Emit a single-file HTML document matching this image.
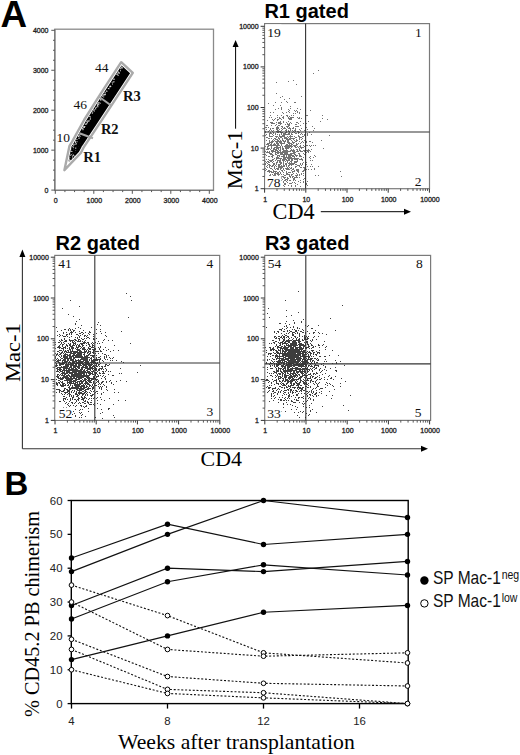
<!DOCTYPE html>
<html><head><meta charset="utf-8"><style>
html,body{margin:0;padding:0;background:#fff;width:520px;height:755px;overflow:hidden}
svg{display:block}
</style></head><body>
<svg width="520" height="755" viewBox="0 0 520 755">
<text x="0.4" y="26.7" font-family='"Liberation Sans", sans-serif' font-size="36.8" font-weight="bold" fill="#000" >A</text>
<text x="4.6" y="494.8" font-family='"Liberation Sans", sans-serif' font-size="33" font-weight="bold" fill="#000" >B</text>
<rect x="54.8" y="29.2" width="158.7" height="161.1" fill="none" stroke="#8a8a8a" stroke-width="1.3"/>
<line x1="54.8" y1="29.2" x2="54.8" y2="190.3" stroke="#7a7a7a" stroke-width="1.3" />
<line x1="54.8" y1="190.3" x2="213.5" y2="190.3" stroke="#7a7a7a" stroke-width="1.3" />
<line x1="51.3" y1="190.1" x2="54.8" y2="190.1" stroke="#555" stroke-width="1" />
<text x="48.5" y="192.6" font-family='"Liberation Sans", sans-serif' font-size="7" text-anchor="end" fill="#222" stroke="#222" stroke-width="0.3">0</text>
<line x1="55.3" y1="190.3" x2="55.3" y2="193.8" stroke="#555" stroke-width="1" />
<text x="55.8" y="202.5" font-family='"Liberation Sans", sans-serif' font-size="7" text-anchor="middle" fill="#222" stroke="#222" stroke-width="0.3">0</text>
<line x1="51.3" y1="150.15" x2="54.8" y2="150.15" stroke="#555" stroke-width="1" />
<text x="48.5" y="152.65" font-family='"Liberation Sans", sans-serif' font-size="7" text-anchor="end" fill="#222" stroke="#222" stroke-width="0.3">1000</text>
<line x1="93.8" y1="190.3" x2="93.8" y2="193.8" stroke="#555" stroke-width="1" />
<text x="94.3" y="202.5" font-family='"Liberation Sans", sans-serif' font-size="7" text-anchor="middle" fill="#222" stroke="#222" stroke-width="0.3">1000</text>
<line x1="51.3" y1="110.2" x2="54.8" y2="110.2" stroke="#555" stroke-width="1" />
<text x="48.5" y="112.7" font-family='"Liberation Sans", sans-serif' font-size="7" text-anchor="end" fill="#222" stroke="#222" stroke-width="0.3">2000</text>
<line x1="132.3" y1="190.3" x2="132.3" y2="193.8" stroke="#555" stroke-width="1" />
<text x="132.8" y="202.5" font-family='"Liberation Sans", sans-serif' font-size="7" text-anchor="middle" fill="#222" stroke="#222" stroke-width="0.3">2000</text>
<line x1="51.3" y1="70.25" x2="54.8" y2="70.25" stroke="#555" stroke-width="1" />
<text x="48.5" y="72.75" font-family='"Liberation Sans", sans-serif' font-size="7" text-anchor="end" fill="#222" stroke="#222" stroke-width="0.3">3000</text>
<line x1="170.8" y1="190.3" x2="170.8" y2="193.8" stroke="#555" stroke-width="1" />
<text x="171.3" y="202.5" font-family='"Liberation Sans", sans-serif' font-size="7" text-anchor="middle" fill="#222" stroke="#222" stroke-width="0.3">3000</text>
<line x1="51.3" y1="30.3" x2="54.8" y2="30.3" stroke="#555" stroke-width="1" />
<text x="48.5" y="32.8" font-family='"Liberation Sans", sans-serif' font-size="7" text-anchor="end" fill="#222" stroke="#222" stroke-width="0.3">4000</text>
<line x1="209.3" y1="190.3" x2="209.3" y2="193.8" stroke="#555" stroke-width="1" />
<text x="209.8" y="202.5" font-family='"Liberation Sans", sans-serif' font-size="7" text-anchor="middle" fill="#222" stroke="#222" stroke-width="0.3">4000</text>
<line x1="53" y1="180.11" x2="54.8" y2="180.11" stroke="#555" stroke-width="1" />
<line x1="64.92" y1="190.3" x2="64.92" y2="192.1" stroke="#555" stroke-width="1" />
<line x1="53" y1="170.12" x2="54.8" y2="170.12" stroke="#555" stroke-width="1" />
<line x1="74.55" y1="190.3" x2="74.55" y2="192.1" stroke="#555" stroke-width="1" />
<line x1="53" y1="160.14" x2="54.8" y2="160.14" stroke="#555" stroke-width="1" />
<line x1="84.17" y1="190.3" x2="84.17" y2="192.1" stroke="#555" stroke-width="1" />
<line x1="53" y1="140.16" x2="54.8" y2="140.16" stroke="#555" stroke-width="1" />
<line x1="103.42" y1="190.3" x2="103.42" y2="192.1" stroke="#555" stroke-width="1" />
<line x1="53" y1="130.17" x2="54.8" y2="130.17" stroke="#555" stroke-width="1" />
<line x1="113.05" y1="190.3" x2="113.05" y2="192.1" stroke="#555" stroke-width="1" />
<line x1="53" y1="120.19" x2="54.8" y2="120.19" stroke="#555" stroke-width="1" />
<line x1="122.67" y1="190.3" x2="122.67" y2="192.1" stroke="#555" stroke-width="1" />
<line x1="53" y1="100.21" x2="54.8" y2="100.21" stroke="#555" stroke-width="1" />
<line x1="141.93" y1="190.3" x2="141.93" y2="192.1" stroke="#555" stroke-width="1" />
<line x1="53" y1="90.22" x2="54.8" y2="90.22" stroke="#555" stroke-width="1" />
<line x1="151.55" y1="190.3" x2="151.55" y2="192.1" stroke="#555" stroke-width="1" />
<line x1="53" y1="80.24" x2="54.8" y2="80.24" stroke="#555" stroke-width="1" />
<line x1="161.18" y1="190.3" x2="161.18" y2="192.1" stroke="#555" stroke-width="1" />
<line x1="53" y1="60.26" x2="54.8" y2="60.26" stroke="#555" stroke-width="1" />
<line x1="180.43" y1="190.3" x2="180.43" y2="192.1" stroke="#555" stroke-width="1" />
<line x1="53" y1="50.27" x2="54.8" y2="50.27" stroke="#555" stroke-width="1" />
<line x1="190.05" y1="190.3" x2="190.05" y2="192.1" stroke="#555" stroke-width="1" />
<line x1="53" y1="40.29" x2="54.8" y2="40.29" stroke="#555" stroke-width="1" />
<line x1="199.68" y1="190.3" x2="199.68" y2="192.1" stroke="#555" stroke-width="1" />
<defs><clipPath id="gclip"><polygon points="67.96,163.42 71.48,146.61 73.8,142.98 85.91,121.07 101.17,96.73 121.6,65.43 130.07,73.24 99.05,120.54 81.68,146.64 79.07,151.77"/></clipPath></defs>
<g clip-path="url(#gclip)">
<polygon points="59.2,130.7 101.9,156.75 180.05,28.65 137.35,2.6" fill="#000"/>
<path d="M78.76 142.55h1.1v1.1h-1.1zM93.17 152.7h1.1v1.1h-1.1zM87.8 158.55h1.1v1.1h-1.1zM74.63 161.34h1.1v1.1h-1.1zM76.59 156.88h1.1v1.1h-1.1zM73.5 157.1h1.1v1.1h-1.1zM69.74 144.93h1.1v1.1h-1.1zM90.95 170.97h1.1v1.1h-1.1zM66.17 136.13h1.1v1.1h-1.1zM76.97 153.28h1.1v1.1h-1.1zM62.36 135.02h1.1v1.1h-1.1zM60.01 132.26h1.1v1.1h-1.1zM90.6 154.48h1.1v1.1h-1.1zM68.83 141.67h1.1v1.1h-1.1zM76.31 148.22h1.1v1.1h-1.1zM63.58 141.45h1.1v1.1h-1.1zM82.85 163.38h1.1v1.1h-1.1zM86.25 147.95h1.1v1.1h-1.1zM67.39 137.09h1.1v1.1h-1.1zM78.61 150.13h1.1v1.1h-1.1zM64.26 146.22h1.1v1.1h-1.1zM71.15 159.66h1.1v1.1h-1.1zM79.39 146.14h1.1v1.1h-1.1zM87.59 171.64h1.1v1.1h-1.1zM82.21 163.48h1.1v1.1h-1.1zM61.76 134.68h1.1v1.1h-1.1zM85.66 151.45h1.1v1.1h-1.1zM82.26 144.43h1.1v1.1h-1.1zM70.26 147.05h1.1v1.1h-1.1zM67.03 149.23h1.1v1.1h-1.1zM60.79 139.6h1.1v1.1h-1.1zM61.09 131.39h1.1v1.1h-1.1zM78.73 156.65h1.1v1.1h-1.1zM77.29 143.36h1.1v1.1h-1.1zM70.65 152.25h1.1v1.1h-1.1zM84.23 157.43h1.1v1.1h-1.1zM94.23 169.94h1.1v1.1h-1.1zM77.21 146.64h1.1v1.1h-1.1zM64.92 141.51h1.1v1.1h-1.1zM86.28 165.28h1.1v1.1h-1.1zM70.14 142.87h1.1v1.1h-1.1zM94.96 153.28h1.1v1.1h-1.1zM69.3 149.53h1.1v1.1h-1.1zM86.34 155.94h1.1v1.1h-1.1zM79.51 143.93h1.1v1.1h-1.1zM64.89 134.24h1.1v1.1h-1.1zM67.56 138.01h1.1v1.1h-1.1zM89.7 166.9h1.1v1.1h-1.1zM76.56 153.18h1.1v1.1h-1.1zM76.01 151.47h1.1v1.1h-1.1zM92.2 155.98h1.1v1.1h-1.1zM66.56 135.72h1.1v1.1h-1.1zM92.76 160.82h1.1v1.1h-1.1zM73.09 140.92h1.1v1.1h-1.1zM60.1 138.43h1.1v1.1h-1.1zM87.05 154.15h1.1v1.1h-1.1zM66.97 136.88h1.1v1.1h-1.1zM89.42 168.89h1.1v1.1h-1.1zM67.62 142.7h1.1v1.1h-1.1zM66.48 139.99h1.1v1.1h-1.1zM87.83 151.31h1.1v1.1h-1.1zM66.4 135.47h1.1v1.1h-1.1zM78.13 143.41h1.1v1.1h-1.1zM81.66 148.5h1.1v1.1h-1.1zM66.28 147.71h1.1v1.1h-1.1zM64.5 145.67h1.1v1.1h-1.1zM75.47 149.49h1.1v1.1h-1.1zM93.48 168.97h1.1v1.1h-1.1zM87.59 169.67h1.1v1.1h-1.1zM61.29 133.74h1.1v1.1h-1.1zM94.75 155.23h1.1v1.1h-1.1zM94.67 152.71h1.1v1.1h-1.1zM66.19 160.69h1.1v1.1h-1.1zM67.95 156.35h1.1v1.1h-1.1zM60.09 142.04h1.1v1.1h-1.1zM80.43 153.28h1.1v1.1h-1.1zM81.84 147.8h1.1v1.1h-1.1zM92.8 160.21h1.1v1.1h-1.1zM78.6 144.49h1.1v1.1h-1.1zM62.04 162.39h1.1v1.1h-1.1zM82.45 164.04h1.1v1.1h-1.1zM70.83 139.41h1.1v1.1h-1.1zM89.59 159.16h1.1v1.1h-1.1zM93.06 160.82h1.1v1.1h-1.1zM85.36 152.38h1.1v1.1h-1.1zM67.42 154.89h1.1v1.1h-1.1zM84.4 160.37h1.1v1.1h-1.1zM71.17 145.34h1.1v1.1h-1.1zM84.66 150.82h1.1v1.1h-1.1zM63.85 155.55h1.1v1.1h-1.1zM72.2 140.68h1.1v1.1h-1.1zM65.46 136.88h1.1v1.1h-1.1zM94.13 159.98h1.1v1.1h-1.1zM66.87 155.62h1.1v1.1h-1.1zM67.23 143.64h1.1v1.1h-1.1zM70.96 155.16h1.1v1.1h-1.1zM61.34 151.08h1.1v1.1h-1.1zM89.01 150.04h1.1v1.1h-1.1zM61.98 138.17h1.1v1.1h-1.1zM76.42 151.98h1.1v1.1h-1.1zM68.57 139.49h1.1v1.1h-1.1zM89.1 155.39h1.1v1.1h-1.1zM87.58 165.26h1.1v1.1h-1.1zM64.88 148.67h1.1v1.1h-1.1zM76.96 168.08h1.1v1.1h-1.1zM85.14 155.01h1.1v1.1h-1.1zM82.22 162.64h1.1v1.1h-1.1zM61.74 139.42h1.1v1.1h-1.1zM70.57 145.25h1.1v1.1h-1.1zM61.91 152.24h1.1v1.1h-1.1zM89.94 160.03h1.1v1.1h-1.1zM93.75 159.43h1.1v1.1h-1.1zM75.36 157.49h1.1v1.1h-1.1zM87.46 152.21h1.1v1.1h-1.1zM60.06 137.63h1.1v1.1h-1.1zM90.35 152.45h1.1v1.1h-1.1zM88.23 162.06h1.1v1.1h-1.1zM79.76 144.32h1.1v1.1h-1.1zM61.33 134.65h1.1v1.1h-1.1zM93.15 168.68h1.1v1.1h-1.1zM80.93 144.08h1.1v1.1h-1.1zM61.35 137.28h1.1v1.1h-1.1zM82.63 172.3h1.1v1.1h-1.1zM80.7 161.38h1.1v1.1h-1.1zM64.35 148.1h1.1v1.1h-1.1zM76.71 155.15h1.1v1.1h-1.1zM84.98 151.56h1.1v1.1h-1.1zM91.33 157.08h1.1v1.1h-1.1zM89.13 150.28h1.1v1.1h-1.1zM78.3 158.73h1.1v1.1h-1.1zM90.43 159.42h1.1v1.1h-1.1zM80.05 160.84h1.1v1.1h-1.1zM72.76 150.48h1.1v1.1h-1.1zM75.16 149.23h1.1v1.1h-1.1zM70.69 156.08h1.1v1.1h-1.1zM64.6 139.09h1.1v1.1h-1.1zM79.48 148.59h1.1v1.1h-1.1zM65.41 141.18h1.1v1.1h-1.1zM93.7 152.45h1.1v1.1h-1.1zM77.48 146.31h1.1v1.1h-1.1zM80.14 152.92h1.1v1.1h-1.1zM70.74 158.15h1.1v1.1h-1.1zM77.43 151.56h1.1v1.1h-1.1zM80.11 144.73h1.1v1.1h-1.1zM63.5 133.19h1.1v1.1h-1.1zM65.93 137.8h1.1v1.1h-1.1zM91.63 152.95h1.1v1.1h-1.1zM75.74 143.51h1.1v1.1h-1.1zM75.39 154.77h1.1v1.1h-1.1zM66.07 142.2h1.1v1.1h-1.1zM78.68 143.51h1.1v1.1h-1.1zM65.46 158.88h1.1v1.1h-1.1zM67.95 146.73h1.1v1.1h-1.1zM91.49 153.2h1.1v1.1h-1.1zM68.62 154.19h1.1v1.1h-1.1zM77.96 151.04h1.1v1.1h-1.1zM83.01 152.25h1.1v1.1h-1.1zM62.31 139.94h1.1v1.1h-1.1zM90.9 166.34h1.1v1.1h-1.1zM61.4 132.78h1.1v1.1h-1.1zM70.61 143.28h1.1v1.1h-1.1zM70.88 155.64h1.1v1.1h-1.1zM89.2 162.27h1.1v1.1h-1.1zM61.66 136.73h1.1v1.1h-1.1zM92.01 160.98h1.1v1.1h-1.1zM84.44 145.56h1.1v1.1h-1.1zM67.05 139.91h1.1v1.1h-1.1zM84.74 157.18h1.1v1.1h-1.1zM64.01 138.89h1.1v1.1h-1.1zM84.56 146.5h1.1v1.1h-1.1zM71.36 147.5h1.1v1.1h-1.1zM66.64 151.07h1.1v1.1h-1.1zM92.73 156.32h1.1v1.1h-1.1zM70.49 152.89h1.1v1.1h-1.1zM61.4 146.1h1.1v1.1h-1.1zM83.16 149.7h1.1v1.1h-1.1zM88.91 168.39h1.1v1.1h-1.1zM83.68 154.24h1.1v1.1h-1.1zM72.02 167.48h1.1v1.1h-1.1zM79.77 144.02h1.1v1.1h-1.1zM77.12 151.59h1.1v1.1h-1.1zM77.96 153.25h1.1v1.1h-1.1zM85.01 161.33h1.1v1.1h-1.1zM94.67 159.64h1.1v1.1h-1.1zM68.29 142.87h1.1v1.1h-1.1zM93.18 159.65h1.1v1.1h-1.1zM79.21 163.55h1.1v1.1h-1.1zM92.39 157.41h1.1v1.1h-1.1zM60.48 141.43h1.1v1.1h-1.1zM90.56 154.32h1.1v1.1h-1.1zM91.29 153.28h1.1v1.1h-1.1zM80.2 143.62h1.1v1.1h-1.1zM69.54 138.12h1.1v1.1h-1.1zM93.49 172.62h1.1v1.1h-1.1zM79.28 144.49h1.1v1.1h-1.1zM76.85 142.63h1.1v1.1h-1.1zM68.22 141.76h1.1v1.1h-1.1zM75.59 152.3h1.1v1.1h-1.1zM92.24 153h1.1v1.1h-1.1zM67.64 144.18h1.1v1.1h-1.1zM64.78 134.03h1.1v1.1h-1.1zM62.01 144.89h1.1v1.1h-1.1zM77.3 153.7h1.1v1.1h-1.1zM83.01 153.88h1.1v1.1h-1.1zM60.98 131.44h1.1v1.1h-1.1zM77.56 151.65h1.1v1.1h-1.1zM93.07 155.1h1.1v1.1h-1.1zM68.82 137.59h1.1v1.1h-1.1zM86.57 155.85h1.1v1.1h-1.1zM87.29 166.44h1.1v1.1h-1.1zM65.91 157.77h1.1v1.1h-1.1zM90.87 172.02h1.1v1.1h-1.1zM61.33 149.23h1.1v1.1h-1.1zM85.84 149.03h1.1v1.1h-1.1zM73.97 140.28h1.1v1.1h-1.1zM73.49 144.68h1.1v1.1h-1.1zM82.62 151.35h1.1v1.1h-1.1zM85.25 150.06h1.1v1.1h-1.1zM72.98 141.32h1.1v1.1h-1.1zM69.61 140.55h1.1v1.1h-1.1zM80.75 147.2h1.1v1.1h-1.1zM86.92 161.95h1.1v1.1h-1.1zM71.7 149.87h1.1v1.1h-1.1zM69.18 140.03h1.1v1.1h-1.1zM78.79 142.94h1.1v1.1h-1.1zM92.18 151.69h1.1v1.1h-1.1zM75.18 155.69h1.1v1.1h-1.1zM91.71 157.92h1.1v1.1h-1.1zM61.98 158.39h1.1v1.1h-1.1zM67.82 151.19h1.1v1.1h-1.1zM93.05 156.51h1.1v1.1h-1.1zM71.66 146.58h1.1v1.1h-1.1zM62.43 151.84h1.1v1.1h-1.1zM73.11 156.83h1.1v1.1h-1.1zM77.36 150.73h1.1v1.1h-1.1zM78.74 149.33h1.1v1.1h-1.1zM66.92 144.38h1.1v1.1h-1.1zM77.56 167.75h1.1v1.1h-1.1zM73.76 149.87h1.1v1.1h-1.1zM65.29 141.53h1.1v1.1h-1.1zM66.94 135.54h1.1v1.1h-1.1zM83.55 160.79h1.1v1.1h-1.1zM93.9 162.8h1.1v1.1h-1.1zM66.93 146.98h1.1v1.1h-1.1zM81.17 146.96h1.1v1.1h-1.1zM64.22 157.78h1.1v1.1h-1.1zM85.51 160.99h1.1v1.1h-1.1zM93.35 167.79h1.1v1.1h-1.1zM80.56 152.68h1.1v1.1h-1.1zM71.23 146.04h1.1v1.1h-1.1zM69.11 143.91h1.1v1.1h-1.1zM88.93 152.19h1.1v1.1h-1.1zM74.45 163.77h1.1v1.1h-1.1zM90.51 150.53h1.1v1.1h-1.1zM83.43 168.27h1.1v1.1h-1.1zM83.37 152.74h1.1v1.1h-1.1zM67.46 135.75h1.1v1.1h-1.1zM72.59 158.57h1.1v1.1h-1.1zM71.59 152.29h1.1v1.1h-1.1zM77.66 145.35h1.1v1.1h-1.1zM75.91 141.4h1.1v1.1h-1.1zM62.2 134.87h1.1v1.1h-1.1zM69.23 142.06h1.1v1.1h-1.1zM61.55 133.41h1.1v1.1h-1.1zM76.67 164.45h1.1v1.1h-1.1zM67.33 137.09h1.1v1.1h-1.1zM88.42 165.39h1.1v1.1h-1.1zM63.64 153.38h1.1v1.1h-1.1zM62.36 159.77h1.1v1.1h-1.1zM94.17 163.53h1.1v1.1h-1.1zM94.06 159.08h1.1v1.1h-1.1zM80.81 163.38h1.1v1.1h-1.1zM63.55 142.64h1.1v1.1h-1.1zM78.2 146.87h1.1v1.1h-1.1zM89.3 159.4h1.1v1.1h-1.1zM70.52 141.73h1.1v1.1h-1.1zM69.6 136.99h1.1v1.1h-1.1zM87.81 150.54h1.1v1.1h-1.1zM63.14 135.19h1.1v1.1h-1.1zM68.7 137.34h1.1v1.1h-1.1zM60.51 142.35h1.1v1.1h-1.1zM63.5 139.55h1.1v1.1h-1.1zM71.98 164.95h1.1v1.1h-1.1zM72.82 150.11h1.1v1.1h-1.1zM66.79 135.51h1.1v1.1h-1.1zM61.03 146.04h1.1v1.1h-1.1zM76.1 159.15h1.1v1.1h-1.1zM64.12 148.02h1.1v1.1h-1.1zM68.08 146.13h1.1v1.1h-1.1zM92.78 151.63h1.1v1.1h-1.1zM76.13 160.1h1.1v1.1h-1.1zM62.87 135.41h1.1v1.1h-1.1zM60.8 142.95h1.1v1.1h-1.1zM64.82 136.54h1.1v1.1h-1.1zM80.5 146.72h1.1v1.1h-1.1zM82.87 149.61h1.1v1.1h-1.1zM91.41 152.38h1.1v1.1h-1.1zM83.52 163.38h1.1v1.1h-1.1zM93.55 162.71h1.1v1.1h-1.1zM83.22 161.81h1.1v1.1h-1.1zM84.66 145.99h1.1v1.1h-1.1zM66.06 158.4h1.1v1.1h-1.1zM62.94 132.8h1.1v1.1h-1.1zM81.84 158.44h1.1v1.1h-1.1zM92.51 151.9h1.1v1.1h-1.1zM87.9 163.5h1.1v1.1h-1.1zM83.22 152.12h1.1v1.1h-1.1zM66.75 152.96h1.1v1.1h-1.1zM71.04 159.62h1.1v1.1h-1.1zM61.72 149.66h1.1v1.1h-1.1zM77.74 150.02h1.1v1.1h-1.1zM73.55 148.21h1.1v1.1h-1.1zM93.47 153.99h1.1v1.1h-1.1zM68.68 137.25h1.1v1.1h-1.1zM90.21 152.59h1.1v1.1h-1.1zM89.7 164.31h1.1v1.1h-1.1zM72.8 142.98h1.1v1.1h-1.1zM83.69 156.32h1.1v1.1h-1.1zM90.46 151.29h1.1v1.1h-1.1zM63.51 140.7h1.1v1.1h-1.1zM91.49 160.22h1.1v1.1h-1.1zM90.59 152.52h1.1v1.1h-1.1zM86.07 163.48h1.1v1.1h-1.1zM67.06 139.48h1.1v1.1h-1.1zM92.64 151.88h1.1v1.1h-1.1zM68.95 149.8h1.1v1.1h-1.1zM84.92 159.11h1.1v1.1h-1.1zM89.34 169.4h1.1v1.1h-1.1zM87.89 157.53h1.1v1.1h-1.1zM65.67 135.49h1.1v1.1h-1.1zM66.93 153.41h1.1v1.1h-1.1zM72.39 145.41h1.1v1.1h-1.1zM74.06 145.76h1.1v1.1h-1.1zM93.07 151.37h1.1v1.1h-1.1zM91.41 163.42h1.1v1.1h-1.1zM76.69 140.97h1.1v1.1h-1.1zM72.97 143.61h1.1v1.1h-1.1zM91.95 150.87h1.1v1.1h-1.1zM72.29 160.38h1.1v1.1h-1.1zM78.56 157.67h1.1v1.1h-1.1zM73.42 158.15h1.1v1.1h-1.1zM92.51 154.53h1.1v1.1h-1.1zM92.56 161.33h1.1v1.1h-1.1zM85.56 156.14h1.1v1.1h-1.1zM77.28 159.65h1.1v1.1h-1.1zM68.72 164.12h1.1v1.1h-1.1zM89.8 167.88h1.1v1.1h-1.1zM83.87 160.75h1.1v1.1h-1.1zM83.94 151.6h1.1v1.1h-1.1zM76.46 148.67h1.1v1.1h-1.1zM93.59 172.12h1.1v1.1h-1.1zM61 134.82h1.1v1.1h-1.1zM93.19 157.9h1.1v1.1h-1.1zM90.19 157.15h1.1v1.1h-1.1zM70.95 152.29h1.1v1.1h-1.1zM90.82 149.75h1.1v1.1h-1.1zM89.06 172.1h1.1v1.1h-1.1zM81.82 156.36h1.1v1.1h-1.1zM85.41 151.46h1.1v1.1h-1.1zM62.88 140.92h1.1v1.1h-1.1zM82.71 145.33h1.1v1.1h-1.1zM65.41 139.66h1.1v1.1h-1.1zM65.48 155.01h1.1v1.1h-1.1zM67.8 144.12h1.1v1.1h-1.1zM64.95 148.22h1.1v1.1h-1.1zM85.03 163.44h1.1v1.1h-1.1zM74.66 156.88h1.1v1.1h-1.1zM73.13 138.94h1.1v1.1h-1.1zM75.82 142.18h1.1v1.1h-1.1zM62.13 142.31h1.1v1.1h-1.1zM68.03 141.17h1.1v1.1h-1.1zM73.91 153.57h1.1v1.1h-1.1zM83.6 154.33h1.1v1.1h-1.1zM67.45 139.94h1.1v1.1h-1.1zM72.63 144.3h1.1v1.1h-1.1zM83.65 148.86h1.1v1.1h-1.1zM82.58 158.3h1.1v1.1h-1.1zM76.92 154.6h1.1v1.1h-1.1zM88.98 149.99h1.1v1.1h-1.1zM60.91 141.16h1.1v1.1h-1.1zM62.53 154.96h1.1v1.1h-1.1zM65.59 139.04h1.1v1.1h-1.1zM73.19 152.78h1.1v1.1h-1.1zM66.4 152.72h1.1v1.1h-1.1zM77.63 165.17h1.1v1.1h-1.1zM82.52 158.18h1.1v1.1h-1.1zM79.27 160.19h1.1v1.1h-1.1zM89.36 166.78h1.1v1.1h-1.1zM87.6 159.69h1.1v1.1h-1.1zM76.15 152.59h1.1v1.1h-1.1zM79.51 166.51h1.1v1.1h-1.1zM79.1 163.79h1.1v1.1h-1.1zM92.85 168.07h1.1v1.1h-1.1zM79.63 144.98h1.1v1.1h-1.1zM80.51 159.1h1.1v1.1h-1.1zM70.55 159.36h1.1v1.1h-1.1zM65.29 135.68h1.1v1.1h-1.1zM63.17 134.34h1.1v1.1h-1.1zM80.92 166.44h1.1v1.1h-1.1zM69.62 155.84h1.1v1.1h-1.1zM88.04 148.8h1.1v1.1h-1.1zM88.5 154.37h1.1v1.1h-1.1zM69.07 154.58h1.1v1.1h-1.1zM76.19 159.25h1.1v1.1h-1.1zM73.69 145.39h1.1v1.1h-1.1zM87.56 147.81h1.1v1.1h-1.1zM89.56 157.13h1.1v1.1h-1.1zM65.45 152.26h1.1v1.1h-1.1zM69.36 143.95h1.1v1.1h-1.1zM75.24 143.24h1.1v1.1h-1.1zM67.99 137.14h1.1v1.1h-1.1zM94.63 167.56h1.1v1.1h-1.1zM79.24 164.02h1.1v1.1h-1.1zM88.44 152.2h1.1v1.1h-1.1zM87.76 155.32h1.1v1.1h-1.1zM62.66 146.72h1.1v1.1h-1.1zM82.6 149.26h1.1v1.1h-1.1zM78.98 143.03h1.1v1.1h-1.1zM94.53 161.41h1.1v1.1h-1.1zM90.75 156.92h1.1v1.1h-1.1zM93.91 154.92h1.1v1.1h-1.1zM78.06 143.51h1.1v1.1h-1.1zM79.17 169.54h1.1v1.1h-1.1zM88.05 149.35h1.1v1.1h-1.1zM88.72 164.4h1.1v1.1h-1.1zM92.89 163.9h1.1v1.1h-1.1zM89.71 152.21h1.1v1.1h-1.1zM68.81 151.05h1.1v1.1h-1.1zM84.4 157.31h1.1v1.1h-1.1zM74.32 146.58h1.1v1.1h-1.1zM78.61 158.57h1.1v1.1h-1.1zM73.48 139.06h1.1v1.1h-1.1zM82.35 148.07h1.1v1.1h-1.1zM77.57 161.89h1.1v1.1h-1.1zM86.34 147.49h1.1v1.1h-1.1zM67.74 143.01h1.1v1.1h-1.1zM72.29 145.07h1.1v1.1h-1.1zM94.28 152.03h1.1v1.1h-1.1zM61.88 132.64h1.1v1.1h-1.1zM78.81 150.58h1.1v1.1h-1.1zM79.37 156.41h1.1v1.1h-1.1zM61.53 148.38h1.1v1.1h-1.1zM85.79 155.03h1.1v1.1h-1.1zM73.75 151.97h1.1v1.1h-1.1zM66.92 139.92h1.1v1.1h-1.1zM93.23 170.91h1.1v1.1h-1.1zM71.55 140.41h1.1v1.1h-1.1zM75.06 168.11h1.1v1.1h-1.1zM64.08 142.63h1.1v1.1h-1.1zM79.66 147.83h1.1v1.1h-1.1zM77.44 156.93h1.1v1.1h-1.1zM66.57 159.13h1.1v1.1h-1.1zM65.21 150.36h1.1v1.1h-1.1zM81.8 166.33h1.1v1.1h-1.1zM93.82 167.77h1.1v1.1h-1.1zM87.42 159.72h1.1v1.1h-1.1zM74.47 170.43h1.1v1.1h-1.1zM77.93 163.5h1.1v1.1h-1.1zM69.31 136.48h1.1v1.1h-1.1zM71.5 140.03h1.1v1.1h-1.1zM88.16 171.94h1.1v1.1h-1.1zM74.91 145.22h1.1v1.1h-1.1zM73.69 145.49h1.1v1.1h-1.1zM85.03 147.04h1.1v1.1h-1.1zM64.26 135.99h1.1v1.1h-1.1zM64.35 151.9h1.1v1.1h-1.1zM65.79 134.23h1.1v1.1h-1.1zM67.48 140.95h1.1v1.1h-1.1zM84.45 147.12h1.1v1.1h-1.1zM62.41 137.47h1.1v1.1h-1.1zM88.8 151.4h1.1v1.1h-1.1zM68.7 138.98h1.1v1.1h-1.1zM88.77 153.12h1.1v1.1h-1.1zM69.87 138.08h1.1v1.1h-1.1zM66.09 136.6h1.1v1.1h-1.1zM81.08 162.53h1.1v1.1h-1.1zM74.13 163.41h1.1v1.1h-1.1zM87.56 152.48h1.1v1.1h-1.1zM74.26 150.83h1.1v1.1h-1.1zM73 141.48h1.1v1.1h-1.1zM78.59 161.98h1.1v1.1h-1.1zM73.93 147.99h1.1v1.1h-1.1zM69.14 146.49h1.1v1.1h-1.1zM64.33 141.59h1.1v1.1h-1.1zM85 147.61h1.1v1.1h-1.1zM76.31 154.58h1.1v1.1h-1.1zM88.56 148.44h1.1v1.1h-1.1zM94.43 169.96h1.1v1.1h-1.1zM72.85 152.93h1.1v1.1h-1.1zM84.79 156.32h1.1v1.1h-1.1zM78.8 152.59h1.1v1.1h-1.1zM71.35 140.16h1.1v1.1h-1.1zM81.33 145.32h1.1v1.1h-1.1zM82.07 160.45h1.1v1.1h-1.1zM61.28 145.72h1.1v1.1h-1.1zM78.41 155.36h1.1v1.1h-1.1zM81.7 151.01h1.1v1.1h-1.1zM78.34 145.21h1.1v1.1h-1.1zM85.75 158.61h1.1v1.1h-1.1zM60.69 141.34h1.1v1.1h-1.1zM91.6 164.11h1.1v1.1h-1.1zM62.11 145.88h1.1v1.1h-1.1zM74.28 152.22h1.1v1.1h-1.1zM63.4 139.94h1.1v1.1h-1.1zM94.32 163.04h1.1v1.1h-1.1zM69.06 143.34h1.1v1.1h-1.1zM60.09 137.48h1.1v1.1h-1.1zM71.35 144.9h1.1v1.1h-1.1zM88.7 167.79h1.1v1.1h-1.1zM77.54 151.94h1.1v1.1h-1.1zM80.1 157.32h1.1v1.1h-1.1zM79.81 153.86h1.1v1.1h-1.1zM80.62 150.42h1.1v1.1h-1.1zM93.97 161.48h1.1v1.1h-1.1zM79.9 146.1h1.1v1.1h-1.1zM84.84 148.49h1.1v1.1h-1.1zM94.96 163.4h1.1v1.1h-1.1zM75.65 142.16h1.1v1.1h-1.1zM76.46 150.56h1.1v1.1h-1.1zM63.68 148.23h1.1v1.1h-1.1zM77.5 150.45h1.1v1.1h-1.1zM77.26 163.21h1.1v1.1h-1.1zM64.64 134.9h1.1v1.1h-1.1zM84.94 163.07h1.1v1.1h-1.1zM76.81 147.49h1.1v1.1h-1.1zM93.38 153.54h1.1v1.1h-1.1zM85.13 150.8h1.1v1.1h-1.1zM73.6 146.6h1.1v1.1h-1.1zM86.03 168.44h1.1v1.1h-1.1zM60.41 154.33h1.1v1.1h-1.1zM72.42 159.4h1.1v1.1h-1.1zM78.05 150.89h1.1v1.1h-1.1zM80.29 146.41h1.1v1.1h-1.1zM89.06 158.19h1.1v1.1h-1.1zM93.91 166.49h1.1v1.1h-1.1zM94.85 153.75h1.1v1.1h-1.1zM67.79 156.35h1.1v1.1h-1.1zM93.73 152.89h1.1v1.1h-1.1zM76.57 159.22h1.1v1.1h-1.1zM89.97 157.59h1.1v1.1h-1.1zM75.45 157.78h1.1v1.1h-1.1zM67.6 137.31h1.1v1.1h-1.1zM60.08 141.98h1.1v1.1h-1.1zM92.45 161.6h1.1v1.1h-1.1zM82.84 149.02h1.1v1.1h-1.1zM91.67 151.16h1.1v1.1h-1.1zM82.59 163.75h1.1v1.1h-1.1zM83.27 150.05h1.1v1.1h-1.1zM73.44 151.51h1.1v1.1h-1.1zM74.37 142.36h1.1v1.1h-1.1zM79.09 167.23h1.1v1.1h-1.1zM69.68 149.69h1.1v1.1h-1.1zM89.58 166.09h1.1v1.1h-1.1zM93.29 156.01h1.1v1.1h-1.1zM79.64 160.46h1.1v1.1h-1.1zM82.02 157.11h1.1v1.1h-1.1zM62.16 140.73h1.1v1.1h-1.1zM82.07 146.12h1.1v1.1h-1.1zM78.39 147.97h1.1v1.1h-1.1zM75.23 145.08h1.1v1.1h-1.1zM75.15 140.24h1.1v1.1h-1.1zM82.84 145.6h1.1v1.1h-1.1zM73.02 149.62h1.1v1.1h-1.1zM75.27 145.39h1.1v1.1h-1.1zM82.67 151.64h1.1v1.1h-1.1zM68.13 155.43h1.1v1.1h-1.1zM90.9 152.82h1.1v1.1h-1.1zM81.11 151.52h1.1v1.1h-1.1zM67.59 144.49h1.1v1.1h-1.1zM78.89 166.94h1.1v1.1h-1.1zM60.47 147.31h1.1v1.1h-1.1zM78.89 147.18h1.1v1.1h-1.1zM83.18 148.68h1.1v1.1h-1.1zM62.24 134.86h1.1v1.1h-1.1zM89.79 149.83h1.1v1.1h-1.1zM69.51 149.53h1.1v1.1h-1.1zM68.16 153.68h1.1v1.1h-1.1zM78.2 156.1h1.1v1.1h-1.1zM62.19 145.01h1.1v1.1h-1.1zM86.05 161.71h1.1v1.1h-1.1zM64.34 142.16h1.1v1.1h-1.1zM79.77 150.29h1.1v1.1h-1.1zM85.25 153.04h1.1v1.1h-1.1zM70.52 161.1h1.1v1.1h-1.1zM69.41 151.59h1.1v1.1h-1.1zM92.65 155.28h1.1v1.1h-1.1zM77.46 149.38h1.1v1.1h-1.1zM80.06 156.99h1.1v1.1h-1.1zM68.92 164.56h1.1v1.1h-1.1zM60.17 137.7h1.1v1.1h-1.1zM93.52 157.56h1.1v1.1h-1.1zM68.43 147.8h1.1v1.1h-1.1zM61.57 146.59h1.1v1.1h-1.1zM90.88 158.08h1.1v1.1h-1.1zM81.28 144.05h1.1v1.1h-1.1zM69.88 138.19h1.1v1.1h-1.1zM68.74 149.12h1.1v1.1h-1.1zM87.99 167.2h1.1v1.1h-1.1zM83.31 157.28h1.1v1.1h-1.1zM69.07 140.05h1.1v1.1h-1.1zM94.92 160.24h1.1v1.1h-1.1zM66.15 142.72h1.1v1.1h-1.1zM67.02 141.33h1.1v1.1h-1.1zM82.86 144.73h1.1v1.1h-1.1zM69.24 158.43h1.1v1.1h-1.1zM61.81 138.6h1.1v1.1h-1.1zM92.2 162.9h1.1v1.1h-1.1zM66.96 138.41h1.1v1.1h-1.1zM89.78 158.75h1.1v1.1h-1.1zM82.4 158.34h1.1v1.1h-1.1zM79.16 144.87h1.1v1.1h-1.1zM82.42 168.66h1.1v1.1h-1.1zM81.88 150.64h1.1v1.1h-1.1zM65.09 135.54h1.1v1.1h-1.1zM73.25 152.08h1.1v1.1h-1.1zM72.32 160.43h1.1v1.1h-1.1zM83.55 146.13h1.1v1.1h-1.1zM62.61 138.43h1.1v1.1h-1.1zM77.04 145.23h1.1v1.1h-1.1zM72.31 150.12h1.1v1.1h-1.1zM64.12 135.79h1.1v1.1h-1.1zM86.36 149.92h1.1v1.1h-1.1zM94.1 163.69h1.1v1.1h-1.1zM87.09 150.42h1.1v1.1h-1.1zM83.4 170.56h1.1v1.1h-1.1zM75.8 145.74h1.1v1.1h-1.1zM79.41 150.11h1.1v1.1h-1.1zM83.86 168.93h1.1v1.1h-1.1zM78.33 162.56h1.1v1.1h-1.1zM80.55 147.03h1.1v1.1h-1.1zM66.09 148.28h1.1v1.1h-1.1zM86.26 154.89h1.1v1.1h-1.1zM75.91 148.89h1.1v1.1h-1.1zM64.52 135.8h1.1v1.1h-1.1zM83.6 167.51h1.1v1.1h-1.1zM62.36 154.69h1.1v1.1h-1.1zM78.44 142.05h1.1v1.1h-1.1zM83.55 148.43h1.1v1.1h-1.1zM73.34 141.86h1.1v1.1h-1.1zM79.09 169.56h1.1v1.1h-1.1zM74.69 142.59h1.1v1.1h-1.1zM74.42 165.7h1.1v1.1h-1.1zM75.65 155.73h1.1v1.1h-1.1zM93.9 154.58h1.1v1.1h-1.1zM80.08 164.86h1.1v1.1h-1.1zM72.38 157.15h1.1v1.1h-1.1zM92.4 158.15h1.1v1.1h-1.1zM75.16 144.3h1.1v1.1h-1.1zM80.24 162.12h1.1v1.1h-1.1zM82.63 157.53h1.1v1.1h-1.1zM68.07 139.55h1.1v1.1h-1.1zM73.79 146.95h1.1v1.1h-1.1zM85.25 160.72h1.1v1.1h-1.1zM68.78 153.69h1.1v1.1h-1.1zM79.4 162.11h1.1v1.1h-1.1zM60.99 131.54h1.1v1.1h-1.1zM78.91 146.86h1.1v1.1h-1.1zM65.28 144.24h1.1v1.1h-1.1zM87.58 153.58h1.1v1.1h-1.1zM62.36 151.12h1.1v1.1h-1.1zM81.89 164.43h1.1v1.1h-1.1zM93.11 156.99h1.1v1.1h-1.1zM86.23 151.19h1.1v1.1h-1.1zM67.72 156.24h1.1v1.1h-1.1zM86.37 157.95h1.1v1.1h-1.1zM82.09 155.89h1.1v1.1h-1.1zM70.21 146.67h1.1v1.1h-1.1zM66.9 140.24h1.1v1.1h-1.1zM64.15 141.11h1.1v1.1h-1.1zM65.98 138.96h1.1v1.1h-1.1zM62.99 140.83h1.1v1.1h-1.1zM94.58 161.61h1.1v1.1h-1.1zM80.76 144.54h1.1v1.1h-1.1zM84.98 167.06h1.1v1.1h-1.1zM75 153.79h1.1v1.1h-1.1zM72.21 152.37h1.1v1.1h-1.1zM76.33 162.8h1.1v1.1h-1.1zM85.13 148.47h1.1v1.1h-1.1zM78.68 172.18h1.1v1.1h-1.1zM74.03 150.61h1.1v1.1h-1.1zM73.36 147.34h1.1v1.1h-1.1zM63.72 135.71h1.1v1.1h-1.1zM69.01 142.05h1.1v1.1h-1.1zM79.34 143.76h1.1v1.1h-1.1zM71.72 147.39h1.1v1.1h-1.1zM93.35 152.2h1.1v1.1h-1.1zM86.71 150.3h1.1v1.1h-1.1zM75.22 149.03h1.1v1.1h-1.1zM76.31 163.58h1.1v1.1h-1.1zM88.79 150.61h1.1v1.1h-1.1zM77.36 147.63h1.1v1.1h-1.1zM86.18 166.89h1.1v1.1h-1.1zM76.34 159.32h1.1v1.1h-1.1zM82.14 149.57h1.1v1.1h-1.1zM77.25 148.53h1.1v1.1h-1.1zM74.32 147.54h1.1v1.1h-1.1zM69.14 144.28h1.1v1.1h-1.1zM65.17 142.45h1.1v1.1h-1.1zM76.8 158.81h1.1v1.1h-1.1zM64.4 159.42h1.1v1.1h-1.1zM80.84 162.21h1.1v1.1h-1.1zM89.41 150.13h1.1v1.1h-1.1zM81.33 156.07h1.1v1.1h-1.1zM92.27 157.1h1.1v1.1h-1.1zM85.63 154.5h1.1v1.1h-1.1zM68.54 148.5h1.1v1.1h-1.1zM68.3 160.14h1.1v1.1h-1.1zM69.06 147.97h1.1v1.1h-1.1zM82.77 151.19h1.1v1.1h-1.1zM81.28 145.03h1.1v1.1h-1.1zM79.7 142.67h1.1v1.1h-1.1zM79.59 162.33h1.1v1.1h-1.1zM74.76 145.97h1.1v1.1h-1.1zM76.28 152.86h1.1v1.1h-1.1zM81.17 151.01h1.1v1.1h-1.1zM64.15 144.88h1.1v1.1h-1.1zM89.81 152.17h1.1v1.1h-1.1zM79.27 156.47h1.1v1.1h-1.1zM63.06 135.71h1.1v1.1h-1.1zM63.75 133.78h1.1v1.1h-1.1zM69.87 139.28h1.1v1.1h-1.1zM88.49 150.09h1.1v1.1h-1.1zM74.55 152.5h1.1v1.1h-1.1zM62.96 135.34h1.1v1.1h-1.1zM80.55 144.18h1.1v1.1h-1.1zM76.82 152.54h1.1v1.1h-1.1zM83.06 159.08h1.1v1.1h-1.1zM80.61 154.04h1.1v1.1h-1.1zM84.71 146.39h1.1v1.1h-1.1zM90.29 157.02h1.1v1.1h-1.1zM73.4 149.36h1.1v1.1h-1.1zM92.16 163.27h1.1v1.1h-1.1zM72.58 158.15h1.1v1.1h-1.1zM84.05 146.18h1.1v1.1h-1.1zM64.47 136.62h1.1v1.1h-1.1zM92.63 162.39h1.1v1.1h-1.1zM63.45 153.15h1.1v1.1h-1.1zM88.34 155.76h1.1v1.1h-1.1zM88.08 153.66h1.1v1.1h-1.1zM76.06 144.11h1.1v1.1h-1.1zM63.71 147.87h1.1v1.1h-1.1zM75.29 152.01h1.1v1.1h-1.1zM73.39 144.16h1.1v1.1h-1.1zM67.95 139.53h1.1v1.1h-1.1zM89.06 155.81h1.1v1.1h-1.1zM77.49 146.17h1.1v1.1h-1.1zM69.66 138.88h1.1v1.1h-1.1zM85.16 148.82h1.1v1.1h-1.1zM73.91 157.14h1.1v1.1h-1.1zM80.52 153.98h1.1v1.1h-1.1zM85.71 157.66h1.1v1.1h-1.1zM74.32 149.44h1.1v1.1h-1.1zM73.07 160.23h1.1v1.1h-1.1zM92 166.37h1.1v1.1h-1.1zM82.7 148.5h1.1v1.1h-1.1zM68.32 143.53h1.1v1.1h-1.1zM72.43 149.26h1.1v1.1h-1.1zM64.52 155.3h1.1v1.1h-1.1zM88.65 157.91h1.1v1.1h-1.1zM66 156.57h1.1v1.1h-1.1zM86.11 155.46h1.1v1.1h-1.1zM64.57 134.68h1.1v1.1h-1.1zM66.76 144.94h1.1v1.1h-1.1zM74.58 143.18h1.1v1.1h-1.1zM61.47 139.57h1.1v1.1h-1.1zM69.82 150.22h1.1v1.1h-1.1zM88.34 161.67h1.1v1.1h-1.1zM93.4 155.76h1.1v1.1h-1.1zM94.35 158.52h1.1v1.1h-1.1zM60.48 134.3h1.1v1.1h-1.1zM72.33 153.84h1.1v1.1h-1.1zM75.47 157.83h1.1v1.1h-1.1zM65.65 136.34h1.1v1.1h-1.1zM63.89 143.8h1.1v1.1h-1.1zM91.3 165.03h1.1v1.1h-1.1zM62.27 135.57h1.1v1.1h-1.1zM64.59 133.46h1.1v1.1h-1.1zM67.09 147.94h1.1v1.1h-1.1zM84.67 154.27h1.1v1.1h-1.1zM80.68 155.29h1.1v1.1h-1.1zM69.5 136.95h1.1v1.1h-1.1zM93.64 152.59h1.1v1.1h-1.1zM80 159.32h1.1v1.1h-1.1zM75.64 142.68h1.1v1.1h-1.1zM68.19 139.58h1.1v1.1h-1.1zM70.59 145.05h1.1v1.1h-1.1zM71.97 149.39h1.1v1.1h-1.1zM73.32 146.63h1.1v1.1h-1.1zM93.4 158.19h1.1v1.1h-1.1zM67.11 136.43h1.1v1.1h-1.1zM67.3 135.83h1.1v1.1h-1.1zM69.32 145.1h1.1v1.1h-1.1zM60.17 157.35h1.1v1.1h-1.1zM67.28 140.88h1.1v1.1h-1.1zM89.65 165.53h1.1v1.1h-1.1zM92.44 158.94h1.1v1.1h-1.1zM68.41 147.41h1.1v1.1h-1.1zM88.11 159.1h1.1v1.1h-1.1zM84.97 151.36h1.1v1.1h-1.1zM92.06 153.36h1.1v1.1h-1.1zM82.07 153.87h1.1v1.1h-1.1zM70.47 161.55h1.1v1.1h-1.1zM94.37 161.36h1.1v1.1h-1.1zM73.03 141.29h1.1v1.1h-1.1zM62.28 134.88h1.1v1.1h-1.1zM94.3 162.94h1.1v1.1h-1.1zM83.4 154.07h1.1v1.1h-1.1zM65.85 134.46h1.1v1.1h-1.1zM60.9 145.53h1.1v1.1h-1.1zM80.25 144.72h1.1v1.1h-1.1zM84.01 146.17h1.1v1.1h-1.1zM80.57 144.4h1.1v1.1h-1.1zM76.13 147.08h1.1v1.1h-1.1zM71.35 141.69h1.1v1.1h-1.1zM78.61 159.07h1.1v1.1h-1.1zM77.04 169.42h1.1v1.1h-1.1zM78.98 163.26h1.1v1.1h-1.1zM67.68 145.49h1.1v1.1h-1.1zM94.81 156.92h1.1v1.1h-1.1zM86.14 156.13h1.1v1.1h-1.1zM82.24 151.07h1.1v1.1h-1.1zM64.38 142.45h1.1v1.1h-1.1zM69.92 147.08h1.1v1.1h-1.1zM62.23 149.65h1.1v1.1h-1.1zM73.42 151.06h1.1v1.1h-1.1zM76.89 141.62h1.1v1.1h-1.1zM73.89 150.39h1.1v1.1h-1.1zM82.01 148.01h1.1v1.1h-1.1zM94.78 154.64h1.1v1.1h-1.1zM77.27 150.33h1.1v1.1h-1.1zM89.45 172.52h1.1v1.1h-1.1zM66.57 150.46h1.1v1.1h-1.1zM70.57 157.12h1.1v1.1h-1.1zM69.88 157.72h1.1v1.1h-1.1zM94.02 158.23h1.1v1.1h-1.1zM71.41 163.86h1.1v1.1h-1.1zM79.07 143.69h1.1v1.1h-1.1zM82.4 154.81h1.1v1.1h-1.1zM82.34 147.07h1.1v1.1h-1.1zM60.41 135.49h1.1v1.1h-1.1zM70.46 150.28h1.1v1.1h-1.1zM94.41 156.42h1.1v1.1h-1.1zM76.72 146.42h1.1v1.1h-1.1zM71.34 148.17h1.1v1.1h-1.1zM74.89 152.35h1.1v1.1h-1.1zM81.46 154.35h1.1v1.1h-1.1zM75.43 143.18h1.1v1.1h-1.1zM94.17 160.27h1.1v1.1h-1.1zM75.42 145.9h1.1v1.1h-1.1zM69.2 136.27h1.1v1.1h-1.1zM73.78 161.14h1.1v1.1h-1.1zM84.91 147.16h1.1v1.1h-1.1zM71.02 141.28h1.1v1.1h-1.1zM73.52 160.27h1.1v1.1h-1.1zM62.7 153.64h1.1v1.1h-1.1zM86.93 151.41h1.1v1.1h-1.1zM62.25 156.52h1.1v1.1h-1.1zM84.29 155.44h1.1v1.1h-1.1zM76.16 145.31h1.1v1.1h-1.1zM73.98 149.68h1.1v1.1h-1.1zM85.86 158.17h1.1v1.1h-1.1zM85.22 147.62h1.1v1.1h-1.1zM67.97 146.17h1.1v1.1h-1.1zM79.21 150.49h1.1v1.1h-1.1zM84.95 153.47h1.1v1.1h-1.1zM61.36 145.41h1.1v1.1h-1.1zM83.27 156.46h1.1v1.1h-1.1zM67.48 159.13h1.1v1.1h-1.1zM62.87 150.65h1.1v1.1h-1.1zM73.91 143.16h1.1v1.1h-1.1zM90.52 160.37h1.1v1.1h-1.1zM86.93 159.34h1.1v1.1h-1.1zM89.87 150.12h1.1v1.1h-1.1zM62.6 156.6h1.1v1.1h-1.1zM60.45 132.21h1.1v1.1h-1.1zM74.25 140.46h1.1v1.1h-1.1zM92.13 162.41h1.1v1.1h-1.1zM83.58 163.73h1.1v1.1h-1.1zM91.14 153.37h1.1v1.1h-1.1zM74.7 153.31h1.1v1.1h-1.1zM83.27 149.16h1.1v1.1h-1.1zM61.81 148.29h1.1v1.1h-1.1zM72.36 146.63h1.1v1.1h-1.1zM77.29 165.7h1.1v1.1h-1.1zM89.26 157.19h1.1v1.1h-1.1zM73.29 159.66h1.1v1.1h-1.1zM60.28 135.79h1.1v1.1h-1.1zM86.54 155.53h1.1v1.1h-1.1zM74.49 152.83h1.1v1.1h-1.1zM61.67 132.77h1.1v1.1h-1.1zM67.73 140.7h1.1v1.1h-1.1zM88.41 162.08h1.1v1.1h-1.1zM86.83 155.63h1.1v1.1h-1.1zM61.96 136.28h1.1v1.1h-1.1zM77.81 165.84h1.1v1.1h-1.1zM85.45 151.07h1.1v1.1h-1.1zM91.17 163.18h1.1v1.1h-1.1zM84.68 159.24h1.1v1.1h-1.1zM70.54 139.4h1.1v1.1h-1.1zM68.83 153.09h1.1v1.1h-1.1zM86.26 166.72h1.1v1.1h-1.1zM76.57 167.34h1.1v1.1h-1.1zM68.49 136.55h1.1v1.1h-1.1zM94.62 168.36h1.1v1.1h-1.1zM86.6 158.47h1.1v1.1h-1.1zM92.17 159.34h1.1v1.1h-1.1zM90.15 168h1.1v1.1h-1.1zM71.88 147.81h1.1v1.1h-1.1zM75.43 153.79h1.1v1.1h-1.1zM93.86 163.21h1.1v1.1h-1.1zM61.26 153.53h1.1v1.1h-1.1zM78.17 162.15h1.1v1.1h-1.1zM75.29 150.97h1.1v1.1h-1.1zM67.06 154.3h1.1v1.1h-1.1zM80.06 144.74h1.1v1.1h-1.1zM68.8 156.22h1.1v1.1h-1.1zM62.13 136.98h1.1v1.1h-1.1zM82.66 154.56h1.1v1.1h-1.1zM78.88 148.53h1.1v1.1h-1.1zM63.15 158.67h1.1v1.1h-1.1zM67.79 147.58h1.1v1.1h-1.1zM81.7 153.5h1.1v1.1h-1.1zM79.46 166.54h1.1v1.1h-1.1zM84.71 153.47h1.1v1.1h-1.1zM78.99 154.98h1.1v1.1h-1.1zM74.49 144.62h1.1v1.1h-1.1zM80.34 144.58h1.1v1.1h-1.1zM88.26 157.15h1.1v1.1h-1.1zM64.53 152.9h1.1v1.1h-1.1zM86.42 153.55h1.1v1.1h-1.1zM61.8 159.13h1.1v1.1h-1.1zM84.54 158.43h1.1v1.1h-1.1zM71.75 140.03h1.1v1.1h-1.1zM88.37 161.69h1.1v1.1h-1.1zM64.41 146.84h1.1v1.1h-1.1zM87.82 158.73h1.1v1.1h-1.1zM74.43 159.29h1.1v1.1h-1.1zM81.42 149.25h1.1v1.1h-1.1zM80.8 154.84h1.1v1.1h-1.1zM63.46 163.7h1.1v1.1h-1.1zM86.75 172.55h1.1v1.1h-1.1zM75.46 144.72h1.1v1.1h-1.1zM91.95 170.8h1.1v1.1h-1.1zM60.21 140.07h1.1v1.1h-1.1zM87.16 170.59h1.1v1.1h-1.1zM66.32 136.73h1.1v1.1h-1.1zM88.34 157.97h1.1v1.1h-1.1zM82.15 144.47h1.1v1.1h-1.1zM72.03 145.09h1.1v1.1h-1.1zM70.91 141.88h1.1v1.1h-1.1zM73.98 161.87h1.1v1.1h-1.1zM70.33 153.2h1.1v1.1h-1.1zM63.19 134.62h1.1v1.1h-1.1zM91.2 164.83h1.1v1.1h-1.1zM65.18 138.84h1.1v1.1h-1.1zM77.38 158.41h1.1v1.1h-1.1zM80.77 149.08h1.1v1.1h-1.1zM69.36 153.37h1.1v1.1h-1.1zM64.95 138.19h1.1v1.1h-1.1zM76.39 142.37h1.1v1.1h-1.1zM85.65 148.85h1.1v1.1h-1.1zM65.32 146.95h1.1v1.1h-1.1zM69.75 137.06h1.1v1.1h-1.1zM85.51 161.72h1.1v1.1h-1.1zM93.86 154.8h1.1v1.1h-1.1zM93.67 153.73h1.1v1.1h-1.1zM87.35 157.41h1.1v1.1h-1.1zM84.56 158.27h1.1v1.1h-1.1zM63.35 145.57h1.1v1.1h-1.1zM71.74 141.53h1.1v1.1h-1.1zM87.9 149.34h1.1v1.1h-1.1zM89.61 169.35h1.1v1.1h-1.1zM74.14 159.52h1.1v1.1h-1.1zM86.79 165.78h1.1v1.1h-1.1zM83.89 163.96h1.1v1.1h-1.1zM76.38 159.05h1.1v1.1h-1.1zM77.66 165.17h1.1v1.1h-1.1zM62.93 147.18h1.1v1.1h-1.1zM72.41 149.64h1.1v1.1h-1.1zM94.05 155.81h1.1v1.1h-1.1zM67.87 140.43h1.1v1.1h-1.1zM80.97 159.42h1.1v1.1h-1.1zM93.15 160.87h1.1v1.1h-1.1zM88.85 148.71h1.1v1.1h-1.1zM60.83 151.5h1.1v1.1h-1.1zM61.29 138.43h1.1v1.1h-1.1zM84.02 166.09h1.1v1.1h-1.1zM81.99 144.69h1.1v1.1h-1.1zM71.21 140.32h1.1v1.1h-1.1zM66.98 152.52h1.1v1.1h-1.1zM70.41 146.18h1.1v1.1h-1.1zM62.54 152.41h1.1v1.1h-1.1zM61.18 138.17h1.1v1.1h-1.1zM75.34 152.48h1.1v1.1h-1.1zM77.77 152.75h1.1v1.1h-1.1zM70.37 151.98h1.1v1.1h-1.1zM66.75 158.07h1.1v1.1h-1.1zM63.87 133.46h1.1v1.1h-1.1zM84.6 156.01h1.1v1.1h-1.1zM77.5 152.31h1.1v1.1h-1.1zM88.53 149.94h1.1v1.1h-1.1zM82.33 149.48h1.1v1.1h-1.1zM77.99 143.26h1.1v1.1h-1.1zM80.43 150.31h1.1v1.1h-1.1zM87.04 157.22h1.1v1.1h-1.1zM91.27 173h1.1v1.1h-1.1zM87.92 161.37h1.1v1.1h-1.1zM77.07 159.5h1.1v1.1h-1.1zM74.47 147.15h1.1v1.1h-1.1zM67.27 140.02h1.1v1.1h-1.1zM71.93 139.87h1.1v1.1h-1.1zM88.22 148.01h1.1v1.1h-1.1zM79.51 150.53h1.1v1.1h-1.1zM60.92 156.21h1.1v1.1h-1.1zM61.71 132.63h1.1v1.1h-1.1zM93.45 151.72h1.1v1.1h-1.1zM70.23 153.18h1.1v1.1h-1.1zM87.7 172.02h1.1v1.1h-1.1zM61.2 131.82h1.1v1.1h-1.1zM78.09 148.16h1.1v1.1h-1.1zM73.97 165.96h1.1v1.1h-1.1zM93.2 153.23h1.1v1.1h-1.1zM84.97 154.98h1.1v1.1h-1.1zM62.9 143.58h1.1v1.1h-1.1zM61.59 150.68h1.1v1.1h-1.1zM82.87 156.28h1.1v1.1h-1.1zM79.46 155.4h1.1v1.1h-1.1zM70.94 144.68h1.1v1.1h-1.1zM75.92 151.23h1.1v1.1h-1.1zM93.37 153.73h1.1v1.1h-1.1zM94.83 160.55h1.1v1.1h-1.1zM87.5 152.84h1.1v1.1h-1.1zM82.8 152.77h1.1v1.1h-1.1zM71.48 155.62h1.1v1.1h-1.1zM88.94 160.44h1.1v1.1h-1.1zM71.17 142.61h1.1v1.1h-1.1zM80.61 143.72h1.1v1.1h-1.1zM69.86 149.48h1.1v1.1h-1.1zM80.33 147.75h1.1v1.1h-1.1zM70.77 145.6h1.1v1.1h-1.1zM78.43 143.81h1.1v1.1h-1.1zM65.98 150.5h1.1v1.1h-1.1zM90.06 151.6h1.1v1.1h-1.1zM89.53 170.34h1.1v1.1h-1.1zM69.13 145.74h1.1v1.1h-1.1zM67.42 145.64h1.1v1.1h-1.1zM80.77 144.87h1.1v1.1h-1.1zM65.7 140.1h1.1v1.1h-1.1zM87 152.55h1.1v1.1h-1.1zM88.44 164.93h1.1v1.1h-1.1zM66.33 136.78h1.1v1.1h-1.1zM88.74 156.85h1.1v1.1h-1.1zM63.78 142.3h1.1v1.1h-1.1zM92.58 159.89h1.1v1.1h-1.1zM93.51 170.87h1.1v1.1h-1.1zM88.2 153.35h1.1v1.1h-1.1zM79.75 148.75h1.1v1.1h-1.1zM88.69 172.42h1.1v1.1h-1.1zM77.98 147.59h1.1v1.1h-1.1zM64.67 134.3h1.1v1.1h-1.1zM61.19 141.41h1.1v1.1h-1.1zM81.53 147.27h1.1v1.1h-1.1zM66 158.82h1.1v1.1h-1.1zM71.68 145.13h1.1v1.1h-1.1zM69.72 161.51h1.1v1.1h-1.1zM79.09 145.28h1.1v1.1h-1.1zM86.34 158.89h1.1v1.1h-1.1zM89.43 151.43h1.1v1.1h-1.1zM76.45 150.97h1.1v1.1h-1.1zM85.8 159.13h1.1v1.1h-1.1zM60.1 139.74h1.1v1.1h-1.1zM66.73 135.69h1.1v1.1h-1.1zM89.61 164.13h1.1v1.1h-1.1zM80.63 160.15h1.1v1.1h-1.1zM94.22 162.7h1.1v1.1h-1.1zM76.97 143.21h1.1v1.1h-1.1zM64.87 140.43h1.1v1.1h-1.1zM90.57 159.15h1.1v1.1h-1.1zM65.41 147.69h1.1v1.1h-1.1zM61.54 138.69h1.1v1.1h-1.1zM72.97 156.15h1.1v1.1h-1.1zM67.95 137.81h1.1v1.1h-1.1zM70.38 153.71h1.1v1.1h-1.1zM63.72 144.86h1.1v1.1h-1.1zM89.49 161.49h1.1v1.1h-1.1zM91.75 159.25h1.1v1.1h-1.1zM65.3 158.89h1.1v1.1h-1.1zM63.97 156.25h1.1v1.1h-1.1zM69.02 150.39h1.1v1.1h-1.1zM65.52 142.03h1.1v1.1h-1.1zM71.67 140.54h1.1v1.1h-1.1zM61.99 148.81h1.1v1.1h-1.1zM92.16 162.97h1.1v1.1h-1.1zM74.2 144.56h1.1v1.1h-1.1zM62.34 136.31h1.1v1.1h-1.1zM86.65 155.31h1.1v1.1h-1.1zM64.89 142.84h1.1v1.1h-1.1zM79.13 161.79h1.1v1.1h-1.1zM64.19 137.82h1.1v1.1h-1.1zM87.71 155.79h1.1v1.1h-1.1zM79.81 149.01h1.1v1.1h-1.1zM77.44 141.63h1.1v1.1h-1.1zM87.25 158.82h1.1v1.1h-1.1zM77.1 142.12h1.1v1.1h-1.1zM60.93 139.58h1.1v1.1h-1.1zM76.17 148.08h1.1v1.1h-1.1zM64.57 139.95h1.1v1.1h-1.1zM93.67 153.05h1.1v1.1h-1.1zM69.35 143.44h1.1v1.1h-1.1zM71.71 159.77h1.1v1.1h-1.1zM86.65 153.22h1.1v1.1h-1.1zM71.09 149.13h1.1v1.1h-1.1zM69.07 155.62h1.1v1.1h-1.1zM92.16 150.35h1.1v1.1h-1.1zM66.17 138.27h1.1v1.1h-1.1zM82.26 147.59h1.1v1.1h-1.1zM87.82 165.98h1.1v1.1h-1.1zM75.95 152.97h1.1v1.1h-1.1zM71.25 139.17h1.1v1.1h-1.1zM75.78 141.82h1.1v1.1h-1.1zM78.66 156.03h1.1v1.1h-1.1zM68.68 150.28h1.1v1.1h-1.1zM87.11 157.54h1.1v1.1h-1.1zM67.43 141.05h1.1v1.1h-1.1zM86.91 153.65h1.1v1.1h-1.1zM76.34 153.89h1.1v1.1h-1.1zM75.72 152.74h1.1v1.1h-1.1zM89.33 165.6h1.1v1.1h-1.1zM88.2 154.62h1.1v1.1h-1.1zM66.93 135.54h1.1v1.1h-1.1zM71.84 148.96h1.1v1.1h-1.1zM61.51 139.59h1.1v1.1h-1.1zM81.58 151.71h1.1v1.1h-1.1zM92.12 164.62h1.1v1.1h-1.1zM63.27 133.75h1.1v1.1h-1.1zM63.71 139.22h1.1v1.1h-1.1zM62.11 135.74h1.1v1.1h-1.1zM92.38 167.21h1.1v1.1h-1.1zM79.3 144.03h1.1v1.1h-1.1zM84.43 147.02h1.1v1.1h-1.1zM91.56 167.93h1.1v1.1h-1.1zM67.36 135.41h1.1v1.1h-1.1zM61.82 140.94h1.1v1.1h-1.1zM78.28 141.96h1.1v1.1h-1.1zM88.48 161.27h1.1v1.1h-1.1zM68.13 141.69h1.1v1.1h-1.1zM82.89 163.52h1.1v1.1h-1.1zM78.6 159.96h1.1v1.1h-1.1zM70.96 140.05h1.1v1.1h-1.1zM61.61 138.84h1.1v1.1h-1.1zM73.63 139.47h1.1v1.1h-1.1zM79.75 152.63h1.1v1.1h-1.1zM81.9 146.7h1.1v1.1h-1.1zM76.93 151.09h1.1v1.1h-1.1zM69.71 142.14h1.1v1.1h-1.1zM67.28 154.21h1.1v1.1h-1.1zM76.34 140.75h1.1v1.1h-1.1zM73.96 142.41h1.1v1.1h-1.1zM65.16 133.81h1.1v1.1h-1.1zM62.03 134.47h1.1v1.1h-1.1zM90.48 160.84h1.1v1.1h-1.1zM90.34 153.26h1.1v1.1h-1.1zM73.77 152.52h1.1v1.1h-1.1zM78.07 145.27h1.1v1.1h-1.1zM77.4 142.52h1.1v1.1h-1.1zM80.03 157.65h1.1v1.1h-1.1zM76.8 144.3h1.1v1.1h-1.1zM63.85 133.57h1.1v1.1h-1.1zM86.8 148.61h1.1v1.1h-1.1zM68.21 138.22h1.1v1.1h-1.1zM89.56 152.59h1.1v1.1h-1.1zM82.23 156.41h1.1v1.1h-1.1zM74.36 141.58h1.1v1.1h-1.1zM74.41 148.4h1.1v1.1h-1.1zM82.54 168.29h1.1v1.1h-1.1zM93.01 161.78h1.1v1.1h-1.1zM77.49 143.55h1.1v1.1h-1.1zM88.29 148.17h1.1v1.1h-1.1zM93.33 160.7h1.1v1.1h-1.1zM66.09 143.2h1.1v1.1h-1.1zM71.4 162.73h1.1v1.1h-1.1zM66.54 150.85h1.1v1.1h-1.1zM77.29 152.28h1.1v1.1h-1.1zM93.14 171.35h1.1v1.1h-1.1zM90.89 155.1h1.1v1.1h-1.1zM67.56 150.67h1.1v1.1h-1.1zM90.38 168.98h1.1v1.1h-1.1zM81.34 164.56h1.1v1.1h-1.1zM63.79 158.29h1.1v1.1h-1.1zM87.05 156.77h1.1v1.1h-1.1zM77.78 149.01h1.1v1.1h-1.1zM81.59 150.83h1.1v1.1h-1.1zM79.54 145.84h1.1v1.1h-1.1zM72.62 141.1h1.1v1.1h-1.1zM73.52 160.05h1.1v1.1h-1.1zM87.17 150.66h1.1v1.1h-1.1zM73.61 145.41h1.1v1.1h-1.1zM84.27 145.48h1.1v1.1h-1.1zM76.21 146.95h1.1v1.1h-1.1zM79.96 150.44h1.1v1.1h-1.1zM87.59 171.95h1.1v1.1h-1.1zM74.31 147.6h1.1v1.1h-1.1zM77.48 161.82h1.1v1.1h-1.1zM92.8 160.88h1.1v1.1h-1.1zM65.17 144.66h1.1v1.1h-1.1zM74.02 164.67h1.1v1.1h-1.1zM83.26 151.93h1.1v1.1h-1.1zM61.87 136.13h1.1v1.1h-1.1zM80.94 154.31h1.1v1.1h-1.1zM73.67 144.02h1.1v1.1h-1.1zM70.63 158.54h1.1v1.1h-1.1zM66.6 147.34h1.1v1.1h-1.1zM65.25 139.2h1.1v1.1h-1.1zM68.9 153.66h1.1v1.1h-1.1zM81.38 149.02h1.1v1.1h-1.1zM71.03 157.35h1.1v1.1h-1.1zM93.64 169.91h1.1v1.1h-1.1zM64.64 145.61h1.1v1.1h-1.1zM63.86 134.83h1.1v1.1h-1.1zM84.5 145.75h1.1v1.1h-1.1zM76.17 142.26h1.1v1.1h-1.1zM70.63 141.88h1.1v1.1h-1.1zM80.77 146.72h1.1v1.1h-1.1zM60.2 133.95h1.1v1.1h-1.1zM73.61 150.33h1.1v1.1h-1.1zM87.85 158.54h1.1v1.1h-1.1zM81.11 144.62h1.1v1.1h-1.1zM85.23 148.52h1.1v1.1h-1.1zM73.75 142.66h1.1v1.1h-1.1zM76.48 153.36h1.1v1.1h-1.1zM77.15 149.98h1.1v1.1h-1.1zM77.65 150.34h1.1v1.1h-1.1zM80.35 159.22h1.1v1.1h-1.1zM87.31 150.41h1.1v1.1h-1.1zM82.06 153.48h1.1v1.1h-1.1zM70.13 141.91h1.1v1.1h-1.1zM82.71 151.38h1.1v1.1h-1.1zM62.32 148.87h1.1v1.1h-1.1zM92.25 156.07h1.1v1.1h-1.1zM90.13 157.73h1.1v1.1h-1.1zM79.42 154.87h1.1v1.1h-1.1zM80.21 155.02h1.1v1.1h-1.1zM76.68 168.61h1.1v1.1h-1.1zM82.88 171.61h1.1v1.1h-1.1zM81.43 160.82h1.1v1.1h-1.1zM69.46 151.78h1.1v1.1h-1.1zM85.71 161h1.1v1.1h-1.1zM88.59 154.07h1.1v1.1h-1.1zM71.14 138.87h1.1v1.1h-1.1zM63.34 139.25h1.1v1.1h-1.1zM62.85 135.31h1.1v1.1h-1.1zM66.12 137.28h1.1v1.1h-1.1zM81.39 155.92h1.1v1.1h-1.1zM65.15 156.16h1.1v1.1h-1.1zM77.23 170.74h1.1v1.1h-1.1zM67.86 136.15h1.1v1.1h-1.1zM70.14 139.96h1.1v1.1h-1.1zM81.94 160.7h1.1v1.1h-1.1zM81.13 162.57h1.1v1.1h-1.1zM90.5 152.78h1.1v1.1h-1.1zM61.4 157.68h1.1v1.1h-1.1zM66.74 156.4h1.1v1.1h-1.1zM65.47 139.72h1.1v1.1h-1.1zM76.36 151.74h1.1v1.1h-1.1zM72.1 147.04h1.1v1.1h-1.1zM75.99 160.3h1.1v1.1h-1.1zM70.09 147.6h1.1v1.1h-1.1zM83.9 171.94h1.1v1.1h-1.1zM72.75 143.29h1.1v1.1h-1.1zM93.69 161.82h1.1v1.1h-1.1zM78.18 146.58h1.1v1.1h-1.1zM93.8 165.95h1.1v1.1h-1.1zM87.04 165.33h1.1v1.1h-1.1zM80.71 153.71h1.1v1.1h-1.1zM90.97 154.31h1.1v1.1h-1.1zM86.35 154.21h1.1v1.1h-1.1zM65.93 134.65h1.1v1.1h-1.1zM71.18 153.22h1.1v1.1h-1.1zM64.77 158.48h1.1v1.1h-1.1zM62.93 141.25h1.1v1.1h-1.1zM72.35 151.21h1.1v1.1h-1.1zM86.91 147.63h1.1v1.1h-1.1zM63.92 149.16h1.1v1.1h-1.1zM83.82 149.24h1.1v1.1h-1.1zM80.51 145.65h1.1v1.1h-1.1zM70.78 155.21h1.1v1.1h-1.1zM72.35 147.33h1.1v1.1h-1.1zM91.25 166.2h1.1v1.1h-1.1zM60.56 145.08h1.1v1.1h-1.1zM93.8 157.32h1.1v1.1h-1.1zM61.93 143.74h1.1v1.1h-1.1zM91.5 158.9h1.1v1.1h-1.1zM94.48 154.25h1.1v1.1h-1.1zM65.97 151.35h1.1v1.1h-1.1zM92.37 165.47h1.1v1.1h-1.1zM64.27 133.31h1.1v1.1h-1.1zM62.52 138.46h1.1v1.1h-1.1zM65.55 160.98h1.1v1.1h-1.1zM83.54 161.15h1.1v1.1h-1.1zM68.73 141.19h1.1v1.1h-1.1zM64.78 144.41h1.1v1.1h-1.1zM63.39 143.39h1.1v1.1h-1.1zM89.15 167.41h1.1v1.1h-1.1zM66.29 151.81h1.1v1.1h-1.1zM66.6 160.97h1.1v1.1h-1.1zM78.14 145.22h1.1v1.1h-1.1zM64.26 148.73h1.1v1.1h-1.1zM74.79 143.11h1.1v1.1h-1.1zM61.38 154.74h1.1v1.1h-1.1zM87.25 152.25h1.1v1.1h-1.1zM77.83 166.89h1.1v1.1h-1.1zM94.12 155.29h1.1v1.1h-1.1zM62.59 142.87h1.1v1.1h-1.1zM76.67 157.65h1.1v1.1h-1.1zM84.52 148.05h1.1v1.1h-1.1zM93.93 157.67h1.1v1.1h-1.1zM61.86 144.38h1.1v1.1h-1.1zM80.83 148.3h1.1v1.1h-1.1zM90.24 149.46h1.1v1.1h-1.1zM85.48 162.21h1.1v1.1h-1.1zM71.47 140.56h1.1v1.1h-1.1zM71.75 163.09h1.1v1.1h-1.1zM73.89 149.58h1.1v1.1h-1.1zM61.91 136.46h1.1v1.1h-1.1zM76.93 152.42h1.1v1.1h-1.1zM83.56 161.39h1.1v1.1h-1.1zM77.85 150.85h1.1v1.1h-1.1zM80.56 159.63h1.1v1.1h-1.1zM70.79 140.03h1.1v1.1h-1.1zM84.3 161.05h1.1v1.1h-1.1zM66.77 148.53h1.1v1.1h-1.1zM81.6 172.76h1.1v1.1h-1.1zM62.98 151.61h1.1v1.1h-1.1zM79.82 158.7h1.1v1.1h-1.1zM85.6 161.78h1.1v1.1h-1.1zM93.62 167.65h1.1v1.1h-1.1zM83.88 146.05h1.1v1.1h-1.1zM62.94 152.87h1.1v1.1h-1.1zM75.7 149.89h1.1v1.1h-1.1zM78.98 154.48h1.1v1.1h-1.1zM93.53 156.77h1.1v1.1h-1.1zM64.77 139.11h1.1v1.1h-1.1zM77.32 170.7h1.1v1.1h-1.1zM87.48 150.01h1.1v1.1h-1.1zM70.19 145.99h1.1v1.1h-1.1zM68.09 141.75h1.1v1.1h-1.1zM89.89 149.03h1.1v1.1h-1.1zM81.88 146.78h1.1v1.1h-1.1zM73.45 146.26h1.1v1.1h-1.1zM89.62 157.21h1.1v1.1h-1.1zM90.53 171.93h1.1v1.1h-1.1zM64.3 140.23h1.1v1.1h-1.1zM83.53 162.31h1.1v1.1h-1.1zM84.16 150.66h1.1v1.1h-1.1zM63.34 149.4h1.1v1.1h-1.1zM65.17 149.94h1.1v1.1h-1.1zM86.91 163.47h1.1v1.1h-1.1zM86.43 156.84h1.1v1.1h-1.1zM65.4 147.25h1.1v1.1h-1.1zM60.43 142.91h1.1v1.1h-1.1zM69.13 138.79h1.1v1.1h-1.1zM74.86 154.57h1.1v1.1h-1.1zM81.51 159.09h1.1v1.1h-1.1zM61.69 140.4h1.1v1.1h-1.1zM79.94 155.93h1.1v1.1h-1.1zM60.82 134.72h1.1v1.1h-1.1zM93.27 157.8h1.1v1.1h-1.1zM74.73 152.96h1.1v1.1h-1.1zM60.05 137.97h1.1v1.1h-1.1zM70.21 158.8h1.1v1.1h-1.1zM64.74 141.79h1.1v1.1h-1.1zM86.84 162.14h1.1v1.1h-1.1zM76.61 151.74h1.1v1.1h-1.1zM90.91 160.5h1.1v1.1h-1.1zM66.51 140.02h1.1v1.1h-1.1zM66.99 134.97h1.1v1.1h-1.1zM64.18 153.69h1.1v1.1h-1.1zM86.64 158.89h1.1v1.1h-1.1zM65.09 147.38h1.1v1.1h-1.1zM63.91 136.65h1.1v1.1h-1.1zM81.44 155.18h1.1v1.1h-1.1zM82.92 156.02h1.1v1.1h-1.1zM69.71 161.26h1.1v1.1h-1.1zM60.74 131.47h1.1v1.1h-1.1zM93.71 168.07h1.1v1.1h-1.1zM76.79 146.35h1.1v1.1h-1.1zM81.24 144.37h1.1v1.1h-1.1zM62.29 142.61h1.1v1.1h-1.1zM89.17 153.22h1.1v1.1h-1.1zM74.85 144.89h1.1v1.1h-1.1zM65.24 150.69h1.1v1.1h-1.1zM64.09 155.29h1.1v1.1h-1.1zM83.68 155.26h1.1v1.1h-1.1zM73.82 148.62h1.1v1.1h-1.1zM86 166.39h1.1v1.1h-1.1zM92.74 158.9h1.1v1.1h-1.1zM64.03 143.9h1.1v1.1h-1.1zM77.89 157.1h1.1v1.1h-1.1zM64.63 146.34h1.1v1.1h-1.1zM84.62 153.05h1.1v1.1h-1.1zM61.09 133.22h1.1v1.1h-1.1zM63.61 151.96h1.1v1.1h-1.1zM89.68 148.89h1.1v1.1h-1.1zM87.11 154.84h1.1v1.1h-1.1zM70.45 138.75h1.1v1.1h-1.1zM93.23 165.19h1.1v1.1h-1.1zM75.72 159.71h1.1v1.1h-1.1zM68.1 136.06h1.1v1.1h-1.1zM94.63 158.37h1.1v1.1h-1.1zM94.31 164.54h1.1v1.1h-1.1zM64.75 138.48h1.1v1.1h-1.1zM87.59 149.54h1.1v1.1h-1.1zM61.21 148.12h1.1v1.1h-1.1zM71.72 149.74h1.1v1.1h-1.1zM81.3 156.94h1.1v1.1h-1.1zM66.66 144.78h1.1v1.1h-1.1zM84.81 147.27h1.1v1.1h-1.1zM67.33 140.39h1.1v1.1h-1.1zM82.19 168.64h1.1v1.1h-1.1zM65.47 146.96h1.1v1.1h-1.1zM69.06 144.14h1.1v1.1h-1.1zM60.09 135.57h1.1v1.1h-1.1zM68.61 150.89h1.1v1.1h-1.1zM74.33 152.73h1.1v1.1h-1.1zM94.7 165.83h1.1v1.1h-1.1zM85.99 154.14h1.1v1.1h-1.1zM72.03 141.95h1.1v1.1h-1.1zM80.87 159.26h1.1v1.1h-1.1zM66.07 139.23h1.1v1.1h-1.1zM85.44 150.66h1.1v1.1h-1.1zM82.68 155.51h1.1v1.1h-1.1zM75.36 142.95h1.1v1.1h-1.1zM90.23 157.09h1.1v1.1h-1.1zM81.31 145.39h1.1v1.1h-1.1zM80.76 154.54h1.1v1.1h-1.1zM73.77 154.35h1.1v1.1h-1.1zM76.2 143.8h1.1v1.1h-1.1zM81.68 152.76h1.1v1.1h-1.1zM85.3 146.95h1.1v1.1h-1.1zM76.98 163.16h1.1v1.1h-1.1zM69.73 145.4h1.1v1.1h-1.1zM87.78 159.14h1.1v1.1h-1.1zM91.06 149.81h1.1v1.1h-1.1zM86.94 159.53h1.1v1.1h-1.1zM92.23 150.52h1.1v1.1h-1.1zM76.6 148.88h1.1v1.1h-1.1zM72 160.05h1.1v1.1h-1.1zM62.75 151.56h1.1v1.1h-1.1zM82.72 150.63h1.1v1.1h-1.1zM71.77 147.53h1.1v1.1h-1.1zM85.73 154.22h1.1v1.1h-1.1zM86.9 166.71h1.1v1.1h-1.1zM65.27 146.49h1.1v1.1h-1.1zM60.31 144.9h1.1v1.1h-1.1zM92.43 164.88h1.1v1.1h-1.1zM81.57 159.83h1.1v1.1h-1.1zM85.07 147.17h1.1v1.1h-1.1zM66.77 147.43h1.1v1.1h-1.1zM69.75 149.64h1.1v1.1h-1.1zM72.06 145.32h1.1v1.1h-1.1zM85.11 149.52h1.1v1.1h-1.1zM91.11 160h1.1v1.1h-1.1zM91.11 156.07h1.1v1.1h-1.1zM90.55 151.93h1.1v1.1h-1.1zM88.07 161.08h1.1v1.1h-1.1zM62.49 143.69h1.1v1.1h-1.1zM78.2 162.47h1.1v1.1h-1.1zM84.22 147.34h1.1v1.1h-1.1zM92.71 158.47h1.1v1.1h-1.1zM74.42 142.13h1.1v1.1h-1.1zM74.47 142.02h1.1v1.1h-1.1zM92.81 153.5h1.1v1.1h-1.1zM75.26 143.94h1.1v1.1h-1.1zM76.55 144.58h1.1v1.1h-1.1zM69.54 138.12h1.1v1.1h-1.1zM80.1 147.18h1.1v1.1h-1.1zM65.38 141.25h1.1v1.1h-1.1zM62.85 157.7h1.1v1.1h-1.1zM66.76 139.19h1.1v1.1h-1.1zM79.7 150.2h1.1v1.1h-1.1zM60.05 143.33h1.1v1.1h-1.1zM77.07 147.88h1.1v1.1h-1.1zM71.52 155.11h1.1v1.1h-1.1zM75.32 151.47h1.1v1.1h-1.1zM71.4 149.17h1.1v1.1h-1.1zM68.74 147.93h1.1v1.1h-1.1zM79.12 146.64h1.1v1.1h-1.1zM91.96 155.65h1.1v1.1h-1.1zM71.13 143.16h1.1v1.1h-1.1zM67.57 150.61h1.1v1.1h-1.1zM84.68 151.8h1.1v1.1h-1.1zM91.6 155.53h1.1v1.1h-1.1zM94.85 166.29h1.1v1.1h-1.1zM87.15 153.31h1.1v1.1h-1.1zM87.47 159.82h1.1v1.1h-1.1zM89.33 153.58h1.1v1.1h-1.1zM93.74 154.8h1.1v1.1h-1.1zM77.18 159.35h1.1v1.1h-1.1zM89.47 150.56h1.1v1.1h-1.1zM69.74 138.15h1.1v1.1h-1.1zM83.58 145.9h1.1v1.1h-1.1zM89.21 157.87h1.1v1.1h-1.1zM65.67 142.32h1.1v1.1h-1.1zM73.34 155.79h1.1v1.1h-1.1zM94.82 155.82h1.1v1.1h-1.1zM89.65 153.66h1.1v1.1h-1.1zM81.34 147.96h1.1v1.1h-1.1zM92.74 157.16h1.1v1.1h-1.1zM79.19 153.14h1.1v1.1h-1.1zM70.3 140.04h1.1v1.1h-1.1zM70.29 165.19h1.1v1.1h-1.1zM60.49 141.16h1.1v1.1h-1.1zM77.83 144.64h1.1v1.1h-1.1zM77.67 145.97h1.1v1.1h-1.1zM74.93 145.06h1.1v1.1h-1.1zM81.48 155.59h1.1v1.1h-1.1zM93.27 155.55h1.1v1.1h-1.1zM76.66 150.17h1.1v1.1h-1.1zM69.33 143.26h1.1v1.1h-1.1zM91.93 159.23h1.1v1.1h-1.1zM70.86 156.94h1.1v1.1h-1.1zM77.31 144.58h1.1v1.1h-1.1zM60.92 158.17h1.1v1.1h-1.1zM65.74 141.09h1.1v1.1h-1.1zM82.59 146.51h1.1v1.1h-1.1zM64.42 134.45h1.1v1.1h-1.1zM63.59 135.54h1.1v1.1h-1.1zM78.35 157h1.1v1.1h-1.1zM67.29 142.5h1.1v1.1h-1.1zM85.14 156.96h1.1v1.1h-1.1zM93.62 151.18h1.1v1.1h-1.1zM68.41 143.98h1.1v1.1h-1.1zM66.53 155.35h1.1v1.1h-1.1zM86.68 147.3h1.1v1.1h-1.1zM65.53 141.87h1.1v1.1h-1.1zM68.42 153.65h1.1v1.1h-1.1zM86.11 151.22h1.1v1.1h-1.1zM83.15 151.83h1.1v1.1h-1.1zM87.96 153.02h1.1v1.1h-1.1zM91.15 156.03h1.1v1.1h-1.1zM94.36 153.4h1.1v1.1h-1.1zM63.77 145.83h1.1v1.1h-1.1zM66.94 138.43h1.1v1.1h-1.1zM88.2 163.71h1.1v1.1h-1.1zM69.66 153.41h1.1v1.1h-1.1zM65.39 140.2h1.1v1.1h-1.1zM92.35 153.83h1.1v1.1h-1.1zM71.22 139.11h1.1v1.1h-1.1zM90.19 165.84h1.1v1.1h-1.1zM75.35 152.04h1.1v1.1h-1.1zM69.79 143.91h1.1v1.1h-1.1zM64.76 142.96h1.1v1.1h-1.1zM72.22 138.99h1.1v1.1h-1.1zM61.71 151.93h1.1v1.1h-1.1zM73.24 163.29h1.1v1.1h-1.1zM79.2 163.59h1.1v1.1h-1.1zM91.9 161.37h1.1v1.1h-1.1zM89.38 151.87h1.1v1.1h-1.1zM91.29 156.18h1.1v1.1h-1.1zM72.28 138.35h1.1v1.1h-1.1zM81.67 148h1.1v1.1h-1.1zM77.54 149.75h1.1v1.1h-1.1zM68.03 157.01h1.1v1.1h-1.1zM66.27 137.2h1.1v1.1h-1.1zM88.94 151.89h1.1v1.1h-1.1zM77.21 147.85h1.1v1.1h-1.1zM67.53 135.98h1.1v1.1h-1.1zM71.36 151.95h1.1v1.1h-1.1zM83.8 154.8h1.1v1.1h-1.1zM70.54 140.96h1.1v1.1h-1.1zM74.99 155.57h1.1v1.1h-1.1zM79.79 143.39h1.1v1.1h-1.1zM69.4 136.96h1.1v1.1h-1.1zM72.08 153.98h1.1v1.1h-1.1zM90.95 160.85h1.1v1.1h-1.1zM76.57 150.73h1.1v1.1h-1.1zM60.04 153.25h1.1v1.1h-1.1zM60.84 133.16h1.1v1.1h-1.1zM81.19 144.21h1.1v1.1h-1.1zM67.65 155.86h1.1v1.1h-1.1zM63.72 141.96h1.1v1.1h-1.1zM81.49 154.45h1.1v1.1h-1.1zM79.53 158.28h1.1v1.1h-1.1zM92.76 164.91h1.1v1.1h-1.1zM75.77 143.19h1.1v1.1h-1.1zM74.31 166h1.1v1.1h-1.1zM68.24 141.34h1.1v1.1h-1.1zM72.17 140.28h1.1v1.1h-1.1zM72.6 164.01h1.1v1.1h-1.1zM86.06 160.17h1.1v1.1h-1.1zM67.2 141.08h1.1v1.1h-1.1zM72.51 158h1.1v1.1h-1.1zM71.54 152.09h1.1v1.1h-1.1zM72.85 143.41h1.1v1.1h-1.1zM80.51 147.62h1.1v1.1h-1.1zM78.44 152.04h1.1v1.1h-1.1zM68.92 146.02h1.1v1.1h-1.1zM84.2 150.9h1.1v1.1h-1.1zM90.64 160.51h1.1v1.1h-1.1zM85.21 155.33h1.1v1.1h-1.1zM91.32 165.98h1.1v1.1h-1.1zM70.26 155.97h1.1v1.1h-1.1zM75.44 146.05h1.1v1.1h-1.1zM72.48 147.77h1.1v1.1h-1.1zM61.68 134.24h1.1v1.1h-1.1zM89.78 161.61h1.1v1.1h-1.1zM81.02 157.17h1.1v1.1h-1.1zM76.52 147.48h1.1v1.1h-1.1zM94.23 154.28h1.1v1.1h-1.1zM63.1 161.14h1.1v1.1h-1.1zM64.66 143.33h1.1v1.1h-1.1zM86.34 147.35h1.1v1.1h-1.1zM60.31 139.84h1.1v1.1h-1.1zM92.97 163.39h1.1v1.1h-1.1zM74.69 155.07h1.1v1.1h-1.1zM68.78 153.61h1.1v1.1h-1.1zM63.11 141.82h1.1v1.1h-1.1zM89 153.33h1.1v1.1h-1.1zM82.12 148.79h1.1v1.1h-1.1zM72.92 149.93h1.1v1.1h-1.1zM67.87 135.46h1.1v1.1h-1.1zM80.88 164.84h1.1v1.1h-1.1zM75.1 144.01h1.1v1.1h-1.1zM92.03 154.11h1.1v1.1h-1.1zM61.6 161.11h1.1v1.1h-1.1zM85.06 147.26h1.1v1.1h-1.1zM74.9 146.22h1.1v1.1h-1.1zM61.56 132.55h1.1v1.1h-1.1zM81.42 158.28h1.1v1.1h-1.1zM69.56 157.3h1.1v1.1h-1.1zM89.01 151.01h1.1v1.1h-1.1zM82.8 152.79h1.1v1.1h-1.1zM70.96 137.71h1.1v1.1h-1.1zM70.7 142.48h1.1v1.1h-1.1zM84.9 147.35h1.1v1.1h-1.1zM92.64 151.8h1.1v1.1h-1.1zM88.86 155h1.1v1.1h-1.1zM73.96 148.49h1.1v1.1h-1.1zM78.82 142.8h1.1v1.1h-1.1zM90.04 155.49h1.1v1.1h-1.1zM60.93 154.8h1.1v1.1h-1.1zM86.26 163.94h1.1v1.1h-1.1zM89.56 160.28h1.1v1.1h-1.1zM82.63 149.7h1.1v1.1h-1.1zM61.93 153.23h1.1v1.1h-1.1zM90.89 152.9h1.1v1.1h-1.1zM78.46 153.15h1.1v1.1h-1.1zM66.07 150.74h1.1v1.1h-1.1zM77.73 146.4h1.1v1.1h-1.1zM86.12 157.76h1.1v1.1h-1.1zM69.51 140.55h1.1v1.1h-1.1zM79.04 145.72h1.1v1.1h-1.1z" fill="#000"/>
<path d="M73.58 143.7h1v1h-1zM73.35 144.33h1v1h-1zM73.21 144.8h1v1h-1zM73.07 146.83h1v1h-1zM71.79 146.31h1v1h-1zM75.37 143.64h1v1h-1zM78.83 135.31h1v1h-1zM76.55 141.28h1v1h-1zM84.19 126.03h1v1h-1zM78.59 137.58h1v1h-1zM86.87 122.07h1v1h-1zM78.79 135.19h1v1h-1zM86.22 123.28h1v1h-1zM84.67 123.42h1v1h-1zM82.13 128.02h1v1h-1zM83.44 126.45h1v1h-1zM76.43 139.11h1v1h-1zM79.29 133.54h1v1h-1zM83.1 126.2h1v1h-1zM84.87 123.69h1v1h-1zM75.01 140.85h1v1h-1zM86.37 122.84h1v1h-1zM79.63 135.65h1v1h-1zM82.63 127.58h1v1h-1zM79.59 133.71h1v1h-1zM85.61 123.7h1v1h-1zM77.99 135.95h1v1h-1zM84.33 126.04h1v1h-1zM82.37 129.34h1v1h-1zM83.92 126.97h1v1h-1zM78.48 138.1h1v1h-1zM75.28 143.46h1v1h-1zM82.56 129h1v1h-1zM78.13 135.15h1v1h-1zM75.08 142.06h1v1h-1zM75.89 143.18h1v1h-1zM97.16 105.32h1v1h-1zM88.31 120.64h1v1h-1zM95.08 107.43h1v1h-1zM97.2 104.28h1v1h-1zM91.84 112.66h1v1h-1zM96.91 105.14h1v1h-1zM86.15 120.76h1v1h-1zM89.93 118.24h1v1h-1zM98.32 102.21h1v1h-1zM97.64 103.53h1v1h-1zM97.41 106.29h1v1h-1zM88.63 120.28h1v1h-1zM92.24 111.51h1v1h-1zM87.13 120.57h1v1h-1zM87.58 120.59h1v1h-1zM95.21 108.4h1v1h-1zM97.18 103.5h1v1h-1zM98.65 102.27h1v1h-1zM100.18 99.12h1v1h-1zM89.91 116.54h1v1h-1zM89.72 118.63h1v1h-1zM99.69 102.67h1v1h-1zM97.81 102.15h1v1h-1zM96.11 106.8h1v1h-1zM100.33 99.72h1v1h-1zM93.55 109.06h1v1h-1zM86.93 120.81h1v1h-1zM93.95 110.59h1v1h-1zM98.34 104.23h1v1h-1zM102 99.03h1v1h-1zM93.17 109.78h1v1h-1zM89.19 116h1v1h-1zM97.38 103.11h1v1h-1zM120.44 67.44h1v1h-1zM121.77 67.5h1v1h-1zM103.2 96.52h1v1h-1zM113.5 81.17h1v1h-1zM116.94 73.65h1v1h-1zM106.17 90.52h1v1h-1zM106.39 90.92h1v1h-1zM105.04 93.77h1v1h-1zM109.24 86.17h1v1h-1zM108.49 88.25h1v1h-1zM113.31 78.61h1v1h-1zM110.25 86.07h1v1h-1zM118.77 72.22h1v1h-1zM119.99 70.15h1v1h-1zM121.1 66.57h1v1h-1zM117.6 74.94h1v1h-1zM103.47 94.02h1v1h-1zM117.95 71.41h1v1h-1zM117.37 73.52h1v1h-1zM104.37 94.48h1v1h-1zM118.77 72.65h1v1h-1zM120.22 68.17h1v1h-1zM113.09 81.49h1v1h-1zM113.82 78.75h1v1h-1zM104.74 93.54h1v1h-1zM106.35 90.65h1v1h-1zM102.54 95.11h1v1h-1zM103.33 93.83h1v1h-1zM113.17 78.85h1v1h-1zM116.21 73.69h1v1h-1zM104.61 91.97h1v1h-1zM109.4 86.6h1v1h-1zM103.74 94.15h1v1h-1zM111.71 81.86h1v1h-1zM109.79 85.59h1v1h-1zM106.14 90.62h1v1h-1zM112.01 83.62h1v1h-1zM107.85 88.08h1v1h-1zM104.54 91.67h1v1h-1zM117.53 72.36h1v1h-1zM121.51 66.49h1v1h-1zM102.05 95.84h1v1h-1z" fill="#fff" fill-opacity="0.85"/>
</g>
<polygon points="64.4,170.2 69.5,145.8 72,141.9 84.1,120 99.4,95.6 121.2,62.2 132.8,72.9 100.8,121.7 83.5,147.7 80.8,153" fill="none" stroke="#aaa" stroke-width="2.4" stroke-linejoin="round"/>
<line x1="79.5" y1="133.3" x2="93" y2="138.2" stroke="#a8a8a8" stroke-width="2" />
<line x1="99.4" y1="97" x2="110.8" y2="105.2" stroke="#a8a8a8" stroke-width="2" />
<text x="95.1" y="71.8" font-family='"Liberation Serif", serif' font-size="13.5" fill="#111" >44</text>
<text x="73.6" y="108.8" font-family='"Liberation Serif", serif' font-size="13.5" fill="#111" >46</text>
<text x="56.4" y="141.6" font-family='"Liberation Serif", serif' font-size="13.5" fill="#111" >10</text>
<text x="83.2" y="161.7" font-family='"Liberation Serif", serif' font-size="14.5" font-weight="bold" fill="#111" >R1</text>
<text x="100.9" y="134.2" font-family='"Liberation Serif", serif' font-size="14.5" font-weight="bold" fill="#111" >R2</text>
<text x="123" y="101.2" font-family='"Liberation Serif", serif' font-size="14.5" font-weight="bold" fill="#111" >R3</text>
<path d="M300 180h1v1h-1zM284 138h1v1h-1zM270 153h1v1h-1zM271 125h1v1h-1zM286 155h1v1h-1zM290 135h1v1h-1zM284 151h1v1h-1zM286 150h1v1h-1zM299 156h1v1h-1zM295 146h1v1h-1zM286 172h1v1h-1zM292 155h1v1h-1zM270 161h1v1h-1zM284 166h1v1h-1zM286 173h1v1h-1zM283 156h1v1h-1zM292 132h1v1h-1zM278 143h1v1h-1zM308 151h1v1h-1zM292 164h1v1h-1zM280 123h1v1h-1zM296 145h1v1h-1zM292 128h1v1h-1zM278 176h1v1h-1zM301 128h1v1h-1zM267 152h1v1h-1zM293 156h1v1h-1zM287 134h1v1h-1zM291 174h1v1h-1zM278 125h1v1h-1zM274 167h1v1h-1zM271 150h1v1h-1zM280 153h1v1h-1zM302 160h1v1h-1zM300 150h1v1h-1zM278 160h1v1h-1zM286 129h1v1h-1zM289 142h1v1h-1zM271 143h1v1h-1zM282 176h1v1h-1zM285 152h1v1h-1zM288 118h1v1h-1zM299 132h1v1h-1zM289 131h1v1h-1zM271 145h1v1h-1zM307 166h1v1h-1zM276 147h1v1h-1zM269 152h1v1h-1zM276 166h1v1h-1zM267 146h1v1h-1zM273 139h1v1h-1zM292 155h1v1h-1zM291 175h1v1h-1zM298 126h1v1h-1zM290 119h1v1h-1zM281 145h1v1h-1zM286 153h1v1h-1zM284 138h1v1h-1zM297 169h1v1h-1zM281 158h1v1h-1zM292 172h1v1h-1zM288 166h1v1h-1zM280 132h1v1h-1zM277 172h1v1h-1zM296 155h1v1h-1zM276 158h1v1h-1zM304 178h1v1h-1zM275 152h1v1h-1zM265 131h1v1h-1zM286 153h1v1h-1zM296 177h1v1h-1zM294 178h1v1h-1zM277 131h1v1h-1zM288 131h1v1h-1zM287 180h1v1h-1zM271 168h1v1h-1zM276 177h1v1h-1zM293 158h1v1h-1zM309 145h1v1h-1zM283 133h1v1h-1zM283 155h1v1h-1zM286 149h1v1h-1zM297 108h1v1h-1zM277 148h1v1h-1zM306 115h1v1h-1zM279 131h1v1h-1zM275 165h1v1h-1zM289 180h1v1h-1zM276 158h1v1h-1zM298 170h1v1h-1zM279 174h1v1h-1zM285 150h1v1h-1zM287 169h1v1h-1zM305 150h1v1h-1zM279 164h1v1h-1zM273 120h1v1h-1zM294 145h1v1h-1zM298 133h1v1h-1zM285 183h1v1h-1zM290 158h1v1h-1zM291 146h1v1h-1zM284 127h1v1h-1zM290 137h1v1h-1zM278 166h1v1h-1zM295 133h1v1h-1zM309 141h1v1h-1zM294 171h1v1h-1zM286 156h1v1h-1zM306 169h1v1h-1zM289 118h1v1h-1zM274 175h1v1h-1zM286 134h1v1h-1zM275 147h1v1h-1zM292 160h1v1h-1zM296 137h1v1h-1zM296 143h1v1h-1zM280 185h1v1h-1zM284 150h1v1h-1zM281 145h1v1h-1zM303 179h1v1h-1zM292 156h1v1h-1zM297 151h1v1h-1zM289 160h1v1h-1zM285 184h1v1h-1zM305 178h1v1h-1zM292 144h1v1h-1zM283 174h1v1h-1zM298 169h1v1h-1zM285 153h1v1h-1zM294 151h1v1h-1zM272 141h1v1h-1zM282 159h1v1h-1zM312 126h1v1h-1zM289 151h1v1h-1zM287 178h1v1h-1zM299 150h1v1h-1zM277 127h1v1h-1zM283 176h1v1h-1zM280 166h1v1h-1zM292 160h1v1h-1zM297 150h1v1h-1zM273 130h1v1h-1zM295 146h1v1h-1zM280 168h1v1h-1zM274 186h1v1h-1zM292 142h1v1h-1zM276 173h1v1h-1zM269 140h1v1h-1zM284 156h1v1h-1zM284 160h1v1h-1zM279 150h1v1h-1zM299 165h1v1h-1zM278 185h1v1h-1zM292 171h1v1h-1zM285 145h1v1h-1zM291 149h1v1h-1zM289 98h1v1h-1zM288 137h1v1h-1zM295 167h1v1h-1zM293 145h1v1h-1zM289 146h1v1h-1zM286 150h1v1h-1zM293 113h1v1h-1zM295 126h1v1h-1zM281 141h1v1h-1zM277 157h1v1h-1zM279 125h1v1h-1zM283 159h1v1h-1zM306 145h1v1h-1zM269 145h1v1h-1zM292 136h1v1h-1zM274 163h1v1h-1zM283 157h1v1h-1zM276 137h1v1h-1zM279 150h1v1h-1zM279 161h1v1h-1zM290 163h1v1h-1zM289 136h1v1h-1zM270 168h1v1h-1zM284 155h1v1h-1zM269 148h1v1h-1zM276 136h1v1h-1zM276 124h1v1h-1zM285 175h1v1h-1zM275 154h1v1h-1zM270 165h1v1h-1zM307 129h1v1h-1zM281 180h1v1h-1zM288 155h1v1h-1zM295 180h1v1h-1zM292 141h1v1h-1zM275 118h1v1h-1zM270 174h1v1h-1zM282 127h1v1h-1zM300 121h1v1h-1zM299 146h1v1h-1zM288 165h1v1h-1zM287 177h1v1h-1zM284 146h1v1h-1zM275 125h1v1h-1zM275 171h1v1h-1zM294 179h1v1h-1zM318 166h1v1h-1zM290 128h1v1h-1zM290 150h1v1h-1zM287 116h1v1h-1zM273 128h1v1h-1zM296 149h1v1h-1zM288 133h1v1h-1zM289 167h1v1h-1zM303 182h1v1h-1zM290 150h1v1h-1zM273 141h1v1h-1zM291 163h1v1h-1zM284 184h1v1h-1zM292 153h1v1h-1zM281 154h1v1h-1zM272 134h1v1h-1zM288 141h1v1h-1zM280 176h1v1h-1zM281 177h1v1h-1zM283 181h1v1h-1zM289 119h1v1h-1zM299 149h1v1h-1zM285 128h1v1h-1zM276 163h1v1h-1zM301 174h1v1h-1zM299 174h1v1h-1zM286 101h1v1h-1zM293 169h1v1h-1zM274 145h1v1h-1zM272 152h1v1h-1zM283 152h1v1h-1zM271 160h1v1h-1zM279 171h1v1h-1zM287 124h1v1h-1zM265 154h1v1h-1zM277 161h1v1h-1zM294 153h1v1h-1zM291 133h1v1h-1zM297 151h1v1h-1zM290 136h1v1h-1zM282 96h1v1h-1zM281 163h1v1h-1zM272 136h1v1h-1zM283 154h1v1h-1zM273 165h1v1h-1zM266 137h1v1h-1zM300 134h1v1h-1zM272 131h1v1h-1zM275 138h1v1h-1zM271 133h1v1h-1zM304 140h1v1h-1zM296 126h1v1h-1zM290 129h1v1h-1zM278 165h1v1h-1zM277 115h1v1h-1zM277 150h1v1h-1zM291 134h1v1h-1zM280 154h1v1h-1zM273 161h1v1h-1zM282 149h1v1h-1zM279 135h1v1h-1zM277 128h1v1h-1zM286 165h1v1h-1zM291 143h1v1h-1zM304 169h1v1h-1zM272 150h1v1h-1zM292 177h1v1h-1zM278 119h1v1h-1zM281 178h1v1h-1zM285 177h1v1h-1zM294 182h1v1h-1zM291 140h1v1h-1zM277 117h1v1h-1zM310 160h1v1h-1zM276 141h1v1h-1zM285 140h1v1h-1zM278 144h1v1h-1zM297 149h1v1h-1zM301 137h1v1h-1zM276 143h1v1h-1zM277 151h1v1h-1zM296 175h1v1h-1zM270 177h1v1h-1zM285 183h1v1h-1zM281 137h1v1h-1zM293 164h1v1h-1zM278 153h1v1h-1zM285 158h1v1h-1zM284 157h1v1h-1zM277 119h1v1h-1zM300 147h1v1h-1zM270 183h1v1h-1zM298 172h1v1h-1zM294 163h1v1h-1zM271 153h1v1h-1zM288 165h1v1h-1zM289 133h1v1h-1zM276 146h1v1h-1zM281 136h1v1h-1zM287 152h1v1h-1zM291 117h1v1h-1zM278 169h1v1h-1zM284 142h1v1h-1zM285 151h1v1h-1zM295 175h1v1h-1zM295 159h1v1h-1zM293 168h1v1h-1zM298 118h1v1h-1zM288 154h1v1h-1zM285 148h1v1h-1zM283 162h1v1h-1zM286 155h1v1h-1zM270 129h1v1h-1zM274 119h1v1h-1zM277 136h1v1h-1zM278 141h1v1h-1zM311 169h1v1h-1zM274 143h1v1h-1zM271 138h1v1h-1zM279 152h1v1h-1zM276 168h1v1h-1zM267 165h1v1h-1zM279 122h1v1h-1zM280 121h1v1h-1zM298 123h1v1h-1zM289 155h1v1h-1zM289 133h1v1h-1zM298 158h1v1h-1zM277 156h1v1h-1zM268 171h1v1h-1zM286 150h1v1h-1zM278 151h1v1h-1zM285 145h1v1h-1zM296 156h1v1h-1zM282 136h1v1h-1zM299 177h1v1h-1zM292 117h1v1h-1zM279 171h1v1h-1zM284 177h1v1h-1zM278 168h1v1h-1zM290 106h1v1h-1zM278 148h1v1h-1zM276 136h1v1h-1zM303 150h1v1h-1zM293 127h1v1h-1zM289 139h1v1h-1zM290 168h1v1h-1zM278 151h1v1h-1zM274 173h1v1h-1zM306 162h1v1h-1zM277 139h1v1h-1zM280 169h1v1h-1zM274 181h1v1h-1zM268 152h1v1h-1zM300 186h1v1h-1zM278 168h1v1h-1zM315 175h1v1h-1zM313 130h1v1h-1zM295 113h1v1h-1zM303 136h1v1h-1zM294 170h1v1h-1zM288 124h1v1h-1zM283 135h1v1h-1zM300 143h1v1h-1zM272 165h1v1h-1zM299 150h1v1h-1zM287 162h1v1h-1zM277 130h1v1h-1zM290 146h1v1h-1zM266 169h1v1h-1zM289 155h1v1h-1zM274 148h1v1h-1zM291 162h1v1h-1zM273 135h1v1h-1zM288 156h1v1h-1zM294 130h1v1h-1zM295 186h1v1h-1zM295 155h1v1h-1zM295 128h1v1h-1zM294 140h1v1h-1zM276 131h1v1h-1zM305 141h1v1h-1zM280 118h1v1h-1zM293 152h1v1h-1zM290 183h1v1h-1zM285 130h1v1h-1zM271 154h1v1h-1zM300 130h1v1h-1zM280 150h1v1h-1zM292 136h1v1h-1zM287 167h1v1h-1zM283 151h1v1h-1zM291 164h1v1h-1zM299 132h1v1h-1zM299 148h1v1h-1zM269 142h1v1h-1zM268 149h1v1h-1zM296 110h1v1h-1zM269 167h1v1h-1zM280 168h1v1h-1zM267 151h1v1h-1zM293 176h1v1h-1zM304 151h1v1h-1zM273 145h1v1h-1zM298 135h1v1h-1zM306 127h1v1h-1zM290 137h1v1h-1zM269 175h1v1h-1zM272 155h1v1h-1zM278 155h1v1h-1zM276 168h1v1h-1zM291 154h1v1h-1zM275 144h1v1h-1zM293 152h1v1h-1zM279 134h1v1h-1zM286 131h1v1h-1zM280 131h1v1h-1zM303 147h1v1h-1zM289 158h1v1h-1zM292 150h1v1h-1zM293 155h1v1h-1zM267 171h1v1h-1zM286 145h1v1h-1zM269 145h1v1h-1zM289 151h1v1h-1zM271 146h1v1h-1zM281 144h1v1h-1zM283 168h1v1h-1zM297 126h1v1h-1zM281 145h1v1h-1zM269 171h1v1h-1zM279 174h1v1h-1zM289 147h1v1h-1zM287 145h1v1h-1zM288 174h1v1h-1zM294 152h1v1h-1zM275 149h1v1h-1zM284 135h1v1h-1zM282 153h1v1h-1zM302 151h1v1h-1zM313 130h1v1h-1zM282 176h1v1h-1zM288 141h1v1h-1zM280 182h1v1h-1zM278 158h1v1h-1zM289 175h1v1h-1zM267 147h1v1h-1zM291 168h1v1h-1zM280 181h1v1h-1zM283 166h1v1h-1zM274 168h1v1h-1zM275 175h1v1h-1zM278 130h1v1h-1zM294 159h1v1h-1zM277 127h1v1h-1zM293 115h1v1h-1zM278 173h1v1h-1zM280 161h1v1h-1zM290 164h1v1h-1zM297 165h1v1h-1zM279 129h1v1h-1zM280 140h1v1h-1zM289 176h1v1h-1zM293 139h1v1h-1zM286 153h1v1h-1zM278 177h1v1h-1zM291 159h1v1h-1zM268 103h1v1h-1zM274 174h1v1h-1zM281 152h1v1h-1zM280 162h1v1h-1zM283 185h1v1h-1zM282 148h1v1h-1zM301 167h1v1h-1zM292 163h1v1h-1zM283 159h1v1h-1zM290 155h1v1h-1zM277 142h1v1h-1zM279 139h1v1h-1zM273 151h1v1h-1zM295 147h1v1h-1zM289 127h1v1h-1zM293 131h1v1h-1zM292 138h1v1h-1zM276 129h1v1h-1zM268 148h1v1h-1zM271 148h1v1h-1zM298 136h1v1h-1zM280 151h1v1h-1zM276 152h1v1h-1zM286 172h1v1h-1zM274 148h1v1h-1zM281 176h1v1h-1zM271 156h1v1h-1zM293 164h1v1h-1zM275 133h1v1h-1zM280 124h1v1h-1zM294 156h1v1h-1zM281 142h1v1h-1zM289 147h1v1h-1zM290 143h1v1h-1zM297 122h1v1h-1zM297 184h1v1h-1zM274 166h1v1h-1zM296 170h1v1h-1zM281 180h1v1h-1zM289 128h1v1h-1zM314 155h1v1h-1zM299 139h1v1h-1zM272 169h1v1h-1zM294 138h1v1h-1zM287 127h1v1h-1zM269 167h1v1h-1zM297 160h1v1h-1zM302 159h1v1h-1zM287 153h1v1h-1zM289 159h1v1h-1zM272 152h1v1h-1zM299 138h1v1h-1zM291 119h1v1h-1zM285 177h1v1h-1zM279 161h1v1h-1zM288 111h1v1h-1zM273 175h1v1h-1zM305 152h1v1h-1zM296 159h1v1h-1zM276 164h1v1h-1zM289 134h1v1h-1zM278 127h1v1h-1zM279 152h1v1h-1zM271 117h1v1h-1zM292 177h1v1h-1zM272 154h1v1h-1zM275 102h1v1h-1zM310 158h1v1h-1zM266 177h1v1h-1zM293 179h1v1h-1zM293 163h1v1h-1zM301 147h1v1h-1zM286 132h1v1h-1zM269 156h1v1h-1zM286 122h1v1h-1zM288 172h1v1h-1zM268 146h1v1h-1zM305 136h1v1h-1zM291 167h1v1h-1zM286 155h1v1h-1zM291 158h1v1h-1zM285 124h1v1h-1zM287 138h1v1h-1zM297 112h1v1h-1zM296 155h1v1h-1zM270 129h1v1h-1zM297 140h1v1h-1zM283 154h1v1h-1zM295 102h1v1h-1zM299 137h1v1h-1zM278 164h1v1h-1zM288 109h1v1h-1zM291 150h1v1h-1zM271 141h1v1h-1zM302 141h1v1h-1zM278 125h1v1h-1zM275 133h1v1h-1zM284 186h1v1h-1zM297 171h1v1h-1zM271 168h1v1h-1zM275 136h1v1h-1zM293 151h1v1h-1zM315 156h1v1h-1zM280 167h1v1h-1zM269 165h1v1h-1zM303 150h1v1h-1zM277 174h1v1h-1zM270 160h1v1h-1zM277 158h1v1h-1zM274 164h1v1h-1zM291 186h1v1h-1zM279 161h1v1h-1zM287 126h1v1h-1zM282 135h1v1h-1zM289 164h1v1h-1zM278 165h1v1h-1zM277 155h1v1h-1zM290 163h1v1h-1zM291 185h1v1h-1zM275 150h1v1h-1zM269 141h1v1h-1zM277 160h1v1h-1zM280 147h1v1h-1zM284 146h1v1h-1zM283 134h1v1h-1zM277 129h1v1h-1zM294 170h1v1h-1zM292 159h1v1h-1zM276 163h1v1h-1zM269 181h1v1h-1zM287 182h1v1h-1zM275 172h1v1h-1zM303 171h1v1h-1zM287 173h1v1h-1zM278 186h1v1h-1zM269 138h1v1h-1zM284 138h1v1h-1zM305 165h1v1h-1zM274 184h1v1h-1zM300 145h1v1h-1zM303 175h1v1h-1zM277 142h1v1h-1zM287 174h1v1h-1zM303 181h1v1h-1zM277 119h1v1h-1zM297 175h1v1h-1zM283 154h1v1h-1zM290 161h1v1h-1zM285 134h1v1h-1zM266 155h1v1h-1zM282 179h1v1h-1zM270 115h1v1h-1zM304 146h1v1h-1zM275 160h1v1h-1zM303 173h1v1h-1zM294 170h1v1h-1zM280 154h1v1h-1zM288 148h1v1h-1zM282 147h1v1h-1zM272 162h1v1h-1zM300 146h1v1h-1zM289 174h1v1h-1zM275 151h1v1h-1zM267 183h1v1h-1zM305 149h1v1h-1zM308 169h1v1h-1zM287 162h1v1h-1zM292 144h1v1h-1zM298 158h1v1h-1zM307 150h1v1h-1zM290 118h1v1h-1zM276 137h1v1h-1zM295 141h1v1h-1zM298 143h1v1h-1zM296 141h1v1h-1zM269 164h1v1h-1zM281 162h1v1h-1zM288 121h1v1h-1zM288 128h1v1h-1zM296 169h1v1h-1zM310 156h1v1h-1zM277 168h1v1h-1zM267 144h1v1h-1zM271 142h1v1h-1zM267 125h1v1h-1zM270 160h1v1h-1zM284 151h1v1h-1zM289 167h1v1h-1zM287 160h1v1h-1zM277 173h1v1h-1zM301 96h1v1h-1zM294 132h1v1h-1zM288 154h1v1h-1zM268 127h1v1h-1zM268 145h1v1h-1zM280 147h1v1h-1zM283 160h1v1h-1zM279 182h1v1h-1zM283 166h1v1h-1zM281 174h1v1h-1zM283 136h1v1h-1zM307 115h1v1h-1zM286 146h1v1h-1zM288 145h1v1h-1zM272 159h1v1h-1zM283 148h1v1h-1zM275 181h1v1h-1zM286 149h1v1h-1zM268 138h1v1h-1zM293 138h1v1h-1zM292 150h1v1h-1zM288 159h1v1h-1zM278 147h1v1h-1zM283 165h1v1h-1zM314 169h1v1h-1zM282 139h1v1h-1zM285 151h1v1h-1zM287 152h1v1h-1zM283 177h1v1h-1zM305 154h1v1h-1zM303 170h1v1h-1zM298 158h1v1h-1zM286 168h1v1h-1zM271 154h1v1h-1zM269 170h1v1h-1zM286 164h1v1h-1zM279 138h1v1h-1zM296 144h1v1h-1zM281 153h1v1h-1zM289 154h1v1h-1zM270 133h1v1h-1zM296 147h1v1h-1zM280 136h1v1h-1zM295 161h1v1h-1zM277 120h1v1h-1zM306 142h1v1h-1zM269 143h1v1h-1zM269 152h1v1h-1zM277 130h1v1h-1zM292 136h1v1h-1zM277 132h1v1h-1zM276 143h1v1h-1zM277 177h1v1h-1zM297 158h1v1h-1zM291 144h1v1h-1zM265 163h1v1h-1zM301 139h1v1h-1zM275 139h1v1h-1zM267 163h1v1h-1zM270 179h1v1h-1zM304 154h1v1h-1zM283 136h1v1h-1zM295 154h1v1h-1zM265 135h1v1h-1zM289 143h1v1h-1zM289 157h1v1h-1zM301 151h1v1h-1zM297 174h1v1h-1zM300 146h1v1h-1zM281 141h1v1h-1zM285 130h1v1h-1zM273 144h1v1h-1zM280 172h1v1h-1zM270 149h1v1h-1zM287 147h1v1h-1zM270 136h1v1h-1zM277 142h1v1h-1zM277 161h1v1h-1zM283 113h1v1h-1zM303 153h1v1h-1zM278 173h1v1h-1zM282 148h1v1h-1zM273 170h1v1h-1zM294 136h1v1h-1zM276 176h1v1h-1zM275 145h1v1h-1zM274 148h1v1h-1zM294 154h1v1h-1zM296 164h1v1h-1zM283 121h1v1h-1zM293 152h1v1h-1zM277 162h1v1h-1zM296 166h1v1h-1zM277 152h1v1h-1zM314 128h1v1h-1zM284 153h1v1h-1zM302 164h1v1h-1zM286 147h1v1h-1zM299 154h1v1h-1zM282 156h1v1h-1zM292 153h1v1h-1zM287 168h1v1h-1zM274 148h1v1h-1zM284 166h1v1h-1zM290 143h1v1h-1zM271 145h1v1h-1zM277 169h1v1h-1zM291 154h1v1h-1zM270 128h1v1h-1zM285 164h1v1h-1zM288 148h1v1h-1zM291 115h1v1h-1zM298 181h1v1h-1zM286 157h1v1h-1zM281 170h1v1h-1zM272 142h1v1h-1zM288 125h1v1h-1zM290 161h1v1h-1zM283 143h1v1h-1zM305 142h1v1h-1zM285 168h1v1h-1zM283 172h1v1h-1zM284 157h1v1h-1zM283 165h1v1h-1zM275 169h1v1h-1zM296 133h1v1h-1zM265 127h1v1h-1zM274 166h1v1h-1zM303 123h1v1h-1zM279 147h1v1h-1zM304 167h1v1h-1zM295 137h1v1h-1zM309 132h1v1h-1zM284 134h1v1h-1zM272 157h1v1h-1zM272 166h1v1h-1zM290 154h1v1h-1zM291 174h1v1h-1zM297 131h1v1h-1zM292 169h1v1h-1zM279 145h1v1h-1zM299 165h1v1h-1zM285 180h1v1h-1zM295 185h1v1h-1zM279 171h1v1h-1zM304 134h1v1h-1zM282 146h1v1h-1zM289 174h1v1h-1zM304 150h1v1h-1zM288 169h1v1h-1zM298 147h1v1h-1zM300 125h1v1h-1zM287 126h1v1h-1zM278 137h1v1h-1zM306 184h1v1h-1zM293 156h1v1h-1zM286 166h1v1h-1zM290 139h1v1h-1zM274 163h1v1h-1zM312 166h1v1h-1zM283 150h1v1h-1zM289 158h1v1h-1zM266 182h1v1h-1zM289 163h1v1h-1zM278 174h1v1h-1zM296 139h1v1h-1zM296 139h1v1h-1zM271 142h1v1h-1zM272 151h1v1h-1zM279 156h1v1h-1zM289 183h1v1h-1zM289 162h1v1h-1zM290 168h1v1h-1zM295 158h1v1h-1zM269 134h1v1h-1zM287 146h1v1h-1zM278 143h1v1h-1zM275 173h1v1h-1zM293 128h1v1h-1zM286 152h1v1h-1zM278 172h1v1h-1zM287 154h1v1h-1zM273 171h1v1h-1zM287 158h1v1h-1zM275 181h1v1h-1zM271 143h1v1h-1zM279 156h1v1h-1zM300 163h1v1h-1zM285 150h1v1h-1zM288 168h1v1h-1zM274 186h1v1h-1zM283 169h1v1h-1zM279 178h1v1h-1zM296 159h1v1h-1zM291 147h1v1h-1zM272 174h1v1h-1zM268 143h1v1h-1zM269 135h1v1h-1zM278 168h1v1h-1zM271 166h1v1h-1zM273 165h1v1h-1zM300 109h1v1h-1zM284 183h1v1h-1zM284 184h1v1h-1zM298 158h1v1h-1zM266 140h1v1h-1zM303 136h1v1h-1zM270 144h1v1h-1zM299 155h1v1h-1zM292 174h1v1h-1zM303 162h1v1h-1zM289 134h1v1h-1zM276 127h1v1h-1zM282 160h1v1h-1zM284 135h1v1h-1zM291 170h1v1h-1zM299 112h1v1h-1zM290 172h1v1h-1zM293 153h1v1h-1zM287 148h1v1h-1zM275 134h1v1h-1zM323 148h1v1h-1zM290 163h1v1h-1zM295 152h1v1h-1zM276 142h1v1h-1zM271 146h1v1h-1zM268 159h1v1h-1zM292 176h1v1h-1zM300 145h1v1h-1zM286 137h1v1h-1zM284 154h1v1h-1zM290 151h1v1h-1zM270 171h1v1h-1zM282 126h1v1h-1zM302 163h1v1h-1zM294 163h1v1h-1zM276 157h1v1h-1zM291 155h1v1h-1zM297 149h1v1h-1zM285 141h1v1h-1zM277 146h1v1h-1zM286 129h1v1h-1zM285 146h1v1h-1zM292 146h1v1h-1zM291 136h1v1h-1zM288 147h1v1h-1zM297 160h1v1h-1zM296 144h1v1h-1zM276 152h1v1h-1zM271 147h1v1h-1zM299 132h1v1h-1zM276 154h1v1h-1zM277 144h1v1h-1zM287 140h1v1h-1zM288 158h1v1h-1zM290 156h1v1h-1zM276 164h1v1h-1zM283 156h1v1h-1zM270 154h1v1h-1zM283 136h1v1h-1zM274 144h1v1h-1zM284 141h1v1h-1zM270 154h1v1h-1zM268 159h1v1h-1zM273 149h1v1h-1zM297 111h1v1h-1zM267 143h1v1h-1zM282 136h1v1h-1zM272 141h1v1h-1zM271 154h1v1h-1zM275 149h1v1h-1zM284 165h1v1h-1zM276 145h1v1h-1zM289 112h1v1h-1zM284 136h1v1h-1zM294 146h1v1h-1zM273 172h1v1h-1zM277 136h1v1h-1zM289 116h1v1h-1zM281 166h1v1h-1zM268 170h1v1h-1zM280 142h1v1h-1zM300 146h1v1h-1zM288 117h1v1h-1zM284 159h1v1h-1zM274 140h1v1h-1zM281 137h1v1h-1zM294 163h1v1h-1zM292 172h1v1h-1zM280 97h1v1h-1zM284 142h1v1h-1zM269 162h1v1h-1zM271 130h1v1h-1zM313 145h1v1h-1zM285 163h1v1h-1zM291 150h1v1h-1zM290 151h1v1h-1zM278 147h1v1h-1zM291 165h1v1h-1zM289 124h1v1h-1zM281 162h1v1h-1zM279 162h1v1h-1zM285 175h1v1h-1zM297 165h1v1h-1zM277 148h1v1h-1zM279 160h1v1h-1zM293 142h1v1h-1zM297 161h1v1h-1zM282 140h1v1h-1zM285 151h1v1h-1zM282 147h1v1h-1zM287 141h1v1h-1zM290 119h1v1h-1zM284 143h1v1h-1zM279 158h1v1h-1zM276 93h1v1h-1zM266 149h1v1h-1zM280 143h1v1h-1zM275 165h1v1h-1zM284 133h1v1h-1zM273 170h1v1h-1zM285 159h1v1h-1zM284 156h1v1h-1zM277 134h1v1h-1zM271 136h1v1h-1zM305 164h1v1h-1zM284 150h1v1h-1zM277 126h1v1h-1zM302 134h1v1h-1zM280 149h1v1h-1zM265 161h1v1h-1zM267 149h1v1h-1zM269 182h1v1h-1zM284 180h1v1h-1zM277 157h1v1h-1zM290 154h1v1h-1zM280 173h1v1h-1zM288 154h1v1h-1zM294 102h1v1h-1zM271 161h1v1h-1zM279 147h1v1h-1zM265 146h1v1h-1zM300 143h1v1h-1zM271 147h1v1h-1zM296 140h1v1h-1zM279 155h1v1h-1zM280 159h1v1h-1zM305 178h1v1h-1zM297 170h1v1h-1zM296 164h1v1h-1zM291 145h1v1h-1zM277 177h1v1h-1zM269 142h1v1h-1zM281 156h1v1h-1zM275 144h1v1h-1zM274 138h1v1h-1zM268 156h1v1h-1zM283 164h1v1h-1zM280 132h1v1h-1zM277 146h1v1h-1zM265 151h1v1h-1zM285 124h1v1h-1zM267 167h1v1h-1zM272 140h1v1h-1zM276 141h1v1h-1zM290 157h1v1h-1zM310 146h1v1h-1zM288 139h1v1h-1zM295 124h1v1h-1zM273 148h1v1h-1zM308 152h1v1h-1zM297 140h1v1h-1zM280 148h1v1h-1zM282 153h1v1h-1zM278 130h1v1h-1zM298 171h1v1h-1zM269 136h1v1h-1zM273 112h1v1h-1zM267 161h1v1h-1zM267 148h1v1h-1zM280 141h1v1h-1zM289 156h1v1h-1zM299 159h1v1h-1zM276 184h1v1h-1zM287 162h1v1h-1zM287 146h1v1h-1zM272 176h1v1h-1zM274 147h1v1h-1zM294 171h1v1h-1zM301 156h1v1h-1zM281 174h1v1h-1zM292 182h1v1h-1zM301 158h1v1h-1zM289 134h1v1h-1zM290 138h1v1h-1zM267 186h1v1h-1zM306 150h1v1h-1zM267 181h1v1h-1zM280 164h1v1h-1zM283 182h1v1h-1zM299 150h1v1h-1zM298 171h1v1h-1zM301 133h1v1h-1zM294 153h1v1h-1zM287 123h1v1h-1zM310 151h1v1h-1zM289 125h1v1h-1zM281 156h1v1h-1zM285 132h1v1h-1zM288 145h1v1h-1zM295 131h1v1h-1zM298 133h1v1h-1zM270 161h1v1h-1zM291 161h1v1h-1zM277 147h1v1h-1zM272 174h1v1h-1zM269 162h1v1h-1zM265 168h1v1h-1zM288 160h1v1h-1zM279 178h1v1h-1zM278 143h1v1h-1zM281 178h1v1h-1zM301 173h1v1h-1zM295 177h1v1h-1zM290 108h1v1h-1zM286 150h1v1h-1zM269 117h1v1h-1zM285 132h1v1h-1zM284 137h1v1h-1zM288 134h1v1h-1zM286 152h1v1h-1zM278 148h1v1h-1zM287 102h1v1h-1zM284 157h1v1h-1zM288 134h1v1h-1zM300 167h1v1h-1zM288 148h1v1h-1zM275 141h1v1h-1zM288 154h1v1h-1zM294 157h1v1h-1zM278 175h1v1h-1zM266 127h1v1h-1zM288 143h1v1h-1zM266 125h1v1h-1zM284 178h1v1h-1zM301 151h1v1h-1zM280 137h1v1h-1zM307 151h1v1h-1zM279 167h1v1h-1zM298 153h1v1h-1zM299 129h1v1h-1zM289 164h1v1h-1zM289 165h1v1h-1zM286 163h1v1h-1zM294 132h1v1h-1zM284 158h1v1h-1zM288 185h1v1h-1zM280 137h1v1h-1zM287 179h1v1h-1zM279 155h1v1h-1zM292 158h1v1h-1zM282 152h1v1h-1zM297 146h1v1h-1zM276 149h1v1h-1zM284 166h1v1h-1zM282 170h1v1h-1zM283 157h1v1h-1zM305 155h1v1h-1zM287 152h1v1h-1zM296 162h1v1h-1zM280 166h1v1h-1zM289 143h1v1h-1zM270 132h1v1h-1zM282 149h1v1h-1zM286 152h1v1h-1zM286 174h1v1h-1zM299 113h1v1h-1zM290 153h1v1h-1zM290 154h1v1h-1zM288 148h1v1h-1zM276 149h1v1h-1zM294 153h1v1h-1zM283 176h1v1h-1zM294 136h1v1h-1zM274 149h1v1h-1zM290 172h1v1h-1zM284 157h1v1h-1zM294 158h1v1h-1zM286 171h1v1h-1zM298 132h1v1h-1zM287 148h1v1h-1zM281 143h1v1h-1zM273 163h1v1h-1zM283 158h1v1h-1zM290 180h1v1h-1zM310 141h1v1h-1zM300 156h1v1h-1zM289 174h1v1h-1zM276 150h1v1h-1zM296 164h1v1h-1zM306 164h1v1h-1zM285 150h1v1h-1zM291 118h1v1h-1zM300 159h1v1h-1zM276 154h1v1h-1zM290 130h1v1h-1zM295 111h1v1h-1zM302 147h1v1h-1zM287 148h1v1h-1zM276 171h1v1h-1zM272 151h1v1h-1zM290 130h1v1h-1zM291 136h1v1h-1zM294 146h1v1h-1zM300 151h1v1h-1zM271 171h1v1h-1zM298 170h1v1h-1zM265 132h1v1h-1zM295 162h1v1h-1zM280 149h1v1h-1zM286 112h1v1h-1zM269 130h1v1h-1zM296 145h1v1h-1zM279 139h1v1h-1zM265 135h1v1h-1zM287 144h1v1h-1zM293 178h1v1h-1zM279 122h1v1h-1zM271 154h1v1h-1zM293 149h1v1h-1zM283 157h1v1h-1zM299 166h1v1h-1zM279 141h1v1h-1zM283 141h1v1h-1zM271 172h1v1h-1zM286 132h1v1h-1zM289 132h1v1h-1zM271 122h1v1h-1zM269 143h1v1h-1zM287 150h1v1h-1zM287 153h1v1h-1zM278 174h1v1h-1zM270 133h1v1h-1zM309 157h1v1h-1zM270 183h1v1h-1zM283 149h1v1h-1zM271 151h1v1h-1zM293 152h1v1h-1zM277 160h1v1h-1zM299 153h1v1h-1zM278 145h1v1h-1zM288 141h1v1h-1zM301 142h1v1h-1zM297 149h1v1h-1zM292 130h1v1h-1zM281 133h1v1h-1zM274 151h1v1h-1zM304 169h1v1h-1zM283 141h1v1h-1zM269 151h1v1h-1zM276 152h1v1h-1zM304 151h1v1h-1zM281 170h1v1h-1zM277 115h1v1h-1zM274 148h1v1h-1zM274 171h1v1h-1zM298 133h1v1h-1zM284 156h1v1h-1zM278 140h1v1h-1zM289 145h1v1h-1zM306 152h1v1h-1zM283 156h1v1h-1zM286 144h1v1h-1zM291 168h1v1h-1zM286 160h1v1h-1zM266 144h1v1h-1zM284 146h1v1h-1zM297 159h1v1h-1zM283 140h1v1h-1zM279 147h1v1h-1zM304 130h1v1h-1zM295 145h1v1h-1zM304 170h1v1h-1zM273 159h1v1h-1zM266 166h1v1h-1zM282 132h1v1h-1zM283 163h1v1h-1zM314 168h1v1h-1zM288 151h1v1h-1zM296 176h1v1h-1zM287 145h1v1h-1zM285 179h1v1h-1zM300 137h1v1h-1zM285 137h1v1h-1zM287 144h1v1h-1zM272 165h1v1h-1zM283 148h1v1h-1zM294 161h1v1h-1zM268 161h1v1h-1zM307 134h1v1h-1zM298 165h1v1h-1zM288 111h1v1h-1zM270 145h1v1h-1zM284 155h1v1h-1zM293 155h1v1h-1zM281 134h1v1h-1zM274 149h1v1h-1zM311 145h1v1h-1zM282 171h1v1h-1zM293 164h1v1h-1zM285 183h1v1h-1zM276 179h1v1h-1zM303 157h1v1h-1zM277 141h1v1h-1zM287 115h1v1h-1zM299 136h1v1h-1zM268 162h1v1h-1zM284 136h1v1h-1zM300 130h1v1h-1zM276 122h1v1h-1zM305 163h1v1h-1zM266 162h1v1h-1zM276 136h1v1h-1zM281 115h1v1h-1zM286 152h1v1h-1zM302 136h1v1h-1zM266 134h1v1h-1zM276 168h1v1h-1zM311 164h1v1h-1zM289 131h1v1h-1zM266 129h1v1h-1zM292 174h1v1h-1zM281 128h1v1h-1zM293 150h1v1h-1zM274 123h1v1h-1zM278 158h1v1h-1zM289 169h1v1h-1zM311 149h1v1h-1zM298 136h1v1h-1zM266 152h1v1h-1zM274 164h1v1h-1zM281 119h1v1h-1zM283 141h1v1h-1zM277 141h1v1h-1zM282 167h1v1h-1zM290 153h1v1h-1zM273 123h1v1h-1zM307 181h1v1h-1zM288 155h1v1h-1zM286 145h1v1h-1zM301 159h1v1h-1zM296 158h1v1h-1zM286 144h1v1h-1zM299 118h1v1h-1zM301 148h1v1h-1zM287 142h1v1h-1zM289 144h1v1h-1zM289 136h1v1h-1zM278 138h1v1h-1zM301 118h1v1h-1zM285 147h1v1h-1zM300 155h1v1h-1zM288 157h1v1h-1zM286 148h1v1h-1zM281 168h1v1h-1zM311 134h1v1h-1zM286 132h1v1h-1zM307 185h1v1h-1zM286 179h1v1h-1zM286 130h1v1h-1zM306 123h1v1h-1zM270 175h1v1h-1zM295 164h1v1h-1zM279 139h1v1h-1zM269 175h1v1h-1zM289 163h1v1h-1zM277 143h1v1h-1zM290 137h1v1h-1zM296 173h1v1h-1zM268 164h1v1h-1zM287 157h1v1h-1zM279 174h1v1h-1zM286 165h1v1h-1zM288 140h1v1h-1zM269 184h1v1h-1zM305 152h1v1h-1zM297 177h1v1h-1zM302 171h1v1h-1zM282 166h1v1h-1zM277 157h1v1h-1zM272 122h1v1h-1zM272 123h1v1h-1zM289 165h1v1h-1zM289 138h1v1h-1zM283 128h1v1h-1zM289 163h1v1h-1zM307 134h1v1h-1zM282 151h1v1h-1zM313 157h1v1h-1zM289 124h1v1h-1zM301 165h1v1h-1zM279 136h1v1h-1zM287 141h1v1h-1zM312 142h1v1h-1zM278 167h1v1h-1zM287 136h1v1h-1zM267 137h1v1h-1zM303 142h1v1h-1zM282 170h1v1h-1zM304 168h1v1h-1zM288 141h1v1h-1zM272 156h1v1h-1zM283 157h1v1h-1zM293 180h1v1h-1zM286 129h1v1h-1zM291 136h1v1h-1zM280 148h1v1h-1zM293 173h1v1h-1zM291 134h1v1h-1zM297 144h1v1h-1zM265 170h1v1h-1zM307 133h1v1h-1zM279 141h1v1h-1zM278 175h1v1h-1zM294 156h1v1h-1zM286 138h1v1h-1zM277 140h1v1h-1zM291 165h1v1h-1zM279 166h1v1h-1zM270 142h1v1h-1zM283 168h1v1h-1zM287 136h1v1h-1zM291 168h1v1h-1zM270 112h1v1h-1zM291 133h1v1h-1zM300 159h1v1h-1zM294 150h1v1h-1zM273 150h1v1h-1zM278 157h1v1h-1zM269 133h1v1h-1zM285 154h1v1h-1zM284 170h1v1h-1zM265 164h1v1h-1zM280 152h1v1h-1zM297 155h1v1h-1zM295 183h1v1h-1zM283 118h1v1h-1zM277 144h1v1h-1zM286 137h1v1h-1zM285 157h1v1h-1zM276 127h1v1h-1zM274 166h1v1h-1zM322 115h1v1h-1zM275 174h1v1h-1zM275 154h1v1h-1zM278 152h1v1h-1zM287 134h1v1h-1zM271 125h1v1h-1zM298 151h1v1h-1zM300 164h1v1h-1zM280 140h1v1h-1zM285 137h1v1h-1zM283 161h1v1h-1zM268 131h1v1h-1zM280 137h1v1h-1zM282 159h1v1h-1zM288 165h1v1h-1zM284 158h1v1h-1zM282 154h1v1h-1zM283 152h1v1h-1zM279 158h1v1h-1zM294 177h1v1h-1zM303 167h1v1h-1zM276 128h1v1h-1zM286 172h1v1h-1zM285 153h1v1h-1zM269 166h1v1h-1zM307 145h1v1h-1zM310 166h1v1h-1zM273 164h1v1h-1zM286 160h1v1h-1zM269 160h1v1h-1zM295 130h1v1h-1zM290 176h1v1h-1zM288 140h1v1h-1zM281 167h1v1h-1zM290 151h1v1h-1zM276 139h1v1h-1zM281 130h1v1h-1zM281 152h1v1h-1zM285 164h1v1h-1zM280 163h1v1h-1zM273 132h1v1h-1zM276 162h1v1h-1zM275 139h1v1h-1zM286 115h1v1h-1zM278 108h1v1h-1zM276 142h1v1h-1zM276 154h1v1h-1zM277 147h1v1h-1zM292 158h1v1h-1zM285 140h1v1h-1zM286 148h1v1h-1zM283 154h1v1h-1zM277 128h1v1h-1zM288 118h1v1h-1zM294 142h1v1h-1zM272 172h1v1h-1zM275 154h1v1h-1zM272 160h1v1h-1zM287 147h1v1h-1zM281 123h1v1h-1zM297 140h1v1h-1zM282 143h1v1h-1zM286 148h1v1h-1zM279 147h1v1h-1zM286 181h1v1h-1zM269 172h1v1h-1zM285 161h1v1h-1zM275 171h1v1h-1zM293 117h1v1h-1zM276 148h1v1h-1zM284 143h1v1h-1zM299 148h1v1h-1zM294 153h1v1h-1zM286 147h1v1h-1zM276 179h1v1h-1zM297 174h1v1h-1zM275 144h1v1h-1zM285 146h1v1h-1zM291 183h1v1h-1zM277 145h1v1h-1zM286 159h1v1h-1zM275 153h1v1h-1zM280 140h1v1h-1zM290 177h1v1h-1zM299 146h1v1h-1zM321 140h1v1h-1zM284 128h1v1h-1zM280 158h1v1h-1zM276 150h1v1h-1zM271 144h1v1h-1zM268 144h1v1h-1zM278 149h1v1h-1zM299 132h1v1h-1zM274 168h1v1h-1zM272 145h1v1h-1zM310 166h1v1h-1zM308 150h1v1h-1zM266 159h1v1h-1zM272 156h1v1h-1zM288 163h1v1h-1zM273 155h1v1h-1zM288 178h1v1h-1zM291 160h1v1h-1zM276 159h1v1h-1zM291 134h1v1h-1zM291 157h1v1h-1zM280 137h1v1h-1zM281 165h1v1h-1zM305 155h1v1h-1zM279 165h1v1h-1zM295 166h1v1h-1zM281 107h1v1h-1zM286 151h1v1h-1zM269 153h1v1h-1zM271 146h1v1h-1zM299 141h1v1h-1zM282 152h1v1h-1zM279 142h1v1h-1zM285 148h1v1h-1zM287 144h1v1h-1zM288 142h1v1h-1zM289 164h1v1h-1zM279 152h1v1h-1zM306 141h1v1h-1zM281 156h1v1h-1zM291 149h1v1h-1zM273 177h1v1h-1zM305 137h1v1h-1zM289 128h1v1h-1zM287 139h1v1h-1zM291 145h1v1h-1zM299 175h1v1h-1zM305 151h1v1h-1zM280 147h1v1h-1zM276 150h1v1h-1zM271 148h1v1h-1zM293 171h1v1h-1zM289 123h1v1h-1zM294 145h1v1h-1zM292 151h1v1h-1zM294 162h1v1h-1zM292 153h1v1h-1zM269 181h1v1h-1zM280 146h1v1h-1zM290 122h1v1h-1zM281 163h1v1h-1zM281 108h1v1h-1zM286 169h1v1h-1zM286 154h1v1h-1zM289 172h1v1h-1zM287 151h1v1h-1zM288 130h1v1h-1zM308 121h1v1h-1zM282 138h1v1h-1zM285 151h1v1h-1zM296 151h1v1h-1zM271 153h1v1h-1zM279 171h1v1h-1zM284 175h1v1h-1zM274 158h1v1h-1zM291 153h1v1h-1zM287 123h1v1h-1zM290 148h1v1h-1zM307 135h1v1h-1zM308 149h1v1h-1zM287 161h1v1h-1zM296 175h1v1h-1zM291 149h1v1h-1zM300 182h1v1h-1zM288 146h1v1h-1zM293 156h1v1h-1zM283 155h1v1h-1zM298 181h1v1h-1zM296 161h1v1h-1zM279 123h1v1h-1zM281 162h1v1h-1zM273 161h1v1h-1zM274 158h1v1h-1zM293 153h1v1h-1zM292 134h1v1h-1zM285 145h1v1h-1zM284 152h1v1h-1zM286 139h1v1h-1zM278 119h1v1h-1zM280 105h1v1h-1zM278 144h1v1h-1zM285 161h1v1h-1zM293 143h1v1h-1zM280 160h1v1h-1zM289 110h1v1h-1zM290 145h1v1h-1zM267 120h1v1h-1zM282 112h1v1h-1zM271 144h1v1h-1zM286 130h1v1h-1zM294 110h1v1h-1zM297 117h1v1h-1zM295 124h1v1h-1zM298 131h1v1h-1zM284 136h1v1h-1zM278 132h1v1h-1zM271 123h1v1h-1zM304 135h1v1h-1zM275 141h1v1h-1zM282 129h1v1h-1zM281 132h1v1h-1zM280 141h1v1h-1zM282 117h1v1h-1zM281 109h1v1h-1zM291 138h1v1h-1zM298 131h1v1h-1zM283 140h1v1h-1zM299 117h1v1h-1zM272 119h1v1h-1zM285 138h1v1h-1zM295 129h1v1h-1zM296 122h1v1h-1zM284 99h1v1h-1zM280 122h1v1h-1zM296 124h1v1h-1zM281 126h1v1h-1zM281 102h1v1h-1zM278 123h1v1h-1zM283 117h1v1h-1zM280 132h1v1h-1zM270 122h1v1h-1zM279 122h1v1h-1zM285 133h1v1h-1zM273 105h1v1h-1zM286 126h1v1h-1zM278 122h1v1h-1zM276 141h1v1h-1zM302 138h1v1h-1zM273 133h1v1h-1zM288 126h1v1h-1zM283 122h1v1h-1zM279 117h1v1h-1zM277 153h1v1h-1zM290 117h1v1h-1zM278 131h1v1h-1zM303 145h1v1h-1zM275 109h1v1h-1zM278 128h1v1h-1zM279 118h1v1h-1zM305 110h1v1h-1zM291 123h1v1h-1zM279 147h1v1h-1zM272 128h1v1h-1zM283 116h1v1h-1zM276 82h1v1h-1zM288 81h1v1h-1zM293 80h1v1h-1zM296 84h1v1h-1zM313 73h1v1h-1zM318 70h1v1h-1zM322 118h1v1h-1zM310 110h1v1h-1zM320 121h1v1h-1zM327 119h1v1h-1zM329 135h1v1h-1zM312 160h1v1h-1zM318 175h1v1h-1zM340 171h1v1h-1zM341 176h1v1h-1zM306 183h1v1h-1zM315 145h1v1h-1zM309 150h1v1h-1z" fill="#000" fill-opacity="0.55"/>
<rect x="264.6" y="23.6" width="164.9" height="165.1" fill="none" stroke="#7a7a7a" stroke-width="1.2"/>
<line x1="305.6" y1="23.6" x2="305.6" y2="188.7" stroke="#333" stroke-width="1.1" />
<line x1="264.6" y1="132" x2="429.5" y2="132" stroke="#333" stroke-width="1.1" />
<line x1="264.6" y1="188.7" x2="264.6" y2="192.7" stroke="#333" stroke-width="1" />
<line x1="260.6" y1="188.7" x2="264.6" y2="188.7" stroke="#333" stroke-width="1" />
<text x="265.1" y="201.7" font-family='"Liberation Sans", sans-serif' font-size="7" text-anchor="middle" fill="#222" stroke="#222" stroke-width="0.3">1</text>
<text x="258.6" y="191.2" font-family='"Liberation Sans", sans-serif' font-size="7" text-anchor="end" fill="#222" stroke="#222" stroke-width="0.3">1</text>
<line x1="277" y1="188.7" x2="277" y2="190.9" stroke="#444" stroke-width="0.9" />
<line x1="262.4" y1="176.48" x2="264.6" y2="176.48" stroke="#444" stroke-width="0.9" />
<line x1="284.26" y1="188.7" x2="284.26" y2="190.9" stroke="#444" stroke-width="0.9" />
<line x1="262.4" y1="169.33" x2="264.6" y2="169.33" stroke="#444" stroke-width="0.9" />
<line x1="289.4" y1="188.7" x2="289.4" y2="190.9" stroke="#444" stroke-width="0.9" />
<line x1="262.4" y1="164.26" x2="264.6" y2="164.26" stroke="#444" stroke-width="0.9" />
<line x1="293.4" y1="188.7" x2="293.4" y2="190.9" stroke="#444" stroke-width="0.9" />
<line x1="262.4" y1="160.32" x2="264.6" y2="160.32" stroke="#444" stroke-width="0.9" />
<line x1="296.66" y1="188.7" x2="296.66" y2="190.9" stroke="#444" stroke-width="0.9" />
<line x1="262.4" y1="157.11" x2="264.6" y2="157.11" stroke="#444" stroke-width="0.9" />
<line x1="299.42" y1="188.7" x2="299.42" y2="190.9" stroke="#444" stroke-width="0.9" />
<line x1="262.4" y1="154.39" x2="264.6" y2="154.39" stroke="#444" stroke-width="0.9" />
<line x1="301.81" y1="188.7" x2="301.81" y2="190.9" stroke="#444" stroke-width="0.9" />
<line x1="262.4" y1="152.03" x2="264.6" y2="152.03" stroke="#444" stroke-width="0.9" />
<line x1="303.91" y1="188.7" x2="303.91" y2="190.9" stroke="#444" stroke-width="0.9" />
<line x1="262.4" y1="149.96" x2="264.6" y2="149.96" stroke="#444" stroke-width="0.9" />
<line x1="305.8" y1="188.7" x2="305.8" y2="192.7" stroke="#333" stroke-width="1" />
<line x1="260.6" y1="148.1" x2="264.6" y2="148.1" stroke="#333" stroke-width="1" />
<text x="306.3" y="201.7" font-family='"Liberation Sans", sans-serif' font-size="7" text-anchor="middle" fill="#222" stroke="#222" stroke-width="0.3">10</text>
<text x="258.6" y="150.6" font-family='"Liberation Sans", sans-serif' font-size="7" text-anchor="end" fill="#222" stroke="#222" stroke-width="0.3">10</text>
<line x1="318.2" y1="188.7" x2="318.2" y2="190.9" stroke="#444" stroke-width="0.9" />
<line x1="262.4" y1="135.88" x2="264.6" y2="135.88" stroke="#444" stroke-width="0.9" />
<line x1="325.46" y1="188.7" x2="325.46" y2="190.9" stroke="#444" stroke-width="0.9" />
<line x1="262.4" y1="128.73" x2="264.6" y2="128.73" stroke="#444" stroke-width="0.9" />
<line x1="330.6" y1="188.7" x2="330.6" y2="190.9" stroke="#444" stroke-width="0.9" />
<line x1="262.4" y1="123.66" x2="264.6" y2="123.66" stroke="#444" stroke-width="0.9" />
<line x1="334.6" y1="188.7" x2="334.6" y2="190.9" stroke="#444" stroke-width="0.9" />
<line x1="262.4" y1="119.72" x2="264.6" y2="119.72" stroke="#444" stroke-width="0.9" />
<line x1="337.86" y1="188.7" x2="337.86" y2="190.9" stroke="#444" stroke-width="0.9" />
<line x1="262.4" y1="116.51" x2="264.6" y2="116.51" stroke="#444" stroke-width="0.9" />
<line x1="340.62" y1="188.7" x2="340.62" y2="190.9" stroke="#444" stroke-width="0.9" />
<line x1="262.4" y1="113.79" x2="264.6" y2="113.79" stroke="#444" stroke-width="0.9" />
<line x1="343.01" y1="188.7" x2="343.01" y2="190.9" stroke="#444" stroke-width="0.9" />
<line x1="262.4" y1="111.43" x2="264.6" y2="111.43" stroke="#444" stroke-width="0.9" />
<line x1="345.11" y1="188.7" x2="345.11" y2="190.9" stroke="#444" stroke-width="0.9" />
<line x1="262.4" y1="109.36" x2="264.6" y2="109.36" stroke="#444" stroke-width="0.9" />
<line x1="347" y1="188.7" x2="347" y2="192.7" stroke="#333" stroke-width="1" />
<line x1="260.6" y1="107.5" x2="264.6" y2="107.5" stroke="#333" stroke-width="1" />
<text x="347.5" y="201.7" font-family='"Liberation Sans", sans-serif' font-size="7" text-anchor="middle" fill="#222" stroke="#222" stroke-width="0.3">100</text>
<text x="258.6" y="110" font-family='"Liberation Sans", sans-serif' font-size="7" text-anchor="end" fill="#222" stroke="#222" stroke-width="0.3">100</text>
<line x1="359.4" y1="188.7" x2="359.4" y2="190.9" stroke="#444" stroke-width="0.9" />
<line x1="262.4" y1="95.28" x2="264.6" y2="95.28" stroke="#444" stroke-width="0.9" />
<line x1="366.66" y1="188.7" x2="366.66" y2="190.9" stroke="#444" stroke-width="0.9" />
<line x1="262.4" y1="88.13" x2="264.6" y2="88.13" stroke="#444" stroke-width="0.9" />
<line x1="371.8" y1="188.7" x2="371.8" y2="190.9" stroke="#444" stroke-width="0.9" />
<line x1="262.4" y1="83.06" x2="264.6" y2="83.06" stroke="#444" stroke-width="0.9" />
<line x1="375.8" y1="188.7" x2="375.8" y2="190.9" stroke="#444" stroke-width="0.9" />
<line x1="262.4" y1="79.12" x2="264.6" y2="79.12" stroke="#444" stroke-width="0.9" />
<line x1="379.06" y1="188.7" x2="379.06" y2="190.9" stroke="#444" stroke-width="0.9" />
<line x1="262.4" y1="75.91" x2="264.6" y2="75.91" stroke="#444" stroke-width="0.9" />
<line x1="381.82" y1="188.7" x2="381.82" y2="190.9" stroke="#444" stroke-width="0.9" />
<line x1="262.4" y1="73.19" x2="264.6" y2="73.19" stroke="#444" stroke-width="0.9" />
<line x1="384.21" y1="188.7" x2="384.21" y2="190.9" stroke="#444" stroke-width="0.9" />
<line x1="262.4" y1="70.83" x2="264.6" y2="70.83" stroke="#444" stroke-width="0.9" />
<line x1="386.31" y1="188.7" x2="386.31" y2="190.9" stroke="#444" stroke-width="0.9" />
<line x1="262.4" y1="68.76" x2="264.6" y2="68.76" stroke="#444" stroke-width="0.9" />
<line x1="388.2" y1="188.7" x2="388.2" y2="192.7" stroke="#333" stroke-width="1" />
<line x1="260.6" y1="66.9" x2="264.6" y2="66.9" stroke="#333" stroke-width="1" />
<text x="388.7" y="201.7" font-family='"Liberation Sans", sans-serif' font-size="7" text-anchor="middle" fill="#222" stroke="#222" stroke-width="0.3">1000</text>
<text x="258.6" y="69.4" font-family='"Liberation Sans", sans-serif' font-size="7" text-anchor="end" fill="#222" stroke="#222" stroke-width="0.3">1000</text>
<line x1="400.6" y1="188.7" x2="400.6" y2="190.9" stroke="#444" stroke-width="0.9" />
<line x1="262.4" y1="54.68" x2="264.6" y2="54.68" stroke="#444" stroke-width="0.9" />
<line x1="407.86" y1="188.7" x2="407.86" y2="190.9" stroke="#444" stroke-width="0.9" />
<line x1="262.4" y1="47.53" x2="264.6" y2="47.53" stroke="#444" stroke-width="0.9" />
<line x1="413" y1="188.7" x2="413" y2="190.9" stroke="#444" stroke-width="0.9" />
<line x1="262.4" y1="42.46" x2="264.6" y2="42.46" stroke="#444" stroke-width="0.9" />
<line x1="417" y1="188.7" x2="417" y2="190.9" stroke="#444" stroke-width="0.9" />
<line x1="262.4" y1="38.52" x2="264.6" y2="38.52" stroke="#444" stroke-width="0.9" />
<line x1="420.26" y1="188.7" x2="420.26" y2="190.9" stroke="#444" stroke-width="0.9" />
<line x1="262.4" y1="35.31" x2="264.6" y2="35.31" stroke="#444" stroke-width="0.9" />
<line x1="423.02" y1="188.7" x2="423.02" y2="190.9" stroke="#444" stroke-width="0.9" />
<line x1="262.4" y1="32.59" x2="264.6" y2="32.59" stroke="#444" stroke-width="0.9" />
<line x1="425.41" y1="188.7" x2="425.41" y2="190.9" stroke="#444" stroke-width="0.9" />
<line x1="262.4" y1="30.23" x2="264.6" y2="30.23" stroke="#444" stroke-width="0.9" />
<line x1="427.51" y1="188.7" x2="427.51" y2="190.9" stroke="#444" stroke-width="0.9" />
<line x1="262.4" y1="28.16" x2="264.6" y2="28.16" stroke="#444" stroke-width="0.9" />
<line x1="429.4" y1="188.7" x2="429.4" y2="192.7" stroke="#333" stroke-width="1" />
<line x1="260.6" y1="26.3" x2="264.6" y2="26.3" stroke="#333" stroke-width="1" />
<text x="429.9" y="201.7" font-family='"Liberation Sans", sans-serif' font-size="7" text-anchor="middle" fill="#222" stroke="#222" stroke-width="0.3">10000</text>
<text x="258.6" y="28.8" font-family='"Liberation Sans", sans-serif' font-size="7" text-anchor="end" fill="#222" stroke="#222" stroke-width="0.3">10000</text>
<text x="264.4" y="17.8" font-family='"Liberation Sans", sans-serif' font-size="20" font-weight="bold" fill="#000" >R1 gated</text>
<rect x="265.4" y="24.4" width="16" height="12.5" fill="#fff"/>
<rect x="265.4" y="175.9" width="16" height="12.1" fill="#fff"/>
<text x="267.3" y="36.6" font-family='"Liberation Serif", serif' font-size="13.5" fill="#111" >19</text>
<text x="414.9" y="36.5" font-family='"Liberation Serif", serif' font-size="13.5" fill="#111" >1</text>
<text x="267.1" y="187" font-family='"Liberation Serif", serif' font-size="13.5" fill="#111" >78</text>
<text x="414.8" y="186.2" font-family='"Liberation Serif", serif' font-size="13.5" fill="#111" >2</text>
<path d="M106 355h1v1h-1zM81 368h1v1h-1zM86 343h1v1h-1zM70 353h1v1h-1zM62 352h1v1h-1zM69 361h1v1h-1zM64 372h1v1h-1zM68 314h1v1h-1zM91 359h1v1h-1zM66 370h1v1h-1zM78 366h1v1h-1zM64 369h1v1h-1zM56 389h1v1h-1zM59 362h1v1h-1zM76 369h1v1h-1zM72 373h1v1h-1zM72 356h1v1h-1zM94 348h1v1h-1zM73 331h1v1h-1zM77 337h1v1h-1zM83 363h1v1h-1zM76 340h1v1h-1zM60 370h1v1h-1zM59 392h1v1h-1zM87 355h1v1h-1zM73 347h1v1h-1zM78 379h1v1h-1zM73 356h1v1h-1zM84 359h1v1h-1zM85 358h1v1h-1zM95 359h1v1h-1zM60 365h1v1h-1zM65 348h1v1h-1zM72 376h1v1h-1zM72 361h1v1h-1zM84 342h1v1h-1zM83 360h1v1h-1zM75 360h1v1h-1zM70 355h1v1h-1zM79 398h1v1h-1zM88 378h1v1h-1zM81 356h1v1h-1zM82 397h1v1h-1zM57 377h1v1h-1zM88 369h1v1h-1zM85 387h1v1h-1zM104 385h1v1h-1zM96 370h1v1h-1zM85 367h1v1h-1zM78 357h1v1h-1zM84 388h1v1h-1zM73 369h1v1h-1zM83 365h1v1h-1zM87 369h1v1h-1zM59 348h1v1h-1zM84 375h1v1h-1zM89 369h1v1h-1zM78 339h1v1h-1zM93 350h1v1h-1zM89 346h1v1h-1zM66 367h1v1h-1zM69 354h1v1h-1zM87 376h1v1h-1zM80 360h1v1h-1zM64 357h1v1h-1zM68 365h1v1h-1zM85 362h1v1h-1zM65 355h1v1h-1zM92 368h1v1h-1zM78 370h1v1h-1zM83 367h1v1h-1zM91 378h1v1h-1zM114 345h1v1h-1zM77 383h1v1h-1zM75 387h1v1h-1zM59 345h1v1h-1zM73 354h1v1h-1zM61 375h1v1h-1zM79 366h1v1h-1zM70 370h1v1h-1zM74 354h1v1h-1zM82 371h1v1h-1zM77 377h1v1h-1zM61 363h1v1h-1zM69 387h1v1h-1zM82 399h1v1h-1zM96 360h1v1h-1zM61 373h1v1h-1zM72 363h1v1h-1zM62 375h1v1h-1zM78 372h1v1h-1zM80 351h1v1h-1zM67 357h1v1h-1zM88 364h1v1h-1zM95 368h1v1h-1zM84 374h1v1h-1zM86 345h1v1h-1zM90 367h1v1h-1zM63 375h1v1h-1zM80 386h1v1h-1zM85 371h1v1h-1zM95 378h1v1h-1zM81 385h1v1h-1zM64 377h1v1h-1zM76 349h1v1h-1zM80 371h1v1h-1zM98 381h1v1h-1zM74 362h1v1h-1zM63 342h1v1h-1zM73 347h1v1h-1zM67 379h1v1h-1zM79 353h1v1h-1zM61 363h1v1h-1zM98 357h1v1h-1zM98 353h1v1h-1zM73 377h1v1h-1zM65 366h1v1h-1zM58 376h1v1h-1zM91 355h1v1h-1zM78 359h1v1h-1zM84 379h1v1h-1zM81 368h1v1h-1zM106 336h1v1h-1zM71 359h1v1h-1zM73 377h1v1h-1zM66 344h1v1h-1zM61 373h1v1h-1zM88 378h1v1h-1zM96 357h1v1h-1zM88 376h1v1h-1zM73 353h1v1h-1zM87 355h1v1h-1zM72 350h1v1h-1zM98 365h1v1h-1zM69 362h1v1h-1zM73 367h1v1h-1zM82 383h1v1h-1zM62 367h1v1h-1zM68 329h1v1h-1zM71 348h1v1h-1zM87 362h1v1h-1zM75 342h1v1h-1zM77 334h1v1h-1zM78 388h1v1h-1zM60 379h1v1h-1zM94 362h1v1h-1zM90 367h1v1h-1zM69 333h1v1h-1zM61 342h1v1h-1zM106 370h1v1h-1zM73 344h1v1h-1zM98 347h1v1h-1zM95 383h1v1h-1zM76 355h1v1h-1zM75 344h1v1h-1zM84 392h1v1h-1zM87 382h1v1h-1zM66 370h1v1h-1zM62 358h1v1h-1zM85 406h1v1h-1zM76 366h1v1h-1zM64 343h1v1h-1zM56 368h1v1h-1zM70 376h1v1h-1zM72 365h1v1h-1zM95 378h1v1h-1zM85 389h1v1h-1zM78 350h1v1h-1zM65 340h1v1h-1zM80 359h1v1h-1zM82 379h1v1h-1zM65 368h1v1h-1zM92 367h1v1h-1zM88 362h1v1h-1zM63 362h1v1h-1zM69 387h1v1h-1zM59 368h1v1h-1zM80 362h1v1h-1zM80 353h1v1h-1zM61 343h1v1h-1zM68 352h1v1h-1zM79 360h1v1h-1zM67 354h1v1h-1zM81 344h1v1h-1zM72 376h1v1h-1zM66 369h1v1h-1zM70 405h1v1h-1zM94 385h1v1h-1zM67 376h1v1h-1zM73 371h1v1h-1zM68 368h1v1h-1zM65 370h1v1h-1zM99 343h1v1h-1zM58 374h1v1h-1zM86 359h1v1h-1zM83 372h1v1h-1zM83 388h1v1h-1zM67 376h1v1h-1zM78 354h1v1h-1zM82 344h1v1h-1zM56 383h1v1h-1zM61 393h1v1h-1zM89 357h1v1h-1zM64 329h1v1h-1zM74 339h1v1h-1zM96 338h1v1h-1zM76 321h1v1h-1zM71 387h1v1h-1zM70 352h1v1h-1zM69 372h1v1h-1zM87 362h1v1h-1zM88 403h1v1h-1zM78 368h1v1h-1zM68 378h1v1h-1zM99 349h1v1h-1zM77 348h1v1h-1zM66 362h1v1h-1zM82 352h1v1h-1zM71 388h1v1h-1zM82 377h1v1h-1zM81 362h1v1h-1zM81 374h1v1h-1zM75 382h1v1h-1zM75 380h1v1h-1zM76 377h1v1h-1zM66 356h1v1h-1zM60 385h1v1h-1zM82 369h1v1h-1zM84 352h1v1h-1zM77 357h1v1h-1zM64 389h1v1h-1zM65 355h1v1h-1zM88 365h1v1h-1zM58 369h1v1h-1zM65 393h1v1h-1zM61 353h1v1h-1zM100 363h1v1h-1zM63 370h1v1h-1zM72 365h1v1h-1zM109 398h1v1h-1zM97 393h1v1h-1zM63 333h1v1h-1zM85 372h1v1h-1zM76 363h1v1h-1zM85 375h1v1h-1zM79 373h1v1h-1zM73 359h1v1h-1zM94 361h1v1h-1zM102 376h1v1h-1zM76 384h1v1h-1zM69 362h1v1h-1zM71 365h1v1h-1zM85 400h1v1h-1zM82 348h1v1h-1zM64 336h1v1h-1zM85 380h1v1h-1zM80 371h1v1h-1zM82 372h1v1h-1zM84 369h1v1h-1zM62 381h1v1h-1zM93 339h1v1h-1zM72 347h1v1h-1zM82 361h1v1h-1zM94 384h1v1h-1zM69 358h1v1h-1zM68 375h1v1h-1zM63 373h1v1h-1zM57 383h1v1h-1zM82 346h1v1h-1zM65 368h1v1h-1zM79 319h1v1h-1zM78 390h1v1h-1zM70 343h1v1h-1zM92 369h1v1h-1zM78 376h1v1h-1zM59 354h1v1h-1zM60 347h1v1h-1zM71 348h1v1h-1zM97 374h1v1h-1zM86 338h1v1h-1zM73 363h1v1h-1zM78 373h1v1h-1zM65 350h1v1h-1zM88 402h1v1h-1zM103 361h1v1h-1zM65 368h1v1h-1zM82 394h1v1h-1zM72 353h1v1h-1zM89 354h1v1h-1zM64 374h1v1h-1zM73 348h1v1h-1zM72 359h1v1h-1zM72 353h1v1h-1zM83 360h1v1h-1zM67 383h1v1h-1zM63 378h1v1h-1zM83 361h1v1h-1zM78 341h1v1h-1zM79 349h1v1h-1zM64 370h1v1h-1zM66 368h1v1h-1zM81 382h1v1h-1zM81 382h1v1h-1zM65 359h1v1h-1zM84 385h1v1h-1zM81 357h1v1h-1zM61 350h1v1h-1zM90 349h1v1h-1zM72 376h1v1h-1zM81 354h1v1h-1zM102 368h1v1h-1zM79 379h1v1h-1zM71 377h1v1h-1zM74 351h1v1h-1zM63 372h1v1h-1zM77 363h1v1h-1zM69 361h1v1h-1zM86 383h1v1h-1zM72 370h1v1h-1zM66 351h1v1h-1zM85 332h1v1h-1zM82 376h1v1h-1zM104 357h1v1h-1zM81 389h1v1h-1zM88 350h1v1h-1zM71 347h1v1h-1zM76 377h1v1h-1zM93 374h1v1h-1zM87 383h1v1h-1zM65 376h1v1h-1zM88 363h1v1h-1zM63 368h1v1h-1zM78 377h1v1h-1zM102 386h1v1h-1zM74 361h1v1h-1zM72 350h1v1h-1zM70 365h1v1h-1zM60 364h1v1h-1zM79 345h1v1h-1zM70 340h1v1h-1zM76 369h1v1h-1zM69 367h1v1h-1zM83 376h1v1h-1zM58 360h1v1h-1zM57 335h1v1h-1zM89 378h1v1h-1zM92 378h1v1h-1zM69 369h1v1h-1zM68 387h1v1h-1zM68 377h1v1h-1zM91 355h1v1h-1zM93 383h1v1h-1zM60 344h1v1h-1zM88 354h1v1h-1zM78 365h1v1h-1zM62 391h1v1h-1zM95 367h1v1h-1zM96 365h1v1h-1zM79 361h1v1h-1zM58 360h1v1h-1zM63 372h1v1h-1zM77 356h1v1h-1zM92 371h1v1h-1zM99 359h1v1h-1zM70 354h1v1h-1zM79 363h1v1h-1zM76 394h1v1h-1zM86 356h1v1h-1zM81 361h1v1h-1zM72 362h1v1h-1zM76 376h1v1h-1zM89 366h1v1h-1zM65 365h1v1h-1zM73 361h1v1h-1zM60 363h1v1h-1zM85 378h1v1h-1zM63 369h1v1h-1zM92 362h1v1h-1zM62 364h1v1h-1zM81 343h1v1h-1zM85 384h1v1h-1zM84 376h1v1h-1zM96 369h1v1h-1zM94 362h1v1h-1zM67 360h1v1h-1zM62 372h1v1h-1zM66 371h1v1h-1zM80 392h1v1h-1zM99 357h1v1h-1zM73 363h1v1h-1zM67 394h1v1h-1zM92 362h1v1h-1zM58 355h1v1h-1zM76 391h1v1h-1zM59 389h1v1h-1zM57 371h1v1h-1zM60 359h1v1h-1zM76 349h1v1h-1zM75 342h1v1h-1zM82 363h1v1h-1zM61 353h1v1h-1zM88 362h1v1h-1zM59 347h1v1h-1zM71 351h1v1h-1zM79 351h1v1h-1zM87 384h1v1h-1zM68 352h1v1h-1zM80 350h1v1h-1zM90 355h1v1h-1zM60 378h1v1h-1zM81 332h1v1h-1zM66 345h1v1h-1zM72 368h1v1h-1zM69 368h1v1h-1zM87 360h1v1h-1zM59 350h1v1h-1zM86 393h1v1h-1zM73 371h1v1h-1zM65 356h1v1h-1zM88 357h1v1h-1zM78 367h1v1h-1zM90 369h1v1h-1zM75 360h1v1h-1zM68 382h1v1h-1zM103 340h1v1h-1zM89 349h1v1h-1zM67 360h1v1h-1zM70 359h1v1h-1zM67 394h1v1h-1zM56 355h1v1h-1zM65 368h1v1h-1zM59 365h1v1h-1zM77 396h1v1h-1zM84 364h1v1h-1zM77 395h1v1h-1zM74 354h1v1h-1zM67 359h1v1h-1zM87 349h1v1h-1zM68 365h1v1h-1zM63 376h1v1h-1zM70 373h1v1h-1zM82 389h1v1h-1zM98 351h1v1h-1zM58 347h1v1h-1zM81 374h1v1h-1zM75 365h1v1h-1zM95 379h1v1h-1zM78 375h1v1h-1zM56 384h1v1h-1zM102 368h1v1h-1zM70 385h1v1h-1zM69 367h1v1h-1zM83 363h1v1h-1zM85 335h1v1h-1zM82 369h1v1h-1zM70 366h1v1h-1zM81 347h1v1h-1zM79 353h1v1h-1zM102 371h1v1h-1zM79 382h1v1h-1zM88 381h1v1h-1zM67 368h1v1h-1zM87 369h1v1h-1zM77 356h1v1h-1zM78 388h1v1h-1zM60 344h1v1h-1zM60 341h1v1h-1zM92 395h1v1h-1zM82 367h1v1h-1zM93 382h1v1h-1zM107 359h1v1h-1zM66 356h1v1h-1zM96 359h1v1h-1zM81 385h1v1h-1zM78 366h1v1h-1zM62 346h1v1h-1zM89 345h1v1h-1zM89 385h1v1h-1zM95 363h1v1h-1zM65 367h1v1h-1zM92 374h1v1h-1zM82 364h1v1h-1zM87 335h1v1h-1zM60 390h1v1h-1zM82 377h1v1h-1zM70 364h1v1h-1zM91 357h1v1h-1zM77 354h1v1h-1zM73 371h1v1h-1zM81 381h1v1h-1zM59 378h1v1h-1zM81 353h1v1h-1zM92 355h1v1h-1zM71 374h1v1h-1zM94 359h1v1h-1zM95 372h1v1h-1zM66 377h1v1h-1zM76 354h1v1h-1zM74 385h1v1h-1zM80 362h1v1h-1zM86 343h1v1h-1zM84 387h1v1h-1zM61 348h1v1h-1zM65 362h1v1h-1zM66 365h1v1h-1zM63 370h1v1h-1zM83 373h1v1h-1zM68 379h1v1h-1zM56 355h1v1h-1zM75 386h1v1h-1zM71 375h1v1h-1zM97 397h1v1h-1zM98 353h1v1h-1zM79 374h1v1h-1zM84 374h1v1h-1zM74 366h1v1h-1zM58 377h1v1h-1zM80 357h1v1h-1zM99 366h1v1h-1zM67 375h1v1h-1zM81 376h1v1h-1zM74 378h1v1h-1zM77 385h1v1h-1zM80 353h1v1h-1zM63 375h1v1h-1zM88 343h1v1h-1zM83 365h1v1h-1zM79 353h1v1h-1zM61 356h1v1h-1zM65 359h1v1h-1zM77 366h1v1h-1zM100 351h1v1h-1zM70 367h1v1h-1zM84 349h1v1h-1zM57 370h1v1h-1zM81 375h1v1h-1zM84 342h1v1h-1zM89 364h1v1h-1zM102 360h1v1h-1zM78 371h1v1h-1zM78 357h1v1h-1zM72 355h1v1h-1zM76 361h1v1h-1zM65 362h1v1h-1zM96 365h1v1h-1zM83 333h1v1h-1zM91 357h1v1h-1zM82 349h1v1h-1zM75 378h1v1h-1zM75 369h1v1h-1zM66 354h1v1h-1zM79 363h1v1h-1zM77 355h1v1h-1zM71 377h1v1h-1zM94 359h1v1h-1zM67 368h1v1h-1zM87 370h1v1h-1zM89 363h1v1h-1zM63 336h1v1h-1zM86 370h1v1h-1zM67 371h1v1h-1zM61 382h1v1h-1zM89 384h1v1h-1zM70 388h1v1h-1zM86 391h1v1h-1zM92 361h1v1h-1zM88 368h1v1h-1zM94 362h1v1h-1zM76 347h1v1h-1zM102 353h1v1h-1zM62 352h1v1h-1zM77 367h1v1h-1zM81 390h1v1h-1zM88 343h1v1h-1zM78 363h1v1h-1zM85 368h1v1h-1zM93 368h1v1h-1zM101 351h1v1h-1zM91 380h1v1h-1zM66 345h1v1h-1zM67 372h1v1h-1zM97 343h1v1h-1zM72 346h1v1h-1zM86 368h1v1h-1zM76 377h1v1h-1zM80 389h1v1h-1zM72 356h1v1h-1zM76 365h1v1h-1zM92 360h1v1h-1zM69 355h1v1h-1zM66 335h1v1h-1zM77 374h1v1h-1zM78 354h1v1h-1zM87 377h1v1h-1zM79 376h1v1h-1zM74 372h1v1h-1zM83 347h1v1h-1zM69 355h1v1h-1zM81 325h1v1h-1zM79 365h1v1h-1zM73 372h1v1h-1zM57 369h1v1h-1zM66 356h1v1h-1zM93 360h1v1h-1zM89 365h1v1h-1zM72 360h1v1h-1zM57 360h1v1h-1zM77 388h1v1h-1zM85 379h1v1h-1zM64 354h1v1h-1zM80 374h1v1h-1zM62 382h1v1h-1zM68 370h1v1h-1zM70 377h1v1h-1zM87 382h1v1h-1zM64 368h1v1h-1zM104 366h1v1h-1zM82 368h1v1h-1zM69 393h1v1h-1zM96 355h1v1h-1zM82 395h1v1h-1zM82 367h1v1h-1zM88 379h1v1h-1zM60 353h1v1h-1zM96 357h1v1h-1zM75 356h1v1h-1zM100 346h1v1h-1zM78 360h1v1h-1zM72 347h1v1h-1zM66 363h1v1h-1zM79 337h1v1h-1zM77 352h1v1h-1zM75 359h1v1h-1zM74 362h1v1h-1zM82 366h1v1h-1zM57 370h1v1h-1zM99 360h1v1h-1zM73 371h1v1h-1zM84 357h1v1h-1zM77 334h1v1h-1zM80 375h1v1h-1zM100 325h1v1h-1zM73 388h1v1h-1zM84 354h1v1h-1zM68 360h1v1h-1zM84 352h1v1h-1zM57 368h1v1h-1zM65 392h1v1h-1zM62 370h1v1h-1zM73 342h1v1h-1zM69 334h1v1h-1zM80 350h1v1h-1zM59 340h1v1h-1zM93 374h1v1h-1zM62 363h1v1h-1zM83 374h1v1h-1zM75 332h1v1h-1zM97 363h1v1h-1zM93 345h1v1h-1zM86 387h1v1h-1zM90 346h1v1h-1zM72 390h1v1h-1zM65 376h1v1h-1zM73 342h1v1h-1zM88 383h1v1h-1zM84 369h1v1h-1zM89 334h1v1h-1zM75 393h1v1h-1zM82 383h1v1h-1zM72 371h1v1h-1zM60 374h1v1h-1zM79 360h1v1h-1zM75 367h1v1h-1zM78 378h1v1h-1zM89 331h1v1h-1zM79 383h1v1h-1zM61 363h1v1h-1zM106 356h1v1h-1zM88 369h1v1h-1zM57 361h1v1h-1zM87 376h1v1h-1zM79 357h1v1h-1zM84 385h1v1h-1zM85 381h1v1h-1zM81 373h1v1h-1zM64 390h1v1h-1zM62 351h1v1h-1zM66 354h1v1h-1zM93 362h1v1h-1zM72 361h1v1h-1zM76 387h1v1h-1zM95 359h1v1h-1zM98 375h1v1h-1zM80 386h1v1h-1zM77 371h1v1h-1zM78 347h1v1h-1zM59 350h1v1h-1zM64 356h1v1h-1zM69 383h1v1h-1zM76 378h1v1h-1zM80 352h1v1h-1zM72 342h1v1h-1zM75 367h1v1h-1zM88 344h1v1h-1zM73 330h1v1h-1zM64 375h1v1h-1zM55 344h1v1h-1zM71 392h1v1h-1zM85 362h1v1h-1zM83 367h1v1h-1zM70 357h1v1h-1zM81 363h1v1h-1zM85 356h1v1h-1zM86 358h1v1h-1zM90 381h1v1h-1zM66 402h1v1h-1zM80 354h1v1h-1zM59 367h1v1h-1zM77 353h1v1h-1zM61 358h1v1h-1zM61 355h1v1h-1zM64 372h1v1h-1zM69 364h1v1h-1zM58 382h1v1h-1zM73 360h1v1h-1zM63 375h1v1h-1zM81 355h1v1h-1zM96 351h1v1h-1zM91 368h1v1h-1zM58 361h1v1h-1zM82 359h1v1h-1zM76 364h1v1h-1zM81 355h1v1h-1zM99 370h1v1h-1zM94 361h1v1h-1zM78 350h1v1h-1zM76 389h1v1h-1zM79 354h1v1h-1zM68 374h1v1h-1zM73 397h1v1h-1zM78 366h1v1h-1zM85 391h1v1h-1zM56 354h1v1h-1zM66 334h1v1h-1zM73 364h1v1h-1zM86 375h1v1h-1zM84 375h1v1h-1zM70 411h1v1h-1zM94 360h1v1h-1zM64 373h1v1h-1zM88 373h1v1h-1zM85 381h1v1h-1zM81 351h1v1h-1zM69 337h1v1h-1zM87 357h1v1h-1zM78 399h1v1h-1zM65 366h1v1h-1zM65 336h1v1h-1zM88 364h1v1h-1zM75 378h1v1h-1zM73 376h1v1h-1zM92 355h1v1h-1zM81 368h1v1h-1zM89 404h1v1h-1zM63 390h1v1h-1zM77 376h1v1h-1zM80 363h1v1h-1zM60 365h1v1h-1zM64 388h1v1h-1zM81 356h1v1h-1zM71 383h1v1h-1zM57 368h1v1h-1zM77 351h1v1h-1zM89 359h1v1h-1zM89 368h1v1h-1zM67 364h1v1h-1zM88 351h1v1h-1zM65 364h1v1h-1zM83 375h1v1h-1zM63 347h1v1h-1zM74 362h1v1h-1zM79 341h1v1h-1zM69 348h1v1h-1zM96 333h1v1h-1zM64 357h1v1h-1zM66 341h1v1h-1zM69 386h1v1h-1zM77 386h1v1h-1zM91 367h1v1h-1zM71 331h1v1h-1zM76 368h1v1h-1zM64 361h1v1h-1zM62 379h1v1h-1zM76 334h1v1h-1zM68 384h1v1h-1zM62 348h1v1h-1zM63 356h1v1h-1zM76 363h1v1h-1zM77 356h1v1h-1zM84 387h1v1h-1zM64 370h1v1h-1zM79 368h1v1h-1zM75 373h1v1h-1zM73 355h1v1h-1zM66 377h1v1h-1zM69 337h1v1h-1zM69 357h1v1h-1zM86 381h1v1h-1zM62 385h1v1h-1zM80 389h1v1h-1zM69 376h1v1h-1zM85 390h1v1h-1zM59 365h1v1h-1zM77 362h1v1h-1zM64 361h1v1h-1zM76 396h1v1h-1zM76 382h1v1h-1zM69 369h1v1h-1zM75 367h1v1h-1zM57 365h1v1h-1zM108 365h1v1h-1zM59 401h1v1h-1zM81 371h1v1h-1zM56 361h1v1h-1zM73 363h1v1h-1zM63 376h1v1h-1zM59 383h1v1h-1zM75 359h1v1h-1zM56 371h1v1h-1zM80 343h1v1h-1zM97 362h1v1h-1zM56 384h1v1h-1zM62 351h1v1h-1zM57 351h1v1h-1zM72 348h1v1h-1zM79 349h1v1h-1zM74 330h1v1h-1zM68 364h1v1h-1zM83 359h1v1h-1zM76 370h1v1h-1zM64 373h1v1h-1zM79 357h1v1h-1zM60 385h1v1h-1zM89 368h1v1h-1zM89 388h1v1h-1zM73 374h1v1h-1zM82 373h1v1h-1zM74 358h1v1h-1zM85 368h1v1h-1zM96 372h1v1h-1zM76 346h1v1h-1zM74 369h1v1h-1zM73 354h1v1h-1zM77 390h1v1h-1zM61 373h1v1h-1zM59 380h1v1h-1zM72 365h1v1h-1zM80 355h1v1h-1zM67 380h1v1h-1zM57 351h1v1h-1zM85 376h1v1h-1zM65 353h1v1h-1zM76 394h1v1h-1zM94 360h1v1h-1zM68 363h1v1h-1zM70 381h1v1h-1zM65 370h1v1h-1zM67 357h1v1h-1zM97 351h1v1h-1zM74 371h1v1h-1zM99 370h1v1h-1zM70 369h1v1h-1zM97 374h1v1h-1zM83 400h1v1h-1zM64 383h1v1h-1zM65 385h1v1h-1zM82 375h1v1h-1zM79 370h1v1h-1zM102 367h1v1h-1zM74 375h1v1h-1zM87 368h1v1h-1zM89 375h1v1h-1zM68 368h1v1h-1zM88 351h1v1h-1zM76 354h1v1h-1zM72 341h1v1h-1zM77 355h1v1h-1zM89 360h1v1h-1zM101 383h1v1h-1zM66 397h1v1h-1zM77 371h1v1h-1zM59 364h1v1h-1zM67 345h1v1h-1zM61 386h1v1h-1zM68 365h1v1h-1zM65 358h1v1h-1zM68 363h1v1h-1zM75 378h1v1h-1zM74 363h1v1h-1zM64 374h1v1h-1zM80 360h1v1h-1zM75 384h1v1h-1zM72 378h1v1h-1zM96 377h1v1h-1zM61 340h1v1h-1zM67 367h1v1h-1zM59 334h1v1h-1zM66 361h1v1h-1zM83 345h1v1h-1zM75 361h1v1h-1zM77 367h1v1h-1zM61 371h1v1h-1zM99 369h1v1h-1zM55 358h1v1h-1zM97 360h1v1h-1zM75 343h1v1h-1zM78 352h1v1h-1zM78 357h1v1h-1zM81 399h1v1h-1zM78 370h1v1h-1zM75 387h1v1h-1zM89 353h1v1h-1zM63 363h1v1h-1zM55 365h1v1h-1zM84 355h1v1h-1zM70 352h1v1h-1zM75 371h1v1h-1zM61 378h1v1h-1zM61 364h1v1h-1zM77 348h1v1h-1zM70 346h1v1h-1zM87 361h1v1h-1zM69 393h1v1h-1zM72 374h1v1h-1zM60 360h1v1h-1zM72 378h1v1h-1zM91 365h1v1h-1zM72 349h1v1h-1zM65 361h1v1h-1zM87 392h1v1h-1zM71 353h1v1h-1zM62 377h1v1h-1zM92 374h1v1h-1zM95 365h1v1h-1zM69 367h1v1h-1zM59 360h1v1h-1zM67 334h1v1h-1zM75 373h1v1h-1zM91 362h1v1h-1zM89 351h1v1h-1zM90 353h1v1h-1zM73 343h1v1h-1zM96 358h1v1h-1zM89 363h1v1h-1zM78 376h1v1h-1zM60 371h1v1h-1zM70 349h1v1h-1zM88 362h1v1h-1zM91 367h1v1h-1zM70 356h1v1h-1zM75 355h1v1h-1zM87 356h1v1h-1zM93 359h1v1h-1zM74 355h1v1h-1zM105 332h1v1h-1zM86 383h1v1h-1zM90 393h1v1h-1zM94 339h1v1h-1zM77 350h1v1h-1zM72 361h1v1h-1zM89 378h1v1h-1zM75 352h1v1h-1zM79 366h1v1h-1zM69 379h1v1h-1zM92 352h1v1h-1zM92 347h1v1h-1zM69 340h1v1h-1zM79 392h1v1h-1zM59 354h1v1h-1zM61 366h1v1h-1zM88 342h1v1h-1zM85 395h1v1h-1zM71 364h1v1h-1zM82 334h1v1h-1zM63 372h1v1h-1zM74 376h1v1h-1zM62 362h1v1h-1zM65 346h1v1h-1zM83 391h1v1h-1zM63 370h1v1h-1zM83 386h1v1h-1zM66 340h1v1h-1zM81 352h1v1h-1zM58 359h1v1h-1zM74 367h1v1h-1zM72 332h1v1h-1zM92 372h1v1h-1zM61 379h1v1h-1zM62 385h1v1h-1zM79 378h1v1h-1zM64 374h1v1h-1zM59 364h1v1h-1zM87 380h1v1h-1zM77 341h1v1h-1zM92 360h1v1h-1zM57 389h1v1h-1zM110 360h1v1h-1zM90 381h1v1h-1zM81 376h1v1h-1zM80 333h1v1h-1zM66 358h1v1h-1zM64 367h1v1h-1zM75 376h1v1h-1zM104 354h1v1h-1zM85 394h1v1h-1zM75 340h1v1h-1zM75 385h1v1h-1zM84 343h1v1h-1zM80 363h1v1h-1zM69 379h1v1h-1zM100 359h1v1h-1zM63 342h1v1h-1zM81 356h1v1h-1zM83 381h1v1h-1zM58 389h1v1h-1zM69 367h1v1h-1zM62 382h1v1h-1zM73 364h1v1h-1zM80 354h1v1h-1zM93 370h1v1h-1zM67 346h1v1h-1zM78 367h1v1h-1zM73 347h1v1h-1zM92 367h1v1h-1zM88 375h1v1h-1zM73 354h1v1h-1zM58 380h1v1h-1zM73 387h1v1h-1zM95 374h1v1h-1zM77 382h1v1h-1zM98 364h1v1h-1zM85 392h1v1h-1zM63 377h1v1h-1zM74 375h1v1h-1zM88 364h1v1h-1zM82 393h1v1h-1zM86 376h1v1h-1zM78 368h1v1h-1zM90 364h1v1h-1zM71 358h1v1h-1zM73 370h1v1h-1zM76 364h1v1h-1zM106 350h1v1h-1zM79 378h1v1h-1zM77 369h1v1h-1zM60 369h1v1h-1zM87 353h1v1h-1zM82 381h1v1h-1zM77 369h1v1h-1zM57 385h1v1h-1zM106 387h1v1h-1zM98 322h1v1h-1zM66 358h1v1h-1zM76 356h1v1h-1zM87 394h1v1h-1zM82 377h1v1h-1zM83 374h1v1h-1zM77 354h1v1h-1zM69 372h1v1h-1zM98 364h1v1h-1zM84 356h1v1h-1zM94 377h1v1h-1zM69 356h1v1h-1zM86 366h1v1h-1zM93 356h1v1h-1zM66 344h1v1h-1zM72 398h1v1h-1zM60 350h1v1h-1zM101 333h1v1h-1zM69 328h1v1h-1zM66 373h1v1h-1zM75 381h1v1h-1zM85 357h1v1h-1zM76 372h1v1h-1zM70 329h1v1h-1zM69 370h1v1h-1zM78 335h1v1h-1zM63 375h1v1h-1zM64 380h1v1h-1zM60 335h1v1h-1zM59 401h1v1h-1zM65 354h1v1h-1zM81 356h1v1h-1zM89 338h1v1h-1zM57 361h1v1h-1zM77 354h1v1h-1zM98 359h1v1h-1zM58 367h1v1h-1zM78 365h1v1h-1zM72 398h1v1h-1zM95 373h1v1h-1zM73 377h1v1h-1zM86 370h1v1h-1zM63 383h1v1h-1zM82 346h1v1h-1zM85 382h1v1h-1zM84 360h1v1h-1zM73 355h1v1h-1zM70 384h1v1h-1zM84 348h1v1h-1zM82 385h1v1h-1zM95 374h1v1h-1zM65 360h1v1h-1zM67 355h1v1h-1zM58 367h1v1h-1zM78 356h1v1h-1zM100 358h1v1h-1zM86 398h1v1h-1zM73 396h1v1h-1zM81 396h1v1h-1zM86 350h1v1h-1zM66 341h1v1h-1zM68 355h1v1h-1zM79 331h1v1h-1zM66 379h1v1h-1zM71 353h1v1h-1zM81 338h1v1h-1zM79 381h1v1h-1zM87 352h1v1h-1zM99 372h1v1h-1zM81 382h1v1h-1zM94 350h1v1h-1zM75 363h1v1h-1zM76 373h1v1h-1zM84 364h1v1h-1zM86 387h1v1h-1zM80 341h1v1h-1zM73 363h1v1h-1zM76 364h1v1h-1zM93 365h1v1h-1zM69 357h1v1h-1zM83 354h1v1h-1zM71 363h1v1h-1zM64 338h1v1h-1zM58 346h1v1h-1zM60 357h1v1h-1zM80 357h1v1h-1zM57 384h1v1h-1zM74 330h1v1h-1zM73 342h1v1h-1zM69 357h1v1h-1zM79 336h1v1h-1zM77 381h1v1h-1zM56 376h1v1h-1zM81 369h1v1h-1zM95 353h1v1h-1zM69 371h1v1h-1zM83 366h1v1h-1zM80 361h1v1h-1zM80 357h1v1h-1zM79 355h1v1h-1zM69 339h1v1h-1zM66 364h1v1h-1zM66 366h1v1h-1zM90 362h1v1h-1zM65 359h1v1h-1zM94 346h1v1h-1zM113 350h1v1h-1zM86 367h1v1h-1zM96 382h1v1h-1zM90 388h1v1h-1zM79 376h1v1h-1zM63 396h1v1h-1zM76 376h1v1h-1zM78 353h1v1h-1zM63 357h1v1h-1zM71 348h1v1h-1zM76 374h1v1h-1zM81 356h1v1h-1zM75 387h1v1h-1zM87 361h1v1h-1zM70 379h1v1h-1zM61 356h1v1h-1zM71 379h1v1h-1zM95 349h1v1h-1zM82 402h1v1h-1zM72 379h1v1h-1zM70 367h1v1h-1zM101 394h1v1h-1zM67 372h1v1h-1zM70 364h1v1h-1zM64 389h1v1h-1zM69 391h1v1h-1zM71 392h1v1h-1zM72 345h1v1h-1zM66 368h1v1h-1zM88 377h1v1h-1zM61 391h1v1h-1zM80 370h1v1h-1zM67 383h1v1h-1zM74 343h1v1h-1zM75 372h1v1h-1zM72 359h1v1h-1zM79 344h1v1h-1zM87 356h1v1h-1zM58 371h1v1h-1zM95 385h1v1h-1zM59 352h1v1h-1zM85 371h1v1h-1zM82 377h1v1h-1zM59 370h1v1h-1zM64 373h1v1h-1zM93 376h1v1h-1zM67 366h1v1h-1zM76 362h1v1h-1zM88 352h1v1h-1zM83 349h1v1h-1zM86 379h1v1h-1zM79 385h1v1h-1zM95 367h1v1h-1zM80 346h1v1h-1zM64 385h1v1h-1zM87 356h1v1h-1zM79 354h1v1h-1zM93 355h1v1h-1zM94 366h1v1h-1zM62 381h1v1h-1zM84 375h1v1h-1zM91 358h1v1h-1zM56 364h1v1h-1zM81 371h1v1h-1zM65 374h1v1h-1zM59 369h1v1h-1zM85 372h1v1h-1zM84 341h1v1h-1zM73 362h1v1h-1zM72 360h1v1h-1zM78 377h1v1h-1zM88 364h1v1h-1zM73 372h1v1h-1zM56 379h1v1h-1zM68 379h1v1h-1zM81 372h1v1h-1zM94 385h1v1h-1zM84 351h1v1h-1zM64 358h1v1h-1zM72 355h1v1h-1zM63 386h1v1h-1zM75 366h1v1h-1zM82 381h1v1h-1zM96 368h1v1h-1zM93 378h1v1h-1zM93 357h1v1h-1zM86 367h1v1h-1zM67 370h1v1h-1zM75 339h1v1h-1zM93 363h1v1h-1zM79 333h1v1h-1zM77 370h1v1h-1zM83 345h1v1h-1zM93 343h1v1h-1zM83 374h1v1h-1zM85 349h1v1h-1zM82 332h1v1h-1zM85 367h1v1h-1zM84 371h1v1h-1zM79 384h1v1h-1zM70 351h1v1h-1zM84 372h1v1h-1zM104 400h1v1h-1zM73 375h1v1h-1zM83 367h1v1h-1zM63 355h1v1h-1zM57 353h1v1h-1zM82 386h1v1h-1zM68 371h1v1h-1zM79 390h1v1h-1zM79 353h1v1h-1zM89 332h1v1h-1zM71 370h1v1h-1zM84 360h1v1h-1zM89 365h1v1h-1zM61 366h1v1h-1zM86 372h1v1h-1zM88 375h1v1h-1zM89 380h1v1h-1zM83 345h1v1h-1zM79 350h1v1h-1zM82 345h1v1h-1zM88 337h1v1h-1zM62 335h1v1h-1zM106 369h1v1h-1zM60 367h1v1h-1zM77 379h1v1h-1zM64 360h1v1h-1zM87 366h1v1h-1zM97 408h1v1h-1zM93 379h1v1h-1zM79 306h1v1h-1zM73 340h1v1h-1zM55 342h1v1h-1zM84 350h1v1h-1zM92 361h1v1h-1zM66 373h1v1h-1zM64 351h1v1h-1zM70 382h1v1h-1zM79 370h1v1h-1zM59 365h1v1h-1zM89 369h1v1h-1zM81 373h1v1h-1zM76 362h1v1h-1zM80 383h1v1h-1zM85 340h1v1h-1zM60 364h1v1h-1zM81 347h1v1h-1zM78 349h1v1h-1zM96 391h1v1h-1zM79 386h1v1h-1zM69 349h1v1h-1zM72 370h1v1h-1zM71 368h1v1h-1zM62 361h1v1h-1zM87 372h1v1h-1zM66 370h1v1h-1zM86 361h1v1h-1zM79 367h1v1h-1zM88 372h1v1h-1zM89 369h1v1h-1zM84 360h1v1h-1zM71 347h1v1h-1zM82 381h1v1h-1zM89 367h1v1h-1zM81 370h1v1h-1zM63 370h1v1h-1zM78 374h1v1h-1zM69 406h1v1h-1zM86 362h1v1h-1zM90 368h1v1h-1zM83 358h1v1h-1zM89 364h1v1h-1zM75 372h1v1h-1zM72 385h1v1h-1zM72 381h1v1h-1zM73 347h1v1h-1zM80 369h1v1h-1zM81 358h1v1h-1zM60 381h1v1h-1zM91 363h1v1h-1zM75 343h1v1h-1zM80 348h1v1h-1zM79 385h1v1h-1zM70 359h1v1h-1zM63 356h1v1h-1zM65 378h1v1h-1zM67 377h1v1h-1zM87 364h1v1h-1zM74 366h1v1h-1zM69 394h1v1h-1zM56 365h1v1h-1zM93 353h1v1h-1zM100 356h1v1h-1zM80 387h1v1h-1zM94 369h1v1h-1zM93 351h1v1h-1zM88 352h1v1h-1zM77 354h1v1h-1zM74 372h1v1h-1zM91 386h1v1h-1zM93 382h1v1h-1zM73 396h1v1h-1zM79 365h1v1h-1zM58 355h1v1h-1zM73 366h1v1h-1zM55 366h1v1h-1zM68 364h1v1h-1zM73 365h1v1h-1zM81 378h1v1h-1zM63 367h1v1h-1zM74 403h1v1h-1zM82 371h1v1h-1zM75 351h1v1h-1zM92 342h1v1h-1zM57 365h1v1h-1zM60 384h1v1h-1zM93 362h1v1h-1zM56 392h1v1h-1zM97 366h1v1h-1zM84 362h1v1h-1zM71 360h1v1h-1zM83 371h1v1h-1zM80 373h1v1h-1zM81 405h1v1h-1zM63 353h1v1h-1zM82 343h1v1h-1zM87 363h1v1h-1zM65 399h1v1h-1zM65 378h1v1h-1zM70 370h1v1h-1zM63 386h1v1h-1zM85 349h1v1h-1zM92 373h1v1h-1zM65 347h1v1h-1zM75 371h1v1h-1zM66 363h1v1h-1zM87 337h1v1h-1zM96 376h1v1h-1zM62 371h1v1h-1zM101 387h1v1h-1zM88 357h1v1h-1zM99 361h1v1h-1zM69 347h1v1h-1zM72 345h1v1h-1zM78 354h1v1h-1zM66 371h1v1h-1zM96 366h1v1h-1zM68 358h1v1h-1zM84 342h1v1h-1zM77 344h1v1h-1zM69 388h1v1h-1zM75 385h1v1h-1zM82 348h1v1h-1zM91 343h1v1h-1zM63 369h1v1h-1zM73 383h1v1h-1zM97 381h1v1h-1zM76 372h1v1h-1zM83 377h1v1h-1zM67 385h1v1h-1zM71 375h1v1h-1zM60 368h1v1h-1zM63 364h1v1h-1zM63 385h1v1h-1zM57 376h1v1h-1zM57 383h1v1h-1zM96 364h1v1h-1zM75 360h1v1h-1zM68 343h1v1h-1zM88 388h1v1h-1zM88 333h1v1h-1zM68 371h1v1h-1zM76 368h1v1h-1zM65 380h1v1h-1zM91 386h1v1h-1zM69 376h1v1h-1zM83 343h1v1h-1zM57 354h1v1h-1zM89 384h1v1h-1zM59 356h1v1h-1zM69 381h1v1h-1zM87 375h1v1h-1zM59 369h1v1h-1zM58 367h1v1h-1zM86 385h1v1h-1zM75 337h1v1h-1zM80 376h1v1h-1zM70 344h1v1h-1zM65 392h1v1h-1zM66 370h1v1h-1zM67 368h1v1h-1zM75 324h1v1h-1zM73 345h1v1h-1zM101 388h1v1h-1zM92 344h1v1h-1zM75 359h1v1h-1zM69 382h1v1h-1zM68 359h1v1h-1zM87 353h1v1h-1zM71 333h1v1h-1zM75 376h1v1h-1zM70 362h1v1h-1zM79 366h1v1h-1zM80 335h1v1h-1zM65 377h1v1h-1zM65 360h1v1h-1zM69 379h1v1h-1zM74 390h1v1h-1zM70 363h1v1h-1zM93 381h1v1h-1zM72 345h1v1h-1zM75 387h1v1h-1zM74 413h1v1h-1zM110 351h1v1h-1zM69 372h1v1h-1zM74 363h1v1h-1zM81 406h1v1h-1zM71 364h1v1h-1zM55 353h1v1h-1zM81 361h1v1h-1zM74 358h1v1h-1zM65 350h1v1h-1zM83 367h1v1h-1zM58 378h1v1h-1zM86 364h1v1h-1zM72 390h1v1h-1zM59 372h1v1h-1zM88 344h1v1h-1zM64 372h1v1h-1zM69 345h1v1h-1zM68 350h1v1h-1zM74 354h1v1h-1zM80 350h1v1h-1zM72 368h1v1h-1zM84 347h1v1h-1zM68 355h1v1h-1zM90 373h1v1h-1zM67 365h1v1h-1zM77 362h1v1h-1zM93 338h1v1h-1zM101 389h1v1h-1zM87 360h1v1h-1zM98 376h1v1h-1zM94 367h1v1h-1zM89 371h1v1h-1zM71 346h1v1h-1zM69 375h1v1h-1zM84 373h1v1h-1zM78 377h1v1h-1zM82 372h1v1h-1zM70 370h1v1h-1zM74 352h1v1h-1zM78 345h1v1h-1zM71 340h1v1h-1zM63 384h1v1h-1zM100 373h1v1h-1zM70 330h1v1h-1zM71 373h1v1h-1zM75 355h1v1h-1zM84 355h1v1h-1zM79 361h1v1h-1zM70 394h1v1h-1zM94 377h1v1h-1zM62 378h1v1h-1zM80 376h1v1h-1zM90 348h1v1h-1zM80 370h1v1h-1zM82 372h1v1h-1zM72 385h1v1h-1zM64 401h1v1h-1zM89 374h1v1h-1zM59 345h1v1h-1zM57 369h1v1h-1zM82 376h1v1h-1zM77 363h1v1h-1zM83 361h1v1h-1zM90 365h1v1h-1zM92 387h1v1h-1zM93 387h1v1h-1zM74 370h1v1h-1zM88 389h1v1h-1zM93 352h1v1h-1zM68 351h1v1h-1zM71 380h1v1h-1zM82 369h1v1h-1zM76 401h1v1h-1zM84 359h1v1h-1zM82 363h1v1h-1zM72 359h1v1h-1zM74 341h1v1h-1zM62 340h1v1h-1zM72 341h1v1h-1zM77 394h1v1h-1zM80 364h1v1h-1zM57 374h1v1h-1zM84 338h1v1h-1zM69 382h1v1h-1zM75 323h1v1h-1zM77 367h1v1h-1zM78 362h1v1h-1zM86 373h1v1h-1zM105 368h1v1h-1zM81 367h1v1h-1zM63 366h1v1h-1zM76 334h1v1h-1zM106 370h1v1h-1zM87 372h1v1h-1zM76 375h1v1h-1zM96 379h1v1h-1zM70 379h1v1h-1zM86 355h1v1h-1zM80 373h1v1h-1zM73 370h1v1h-1zM69 352h1v1h-1zM70 350h1v1h-1zM113 384h1v1h-1zM75 344h1v1h-1zM88 383h1v1h-1zM55 360h1v1h-1zM93 374h1v1h-1zM98 357h1v1h-1zM71 357h1v1h-1zM62 348h1v1h-1zM76 400h1v1h-1zM74 371h1v1h-1zM73 354h1v1h-1zM89 359h1v1h-1zM65 367h1v1h-1zM63 336h1v1h-1zM63 391h1v1h-1zM56 366h1v1h-1zM73 343h1v1h-1zM91 402h1v1h-1zM84 369h1v1h-1zM90 381h1v1h-1zM78 372h1v1h-1zM87 366h1v1h-1zM80 352h1v1h-1zM65 364h1v1h-1zM71 391h1v1h-1zM92 366h1v1h-1zM86 361h1v1h-1zM57 367h1v1h-1zM73 376h1v1h-1zM76 365h1v1h-1zM77 384h1v1h-1zM79 367h1v1h-1zM92 345h1v1h-1zM85 342h1v1h-1zM61 385h1v1h-1zM69 378h1v1h-1zM76 366h1v1h-1zM82 339h1v1h-1zM83 352h1v1h-1zM70 345h1v1h-1zM74 383h1v1h-1zM94 384h1v1h-1zM75 361h1v1h-1zM70 341h1v1h-1zM111 382h1v1h-1zM91 364h1v1h-1zM75 367h1v1h-1zM78 340h1v1h-1zM77 371h1v1h-1zM56 382h1v1h-1zM68 385h1v1h-1zM72 356h1v1h-1zM69 361h1v1h-1zM80 348h1v1h-1zM87 355h1v1h-1zM64 376h1v1h-1zM75 368h1v1h-1zM71 358h1v1h-1zM82 377h1v1h-1zM66 367h1v1h-1zM85 358h1v1h-1zM85 359h1v1h-1zM100 368h1v1h-1zM73 368h1v1h-1zM59 346h1v1h-1zM59 380h1v1h-1zM86 365h1v1h-1zM69 395h1v1h-1zM92 379h1v1h-1zM55 362h1v1h-1zM96 385h1v1h-1zM56 361h1v1h-1zM77 347h1v1h-1zM89 346h1v1h-1zM75 372h1v1h-1zM71 332h1v1h-1zM70 378h1v1h-1zM61 330h1v1h-1zM72 361h1v1h-1zM61 366h1v1h-1zM81 387h1v1h-1zM63 359h1v1h-1zM70 360h1v1h-1zM86 358h1v1h-1zM62 394h1v1h-1zM80 340h1v1h-1zM95 360h1v1h-1zM91 373h1v1h-1zM60 368h1v1h-1zM112 360h1v1h-1zM71 336h1v1h-1zM90 366h1v1h-1zM66 368h1v1h-1zM78 364h1v1h-1zM97 324h1v1h-1zM74 369h1v1h-1zM70 369h1v1h-1zM91 360h1v1h-1zM83 389h1v1h-1zM59 364h1v1h-1zM83 406h1v1h-1zM95 342h1v1h-1zM90 332h1v1h-1zM78 393h1v1h-1zM68 372h1v1h-1zM72 347h1v1h-1zM75 385h1v1h-1zM61 378h1v1h-1zM77 338h1v1h-1zM73 380h1v1h-1zM80 405h1v1h-1zM85 364h1v1h-1zM65 380h1v1h-1zM90 380h1v1h-1zM70 356h1v1h-1zM70 389h1v1h-1zM82 363h1v1h-1zM71 334h1v1h-1zM73 316h1v1h-1zM75 376h1v1h-1zM90 362h1v1h-1zM69 347h1v1h-1zM73 364h1v1h-1zM81 368h1v1h-1zM79 361h1v1h-1zM71 372h1v1h-1zM63 348h1v1h-1zM82 341h1v1h-1zM76 355h1v1h-1zM65 361h1v1h-1zM79 363h1v1h-1zM62 344h1v1h-1zM78 361h1v1h-1zM67 356h1v1h-1zM73 361h1v1h-1zM61 369h1v1h-1zM74 378h1v1h-1zM74 345h1v1h-1zM65 377h1v1h-1zM63 350h1v1h-1zM63 332h1v1h-1zM82 364h1v1h-1zM59 368h1v1h-1zM83 374h1v1h-1zM81 380h1v1h-1zM73 371h1v1h-1zM69 340h1v1h-1zM77 375h1v1h-1zM66 389h1v1h-1zM91 382h1v1h-1zM85 361h1v1h-1zM78 387h1v1h-1zM80 357h1v1h-1zM88 372h1v1h-1zM70 370h1v1h-1zM77 360h1v1h-1zM70 355h1v1h-1zM85 376h1v1h-1zM66 375h1v1h-1zM66 352h1v1h-1zM72 375h1v1h-1zM55 348h1v1h-1zM81 355h1v1h-1zM70 352h1v1h-1zM73 361h1v1h-1zM77 349h1v1h-1zM75 332h1v1h-1zM93 388h1v1h-1zM84 362h1v1h-1zM61 339h1v1h-1zM94 372h1v1h-1zM70 383h1v1h-1zM81 380h1v1h-1zM84 358h1v1h-1zM70 370h1v1h-1zM70 373h1v1h-1zM67 378h1v1h-1zM58 362h1v1h-1zM74 363h1v1h-1zM88 348h1v1h-1zM71 352h1v1h-1zM85 368h1v1h-1zM87 359h1v1h-1zM65 367h1v1h-1zM92 368h1v1h-1zM96 380h1v1h-1zM70 362h1v1h-1zM76 371h1v1h-1zM81 377h1v1h-1zM66 376h1v1h-1zM105 378h1v1h-1zM83 387h1v1h-1zM84 353h1v1h-1zM75 353h1v1h-1zM73 356h1v1h-1zM93 336h1v1h-1zM73 378h1v1h-1zM73 352h1v1h-1zM65 356h1v1h-1zM92 356h1v1h-1zM86 351h1v1h-1zM88 344h1v1h-1zM59 375h1v1h-1zM75 355h1v1h-1zM89 381h1v1h-1zM74 391h1v1h-1zM95 368h1v1h-1zM78 366h1v1h-1zM81 378h1v1h-1zM88 381h1v1h-1zM87 349h1v1h-1zM84 398h1v1h-1zM89 363h1v1h-1zM93 361h1v1h-1zM79 366h1v1h-1zM94 403h1v1h-1zM85 397h1v1h-1zM72 329h1v1h-1zM70 356h1v1h-1zM76 362h1v1h-1zM69 378h1v1h-1zM78 349h1v1h-1zM80 372h1v1h-1zM80 380h1v1h-1zM75 365h1v1h-1zM93 362h1v1h-1zM74 387h1v1h-1zM83 365h1v1h-1zM84 371h1v1h-1zM70 364h1v1h-1zM65 329h1v1h-1zM71 356h1v1h-1zM60 354h1v1h-1zM69 354h1v1h-1zM62 360h1v1h-1zM75 357h1v1h-1zM68 330h1v1h-1zM67 371h1v1h-1zM75 380h1v1h-1zM64 352h1v1h-1zM82 381h1v1h-1zM77 377h1v1h-1zM62 384h1v1h-1zM66 369h1v1h-1zM84 367h1v1h-1zM61 352h1v1h-1zM77 379h1v1h-1zM73 359h1v1h-1zM63 353h1v1h-1zM72 386h1v1h-1zM85 379h1v1h-1zM70 373h1v1h-1zM84 349h1v1h-1zM83 342h1v1h-1zM66 367h1v1h-1zM72 381h1v1h-1zM89 379h1v1h-1zM56 366h1v1h-1zM103 373h1v1h-1zM67 348h1v1h-1zM69 390h1v1h-1zM83 402h1v1h-1zM81 383h1v1h-1zM66 407h1v1h-1zM77 387h1v1h-1zM101 382h1v1h-1zM94 355h1v1h-1zM84 373h1v1h-1zM84 378h1v1h-1zM79 361h1v1h-1zM86 374h1v1h-1zM66 366h1v1h-1zM63 369h1v1h-1zM72 341h1v1h-1zM76 340h1v1h-1zM68 362h1v1h-1zM74 339h1v1h-1zM62 351h1v1h-1zM56 359h1v1h-1zM75 383h1v1h-1zM100 347h1v1h-1zM75 364h1v1h-1zM71 367h1v1h-1zM90 351h1v1h-1zM75 344h1v1h-1zM87 380h1v1h-1zM79 356h1v1h-1zM76 357h1v1h-1zM74 383h1v1h-1zM87 371h1v1h-1zM60 363h1v1h-1zM94 349h1v1h-1zM76 400h1v1h-1zM86 375h1v1h-1zM67 381h1v1h-1zM79 362h1v1h-1zM74 373h1v1h-1zM76 347h1v1h-1zM59 363h1v1h-1zM81 385h1v1h-1zM57 347h1v1h-1zM78 384h1v1h-1zM70 366h1v1h-1zM78 355h1v1h-1zM74 353h1v1h-1zM78 327h1v1h-1zM84 371h1v1h-1zM75 353h1v1h-1zM76 382h1v1h-1zM67 336h1v1h-1zM70 358h1v1h-1zM71 366h1v1h-1zM63 344h1v1h-1zM77 369h1v1h-1zM64 341h1v1h-1zM78 364h1v1h-1zM92 349h1v1h-1zM77 370h1v1h-1zM78 361h1v1h-1zM64 371h1v1h-1zM69 362h1v1h-1zM55 358h1v1h-1zM72 369h1v1h-1zM66 357h1v1h-1zM85 360h1v1h-1zM82 382h1v1h-1zM72 370h1v1h-1zM67 358h1v1h-1zM82 362h1v1h-1zM87 378h1v1h-1zM75 328h1v1h-1zM66 332h1v1h-1zM63 375h1v1h-1zM76 361h1v1h-1zM72 348h1v1h-1zM76 347h1v1h-1zM95 370h1v1h-1zM93 368h1v1h-1zM88 352h1v1h-1zM59 382h1v1h-1zM83 399h1v1h-1zM103 371h1v1h-1zM102 373h1v1h-1zM61 375h1v1h-1zM68 390h1v1h-1zM83 364h1v1h-1zM68 363h1v1h-1zM76 360h1v1h-1zM71 375h1v1h-1zM75 355h1v1h-1zM93 347h1v1h-1zM101 393h1v1h-1zM91 347h1v1h-1zM74 352h1v1h-1zM76 379h1v1h-1zM99 364h1v1h-1zM80 376h1v1h-1zM67 350h1v1h-1zM75 374h1v1h-1zM75 380h1v1h-1zM75 379h1v1h-1zM59 347h1v1h-1zM65 359h1v1h-1zM78 371h1v1h-1zM84 365h1v1h-1zM67 355h1v1h-1zM92 379h1v1h-1zM72 363h1v1h-1zM59 336h1v1h-1zM66 378h1v1h-1zM96 359h1v1h-1zM85 352h1v1h-1zM78 352h1v1h-1zM81 377h1v1h-1zM75 378h1v1h-1zM80 363h1v1h-1zM76 352h1v1h-1zM60 354h1v1h-1zM78 360h1v1h-1zM72 372h1v1h-1zM88 347h1v1h-1zM85 349h1v1h-1zM89 373h1v1h-1zM93 334h1v1h-1zM78 362h1v1h-1zM88 355h1v1h-1zM72 360h1v1h-1zM96 363h1v1h-1zM67 376h1v1h-1zM74 374h1v1h-1zM76 345h1v1h-1zM63 342h1v1h-1zM62 373h1v1h-1zM66 365h1v1h-1zM93 349h1v1h-1zM74 377h1v1h-1zM82 356h1v1h-1zM67 370h1v1h-1zM68 366h1v1h-1zM73 372h1v1h-1zM63 349h1v1h-1zM72 399h1v1h-1zM106 357h1v1h-1zM73 392h1v1h-1zM74 357h1v1h-1zM72 362h1v1h-1zM89 375h1v1h-1zM95 351h1v1h-1zM86 363h1v1h-1zM80 393h1v1h-1zM71 353h1v1h-1zM79 364h1v1h-1zM104 356h1v1h-1zM70 360h1v1h-1zM77 371h1v1h-1zM71 365h1v1h-1zM83 348h1v1h-1zM84 356h1v1h-1zM60 369h1v1h-1zM82 367h1v1h-1zM69 358h1v1h-1zM89 344h1v1h-1zM76 385h1v1h-1zM73 356h1v1h-1zM74 361h1v1h-1zM93 366h1v1h-1zM60 377h1v1h-1zM93 391h1v1h-1zM57 383h1v1h-1zM83 357h1v1h-1zM80 381h1v1h-1zM68 369h1v1h-1zM84 335h1v1h-1zM100 350h1v1h-1zM71 380h1v1h-1zM75 394h1v1h-1zM84 354h1v1h-1zM73 363h1v1h-1zM92 371h1v1h-1zM73 381h1v1h-1zM100 397h1v1h-1zM84 336h1v1h-1zM72 373h1v1h-1zM94 393h1v1h-1zM67 367h1v1h-1zM99 348h1v1h-1zM83 393h1v1h-1zM78 372h1v1h-1zM81 388h1v1h-1zM63 370h1v1h-1zM76 355h1v1h-1zM78 340h1v1h-1zM75 369h1v1h-1zM72 379h1v1h-1zM78 367h1v1h-1zM75 365h1v1h-1zM78 365h1v1h-1zM68 384h1v1h-1zM82 358h1v1h-1zM79 412h1v1h-1zM73 358h1v1h-1zM76 357h1v1h-1zM57 375h1v1h-1zM69 396h1v1h-1zM82 368h1v1h-1zM64 347h1v1h-1zM69 352h1v1h-1zM62 383h1v1h-1zM107 390h1v1h-1zM64 366h1v1h-1zM81 390h1v1h-1zM79 352h1v1h-1zM66 380h1v1h-1zM92 395h1v1h-1zM95 373h1v1h-1zM87 342h1v1h-1zM84 370h1v1h-1zM99 366h1v1h-1zM57 331h1v1h-1zM94 384h1v1h-1zM65 385h1v1h-1zM85 363h1v1h-1zM74 358h1v1h-1zM88 369h1v1h-1zM89 386h1v1h-1zM67 361h1v1h-1zM87 377h1v1h-1zM86 345h1v1h-1zM85 352h1v1h-1zM81 354h1v1h-1zM88 365h1v1h-1zM92 345h1v1h-1zM65 357h1v1h-1zM77 382h1v1h-1zM88 348h1v1h-1zM69 352h1v1h-1zM67 389h1v1h-1zM79 371h1v1h-1zM83 366h1v1h-1zM65 358h1v1h-1zM79 346h1v1h-1zM72 364h1v1h-1zM71 377h1v1h-1zM66 367h1v1h-1zM101 368h1v1h-1zM63 370h1v1h-1zM76 372h1v1h-1zM77 394h1v1h-1zM92 347h1v1h-1zM98 341h1v1h-1zM64 362h1v1h-1zM92 388h1v1h-1zM61 379h1v1h-1zM78 381h1v1h-1zM89 368h1v1h-1zM87 377h1v1h-1zM95 362h1v1h-1zM72 372h1v1h-1zM91 379h1v1h-1zM120 368h1v1h-1zM73 388h1v1h-1zM80 390h1v1h-1zM71 332h1v1h-1zM78 346h1v1h-1zM80 351h1v1h-1zM80 369h1v1h-1zM85 376h1v1h-1zM83 330h1v1h-1zM77 370h1v1h-1zM63 360h1v1h-1zM58 342h1v1h-1zM72 342h1v1h-1zM97 371h1v1h-1zM100 375h1v1h-1zM71 378h1v1h-1zM68 391h1v1h-1zM81 365h1v1h-1zM71 365h1v1h-1zM83 374h1v1h-1zM99 364h1v1h-1zM105 366h1v1h-1zM74 365h1v1h-1zM66 356h1v1h-1zM83 376h1v1h-1zM85 395h1v1h-1zM74 367h1v1h-1zM88 364h1v1h-1zM86 383h1v1h-1zM76 351h1v1h-1zM72 387h1v1h-1zM71 346h1v1h-1zM65 341h1v1h-1zM91 398h1v1h-1zM78 346h1v1h-1zM86 372h1v1h-1zM62 352h1v1h-1zM81 392h1v1h-1zM103 375h1v1h-1zM76 401h1v1h-1zM69 361h1v1h-1zM79 378h1v1h-1zM88 371h1v1h-1zM70 365h1v1h-1zM65 385h1v1h-1zM83 339h1v1h-1zM87 371h1v1h-1zM70 377h1v1h-1zM92 362h1v1h-1zM69 356h1v1h-1zM59 391h1v1h-1zM64 339h1v1h-1zM72 363h1v1h-1zM83 363h1v1h-1zM78 381h1v1h-1zM63 350h1v1h-1zM55 365h1v1h-1zM83 370h1v1h-1zM67 390h1v1h-1zM66 365h1v1h-1zM73 351h1v1h-1zM78 356h1v1h-1zM98 369h1v1h-1zM92 389h1v1h-1zM64 355h1v1h-1zM97 376h1v1h-1zM93 368h1v1h-1zM65 384h1v1h-1zM89 375h1v1h-1zM72 368h1v1h-1zM85 366h1v1h-1zM72 364h1v1h-1zM81 371h1v1h-1zM81 383h1v1h-1zM82 373h1v1h-1zM84 386h1v1h-1zM73 360h1v1h-1zM88 361h1v1h-1zM91 327h1v1h-1zM76 360h1v1h-1zM59 345h1v1h-1zM77 362h1v1h-1zM62 362h1v1h-1zM80 363h1v1h-1zM69 380h1v1h-1zM66 362h1v1h-1zM83 389h1v1h-1zM86 360h1v1h-1zM64 357h1v1h-1zM86 406h1v1h-1zM89 357h1v1h-1zM69 344h1v1h-1zM80 365h1v1h-1zM72 368h1v1h-1zM62 379h1v1h-1zM83 363h1v1h-1zM77 379h1v1h-1zM81 381h1v1h-1zM85 351h1v1h-1zM68 403h1v1h-1zM68 368h1v1h-1zM77 356h1v1h-1zM73 361h1v1h-1zM55 356h1v1h-1zM74 380h1v1h-1zM72 340h1v1h-1zM78 349h1v1h-1zM90 358h1v1h-1zM70 370h1v1h-1zM75 348h1v1h-1zM80 328h1v1h-1zM70 380h1v1h-1zM70 332h1v1h-1zM87 358h1v1h-1zM76 388h1v1h-1zM86 336h1v1h-1zM75 382h1v1h-1zM66 362h1v1h-1zM90 374h1v1h-1zM75 386h1v1h-1zM70 383h1v1h-1zM81 362h1v1h-1zM75 369h1v1h-1zM59 342h1v1h-1zM96 329h1v1h-1zM78 373h1v1h-1zM62 345h1v1h-1zM89 348h1v1h-1zM81 381h1v1h-1zM55 357h1v1h-1zM93 336h1v1h-1zM92 355h1v1h-1zM68 352h1v1h-1zM72 351h1v1h-1zM84 357h1v1h-1zM64 363h1v1h-1zM56 363h1v1h-1zM75 383h1v1h-1zM57 358h1v1h-1zM58 351h1v1h-1zM87 376h1v1h-1zM70 357h1v1h-1zM75 374h1v1h-1zM79 377h1v1h-1zM70 351h1v1h-1zM87 353h1v1h-1zM81 343h1v1h-1zM86 357h1v1h-1zM64 394h1v1h-1zM67 352h1v1h-1zM80 355h1v1h-1zM80 386h1v1h-1zM80 350h1v1h-1zM93 366h1v1h-1zM90 352h1v1h-1zM87 367h1v1h-1zM86 365h1v1h-1zM73 357h1v1h-1zM66 351h1v1h-1zM116 381h1v1h-1zM79 384h1v1h-1zM74 390h1v1h-1zM77 373h1v1h-1zM100 329h1v1h-1zM83 398h1v1h-1zM106 382h1v1h-1zM81 372h1v1h-1zM73 345h1v1h-1zM98 359h1v1h-1zM82 395h1v1h-1zM97 359h1v1h-1zM79 339h1v1h-1zM64 369h1v1h-1zM81 353h1v1h-1zM82 373h1v1h-1zM75 361h1v1h-1zM93 377h1v1h-1zM71 367h1v1h-1zM86 377h1v1h-1zM78 360h1v1h-1zM76 365h1v1h-1zM86 362h1v1h-1zM62 374h1v1h-1zM67 373h1v1h-1zM61 369h1v1h-1zM64 359h1v1h-1zM83 385h1v1h-1zM82 367h1v1h-1zM67 382h1v1h-1zM103 384h1v1h-1zM72 348h1v1h-1zM65 359h1v1h-1zM103 371h1v1h-1zM69 373h1v1h-1zM56 327h1v1h-1zM84 383h1v1h-1zM92 372h1v1h-1zM64 371h1v1h-1zM93 379h1v1h-1zM63 399h1v1h-1zM88 384h1v1h-1zM102 418h1v1h-1zM75 365h1v1h-1zM111 383h1v1h-1zM75 382h1v1h-1zM77 374h1v1h-1zM73 375h1v1h-1zM67 391h1v1h-1zM80 373h1v1h-1zM81 385h1v1h-1zM96 398h1v1h-1zM75 416h1v1h-1zM64 396h1v1h-1zM80 409h1v1h-1zM74 374h1v1h-1zM84 378h1v1h-1zM72 388h1v1h-1zM70 351h1v1h-1zM86 372h1v1h-1zM90 388h1v1h-1zM87 395h1v1h-1zM102 381h1v1h-1zM76 386h1v1h-1zM84 407h1v1h-1zM85 365h1v1h-1zM60 370h1v1h-1zM77 388h1v1h-1zM78 397h1v1h-1zM98 370h1v1h-1zM76 378h1v1h-1zM85 380h1v1h-1zM90 378h1v1h-1zM79 402h1v1h-1zM90 368h1v1h-1zM83 385h1v1h-1zM93 386h1v1h-1zM101 382h1v1h-1zM68 387h1v1h-1zM99 368h1v1h-1zM59 409h1v1h-1zM99 387h1v1h-1zM88 399h1v1h-1zM80 388h1v1h-1zM73 381h1v1h-1zM90 381h1v1h-1zM118 400h1v1h-1zM90 370h1v1h-1zM68 391h1v1h-1zM72 386h1v1h-1zM87 383h1v1h-1zM79 385h1v1h-1zM90 382h1v1h-1zM88 411h1v1h-1zM90 395h1v1h-1zM91 391h1v1h-1zM100 404h1v1h-1zM84 401h1v1h-1zM84 383h1v1h-1zM80 384h1v1h-1zM87 382h1v1h-1zM87 377h1v1h-1zM76 366h1v1h-1zM75 393h1v1h-1zM65 388h1v1h-1zM86 389h1v1h-1zM82 383h1v1h-1zM84 396h1v1h-1zM82 385h1v1h-1zM79 382h1v1h-1zM87 401h1v1h-1zM71 376h1v1h-1zM82 409h1v1h-1zM85 403h1v1h-1zM81 359h1v1h-1zM73 411h1v1h-1zM81 397h1v1h-1zM65 351h1v1h-1zM83 384h1v1h-1zM63 398h1v1h-1zM85 362h1v1h-1zM87 388h1v1h-1zM72 387h1v1h-1zM69 372h1v1h-1zM79 389h1v1h-1zM70 399h1v1h-1zM74 388h1v1h-1zM75 372h1v1h-1zM71 375h1v1h-1zM81 415h1v1h-1zM77 389h1v1h-1zM80 413h1v1h-1zM64 398h1v1h-1zM85 403h1v1h-1zM70 398h1v1h-1zM76 361h1v1h-1zM79 388h1v1h-1zM103 369h1v1h-1zM82 373h1v1h-1zM106 386h1v1h-1zM93 381h1v1h-1zM76 382h1v1h-1zM84 403h1v1h-1zM79 394h1v1h-1zM106 389h1v1h-1zM91 395h1v1h-1zM91 396h1v1h-1zM80 377h1v1h-1zM78 387h1v1h-1zM106 364h1v1h-1zM74 383h1v1h-1zM69 392h1v1h-1zM87 389h1v1h-1zM97 400h1v1h-1zM89 377h1v1h-1zM78 392h1v1h-1zM64 388h1v1h-1zM79 417h1v1h-1zM90 385h1v1h-1zM95 375h1v1h-1zM71 395h1v1h-1zM80 390h1v1h-1zM73 380h1v1h-1zM74 373h1v1h-1zM65 388h1v1h-1zM88 388h1v1h-1zM65 380h1v1h-1zM90 402h1v1h-1zM68 366h1v1h-1zM87 363h1v1h-1zM88 383h1v1h-1zM93 394h1v1h-1zM78 399h1v1h-1zM101 409h1v1h-1zM90 404h1v1h-1zM82 388h1v1h-1zM92 384h1v1h-1zM78 381h1v1h-1zM81 417h1v1h-1zM87 402h1v1h-1zM67 392h1v1h-1zM73 382h1v1h-1zM89 388h1v1h-1zM101 378h1v1h-1zM97 403h1v1h-1zM78 376h1v1h-1zM74 381h1v1h-1zM83 386h1v1h-1zM91 400h1v1h-1zM67 385h1v1h-1zM79 372h1v1h-1zM91 396h1v1h-1zM59 390h1v1h-1zM113 404h1v1h-1zM79 388h1v1h-1zM78 403h1v1h-1zM85 375h1v1h-1zM77 379h1v1h-1zM68 390h1v1h-1zM85 390h1v1h-1zM87 389h1v1h-1zM75 371h1v1h-1zM67 368h1v1h-1zM84 386h1v1h-1zM81 380h1v1h-1zM84 378h1v1h-1zM69 369h1v1h-1zM94 369h1v1h-1zM95 373h1v1h-1zM79 375h1v1h-1zM82 402h1v1h-1zM83 394h1v1h-1zM74 384h1v1h-1zM83 380h1v1h-1zM97 397h1v1h-1zM86 385h1v1h-1zM86 372h1v1h-1zM70 365h1v1h-1zM84 390h1v1h-1zM87 384h1v1h-1zM75 376h1v1h-1zM84 393h1v1h-1zM71 396h1v1h-1zM93 398h1v1h-1zM81 386h1v1h-1zM75 409h1v1h-1zM93 371h1v1h-1zM69 392h1v1h-1zM76 393h1v1h-1zM61 367h1v1h-1zM76 380h1v1h-1zM72 386h1v1h-1zM97 391h1v1h-1zM91 361h1v1h-1zM85 391h1v1h-1zM69 386h1v1h-1zM82 382h1v1h-1zM82 357h1v1h-1zM83 375h1v1h-1zM73 377h1v1h-1zM84 397h1v1h-1zM78 398h1v1h-1zM70 377h1v1h-1zM64 392h1v1h-1zM99 388h1v1h-1zM108 409h1v1h-1zM70 378h1v1h-1zM93 404h1v1h-1zM92 387h1v1h-1zM75 375h1v1h-1zM92 395h1v1h-1zM78 397h1v1h-1zM67 404h1v1h-1zM64 413h1v1h-1zM68 410h1v1h-1zM88 387h1v1h-1zM70 377h1v1h-1zM85 371h1v1h-1zM101 393h1v1h-1zM71 369h1v1h-1zM109 408h1v1h-1zM86 398h1v1h-1zM68 391h1v1h-1zM70 411h1v1h-1zM65 403h1v1h-1zM87 378h1v1h-1zM114 417h1v1h-1zM74 374h1v1h-1zM81 412h1v1h-1zM75 386h1v1h-1zM104 377h1v1h-1zM92 394h1v1h-1zM70 366h1v1h-1zM91 379h1v1h-1zM101 399h1v1h-1zM78 386h1v1h-1zM63 400h1v1h-1zM70 372h1v1h-1zM102 382h1v1h-1zM89 375h1v1h-1zM78 367h1v1h-1zM105 379h1v1h-1zM86 379h1v1h-1zM80 403h1v1h-1zM76 366h1v1h-1zM75 388h1v1h-1zM99 383h1v1h-1zM92 384h1v1h-1zM78 376h1v1h-1zM85 383h1v1h-1zM82 389h1v1h-1zM99 361h1v1h-1zM91 379h1v1h-1zM72 381h1v1h-1zM83 360h1v1h-1zM68 393h1v1h-1zM68 380h1v1h-1zM68 393h1v1h-1zM72 397h1v1h-1zM95 417h1v1h-1zM67 399h1v1h-1zM76 394h1v1h-1zM97 379h1v1h-1zM89 372h1v1h-1zM83 393h1v1h-1zM86 381h1v1h-1zM88 373h1v1h-1zM75 399h1v1h-1zM99 362h1v1h-1zM73 405h1v1h-1zM72 403h1v1h-1zM72 414h1v1h-1zM95 392h1v1h-1zM68 405h1v1h-1zM86 391h1v1h-1zM65 398h1v1h-1zM94 397h1v1h-1zM68 405h1v1h-1zM87 386h1v1h-1zM94 378h1v1h-1zM80 378h1v1h-1zM85 416h1v1h-1zM79 356h1v1h-1zM60 374h1v1h-1zM96 377h1v1h-1zM72 402h1v1h-1zM68 385h1v1h-1zM85 401h1v1h-1zM88 380h1v1h-1zM96 373h1v1h-1zM90 402h1v1h-1zM66 392h1v1h-1zM87 384h1v1h-1zM120 380h1v1h-1zM105 365h1v1h-1zM78 397h1v1h-1zM69 389h1v1h-1zM100 384h1v1h-1zM68 363h1v1h-1zM93 382h1v1h-1zM74 399h1v1h-1zM82 409h1v1h-1zM87 389h1v1h-1zM98 380h1v1h-1zM60 364h1v1h-1zM82 398h1v1h-1zM73 395h1v1h-1zM69 401h1v1h-1zM79 389h1v1h-1zM75 370h1v1h-1zM76 405h1v1h-1zM80 388h1v1h-1zM79 393h1v1h-1zM103 381h1v1h-1zM82 391h1v1h-1zM88 408h1v1h-1zM92 385h1v1h-1zM90 390h1v1h-1zM87 383h1v1h-1zM76 392h1v1h-1zM63 357h1v1h-1zM100 413h1v1h-1zM83 365h1v1h-1zM94 390h1v1h-1zM82 361h1v1h-1zM81 393h1v1h-1zM85 378h1v1h-1zM76 363h1v1h-1zM79 384h1v1h-1zM82 397h1v1h-1zM60 401h1v1h-1zM81 390h1v1h-1zM98 386h1v1h-1zM79 410h1v1h-1zM66 409h1v1h-1zM91 368h1v1h-1zM82 414h1v1h-1zM78 371h1v1h-1zM63 407h1v1h-1zM71 381h1v1h-1zM79 378h1v1h-1zM83 372h1v1h-1zM62 386h1v1h-1zM65 373h1v1h-1zM67 371h1v1h-1zM74 403h1v1h-1zM92 388h1v1h-1zM86 386h1v1h-1zM81 389h1v1h-1zM81 367h1v1h-1zM68 387h1v1h-1zM98 380h1v1h-1zM70 413h1v1h-1zM86 373h1v1h-1zM71 402h1v1h-1zM71 382h1v1h-1zM76 393h1v1h-1zM75 406h1v1h-1zM86 382h1v1h-1zM86 383h1v1h-1zM78 370h1v1h-1zM75 382h1v1h-1zM94 405h1v1h-1zM89 392h1v1h-1zM89 398h1v1h-1zM85 395h1v1h-1zM76 377h1v1h-1zM75 415h1v1h-1zM91 404h1v1h-1zM81 389h1v1h-1zM82 389h1v1h-1zM78 385h1v1h-1zM87 386h1v1h-1zM71 381h1v1h-1zM86 385h1v1h-1zM77 387h1v1h-1zM78 400h1v1h-1zM100 375h1v1h-1zM87 356h1v1h-1zM84 373h1v1h-1zM102 412h1v1h-1zM103 392h1v1h-1zM90 388h1v1h-1zM79 391h1v1h-1zM72 383h1v1h-1zM96 369h1v1h-1zM75 402h1v1h-1zM72 359h1v1h-1zM76 385h1v1h-1zM84 380h1v1h-1zM86 405h1v1h-1zM91 404h1v1h-1zM61 408h1v1h-1zM78 395h1v1h-1zM105 376h1v1h-1zM74 399h1v1h-1zM70 400h1v1h-1zM77 399h1v1h-1zM66 372h1v1h-1zM95 369h1v1h-1zM83 365h1v1h-1zM109 381h1v1h-1zM105 364h1v1h-1zM96 376h1v1h-1zM94 366h1v1h-1zM104 358h1v1h-1zM100 351h1v1h-1zM108 340h1v1h-1zM98 380h1v1h-1zM113 357h1v1h-1zM93 359h1v1h-1zM99 368h1v1h-1zM75 383h1v1h-1zM102 342h1v1h-1zM100 331h1v1h-1zM123 362h1v1h-1zM108 371h1v1h-1zM90 370h1v1h-1zM102 366h1v1h-1zM103 372h1v1h-1zM104 339h1v1h-1zM112 375h1v1h-1zM114 389h1v1h-1zM112 358h1v1h-1zM116 360h1v1h-1zM96 355h1v1h-1zM104 373h1v1h-1zM100 363h1v1h-1zM92 364h1v1h-1zM110 360h1v1h-1zM101 366h1v1h-1zM102 368h1v1h-1zM121 361h1v1h-1zM109 357h1v1h-1zM126 381h1v1h-1zM108 374h1v1h-1zM109 364h1v1h-1zM121 373h1v1h-1zM98 384h1v1h-1zM94 376h1v1h-1zM103 349h1v1h-1zM80 356h1v1h-1zM88 369h1v1h-1zM83 360h1v1h-1zM88 365h1v1h-1zM95 362h1v1h-1zM106 364h1v1h-1zM100 386h1v1h-1zM85 364h1v1h-1zM106 381h1v1h-1zM106 364h1v1h-1zM94 349h1v1h-1zM92 346h1v1h-1zM85 371h1v1h-1zM86 358h1v1h-1zM105 359h1v1h-1zM83 365h1v1h-1zM98 382h1v1h-1zM104 354h1v1h-1zM105 354h1v1h-1zM96 351h1v1h-1zM110 358h1v1h-1zM98 376h1v1h-1zM96 365h1v1h-1zM114 392h1v1h-1zM81 359h1v1h-1zM108 349h1v1h-1zM90 372h1v1h-1zM95 373h1v1h-1zM105 371h1v1h-1zM107 359h1v1h-1zM110 371h1v1h-1zM107 365h1v1h-1zM86 356h1v1h-1zM119 373h1v1h-1zM97 363h1v1h-1zM89 382h1v1h-1zM108 355h1v1h-1zM101 369h1v1h-1zM85 379h1v1h-1zM88 381h1v1h-1zM95 348h1v1h-1zM113 375h1v1h-1zM82 382h1v1h-1zM84 388h1v1h-1zM91 371h1v1h-1zM99 373h1v1h-1zM105 347h1v1h-1zM93 362h1v1h-1zM126 293h1v1h-1zM130 296h1v1h-1zM131 300h1v1h-1zM128 317h1v1h-1zM121 331h1v1h-1zM130 343h1v1h-1zM105 335h1v1h-1zM112 340h1v1h-1zM118 350h1v1h-1zM110 380h1v1h-1zM118 392h1v1h-1zM125 400h1v1h-1zM140 365h1v1h-1zM137 372h1v1h-1zM108 408h1v1h-1zM113 415h1v1h-1zM62 308h1v1h-1zM70 300h1v1h-1z" fill="#000" fill-opacity="0.76"/>
<rect x="54.8" y="255.4" width="164.9" height="165" fill="none" stroke="#7a7a7a" stroke-width="1.2"/>
<line x1="94.8" y1="255.4" x2="94.8" y2="420.4" stroke="#333" stroke-width="1.1" />
<line x1="54.8" y1="363" x2="219.7" y2="363" stroke="#333" stroke-width="1.1" />
<line x1="55" y1="420.4" x2="55" y2="424.4" stroke="#333" stroke-width="1" />
<line x1="50.8" y1="420.4" x2="54.8" y2="420.4" stroke="#333" stroke-width="1" />
<text x="55.5" y="433.4" font-family='"Liberation Sans", sans-serif' font-size="7" text-anchor="middle" fill="#222" stroke="#222" stroke-width="0.3">1</text>
<text x="48.8" y="422.9" font-family='"Liberation Sans", sans-serif' font-size="7" text-anchor="end" fill="#222" stroke="#222" stroke-width="0.3">1</text>
<line x1="67.4" y1="420.4" x2="67.4" y2="422.6" stroke="#444" stroke-width="0.9" />
<line x1="52.6" y1="408.12" x2="54.8" y2="408.12" stroke="#444" stroke-width="0.9" />
<line x1="74.66" y1="420.4" x2="74.66" y2="422.6" stroke="#444" stroke-width="0.9" />
<line x1="52.6" y1="400.93" x2="54.8" y2="400.93" stroke="#444" stroke-width="0.9" />
<line x1="79.8" y1="420.4" x2="79.8" y2="422.6" stroke="#444" stroke-width="0.9" />
<line x1="52.6" y1="395.84" x2="54.8" y2="395.84" stroke="#444" stroke-width="0.9" />
<line x1="83.8" y1="420.4" x2="83.8" y2="422.6" stroke="#444" stroke-width="0.9" />
<line x1="52.6" y1="391.88" x2="54.8" y2="391.88" stroke="#444" stroke-width="0.9" />
<line x1="87.06" y1="420.4" x2="87.06" y2="422.6" stroke="#444" stroke-width="0.9" />
<line x1="52.6" y1="388.65" x2="54.8" y2="388.65" stroke="#444" stroke-width="0.9" />
<line x1="89.82" y1="420.4" x2="89.82" y2="422.6" stroke="#444" stroke-width="0.9" />
<line x1="52.6" y1="385.92" x2="54.8" y2="385.92" stroke="#444" stroke-width="0.9" />
<line x1="92.21" y1="420.4" x2="92.21" y2="422.6" stroke="#444" stroke-width="0.9" />
<line x1="52.6" y1="383.55" x2="54.8" y2="383.55" stroke="#444" stroke-width="0.9" />
<line x1="94.31" y1="420.4" x2="94.31" y2="422.6" stroke="#444" stroke-width="0.9" />
<line x1="52.6" y1="381.47" x2="54.8" y2="381.47" stroke="#444" stroke-width="0.9" />
<line x1="96.2" y1="420.4" x2="96.2" y2="424.4" stroke="#333" stroke-width="1" />
<line x1="50.8" y1="379.6" x2="54.8" y2="379.6" stroke="#333" stroke-width="1" />
<text x="96.7" y="433.4" font-family='"Liberation Sans", sans-serif' font-size="7" text-anchor="middle" fill="#222" stroke="#222" stroke-width="0.3">10</text>
<text x="48.8" y="382.1" font-family='"Liberation Sans", sans-serif' font-size="7" text-anchor="end" fill="#222" stroke="#222" stroke-width="0.3">10</text>
<line x1="108.6" y1="420.4" x2="108.6" y2="422.6" stroke="#444" stroke-width="0.9" />
<line x1="52.6" y1="367.32" x2="54.8" y2="367.32" stroke="#444" stroke-width="0.9" />
<line x1="115.86" y1="420.4" x2="115.86" y2="422.6" stroke="#444" stroke-width="0.9" />
<line x1="52.6" y1="360.13" x2="54.8" y2="360.13" stroke="#444" stroke-width="0.9" />
<line x1="121" y1="420.4" x2="121" y2="422.6" stroke="#444" stroke-width="0.9" />
<line x1="52.6" y1="355.04" x2="54.8" y2="355.04" stroke="#444" stroke-width="0.9" />
<line x1="125" y1="420.4" x2="125" y2="422.6" stroke="#444" stroke-width="0.9" />
<line x1="52.6" y1="351.08" x2="54.8" y2="351.08" stroke="#444" stroke-width="0.9" />
<line x1="128.26" y1="420.4" x2="128.26" y2="422.6" stroke="#444" stroke-width="0.9" />
<line x1="52.6" y1="347.85" x2="54.8" y2="347.85" stroke="#444" stroke-width="0.9" />
<line x1="131.02" y1="420.4" x2="131.02" y2="422.6" stroke="#444" stroke-width="0.9" />
<line x1="52.6" y1="345.12" x2="54.8" y2="345.12" stroke="#444" stroke-width="0.9" />
<line x1="133.41" y1="420.4" x2="133.41" y2="422.6" stroke="#444" stroke-width="0.9" />
<line x1="52.6" y1="342.75" x2="54.8" y2="342.75" stroke="#444" stroke-width="0.9" />
<line x1="135.51" y1="420.4" x2="135.51" y2="422.6" stroke="#444" stroke-width="0.9" />
<line x1="52.6" y1="340.67" x2="54.8" y2="340.67" stroke="#444" stroke-width="0.9" />
<line x1="137.4" y1="420.4" x2="137.4" y2="424.4" stroke="#333" stroke-width="1" />
<line x1="50.8" y1="338.8" x2="54.8" y2="338.8" stroke="#333" stroke-width="1" />
<text x="137.9" y="433.4" font-family='"Liberation Sans", sans-serif' font-size="7" text-anchor="middle" fill="#222" stroke="#222" stroke-width="0.3">100</text>
<text x="48.8" y="341.3" font-family='"Liberation Sans", sans-serif' font-size="7" text-anchor="end" fill="#222" stroke="#222" stroke-width="0.3">100</text>
<line x1="149.8" y1="420.4" x2="149.8" y2="422.6" stroke="#444" stroke-width="0.9" />
<line x1="52.6" y1="326.52" x2="54.8" y2="326.52" stroke="#444" stroke-width="0.9" />
<line x1="157.06" y1="420.4" x2="157.06" y2="422.6" stroke="#444" stroke-width="0.9" />
<line x1="52.6" y1="319.33" x2="54.8" y2="319.33" stroke="#444" stroke-width="0.9" />
<line x1="162.2" y1="420.4" x2="162.2" y2="422.6" stroke="#444" stroke-width="0.9" />
<line x1="52.6" y1="314.24" x2="54.8" y2="314.24" stroke="#444" stroke-width="0.9" />
<line x1="166.2" y1="420.4" x2="166.2" y2="422.6" stroke="#444" stroke-width="0.9" />
<line x1="52.6" y1="310.28" x2="54.8" y2="310.28" stroke="#444" stroke-width="0.9" />
<line x1="169.46" y1="420.4" x2="169.46" y2="422.6" stroke="#444" stroke-width="0.9" />
<line x1="52.6" y1="307.05" x2="54.8" y2="307.05" stroke="#444" stroke-width="0.9" />
<line x1="172.22" y1="420.4" x2="172.22" y2="422.6" stroke="#444" stroke-width="0.9" />
<line x1="52.6" y1="304.32" x2="54.8" y2="304.32" stroke="#444" stroke-width="0.9" />
<line x1="174.61" y1="420.4" x2="174.61" y2="422.6" stroke="#444" stroke-width="0.9" />
<line x1="52.6" y1="301.95" x2="54.8" y2="301.95" stroke="#444" stroke-width="0.9" />
<line x1="176.71" y1="420.4" x2="176.71" y2="422.6" stroke="#444" stroke-width="0.9" />
<line x1="52.6" y1="299.87" x2="54.8" y2="299.87" stroke="#444" stroke-width="0.9" />
<line x1="178.6" y1="420.4" x2="178.6" y2="424.4" stroke="#333" stroke-width="1" />
<line x1="50.8" y1="298" x2="54.8" y2="298" stroke="#333" stroke-width="1" />
<text x="179.1" y="433.4" font-family='"Liberation Sans", sans-serif' font-size="7" text-anchor="middle" fill="#222" stroke="#222" stroke-width="0.3">1000</text>
<text x="48.8" y="300.5" font-family='"Liberation Sans", sans-serif' font-size="7" text-anchor="end" fill="#222" stroke="#222" stroke-width="0.3">1000</text>
<line x1="191" y1="420.4" x2="191" y2="422.6" stroke="#444" stroke-width="0.9" />
<line x1="52.6" y1="285.72" x2="54.8" y2="285.72" stroke="#444" stroke-width="0.9" />
<line x1="198.26" y1="420.4" x2="198.26" y2="422.6" stroke="#444" stroke-width="0.9" />
<line x1="52.6" y1="278.53" x2="54.8" y2="278.53" stroke="#444" stroke-width="0.9" />
<line x1="203.4" y1="420.4" x2="203.4" y2="422.6" stroke="#444" stroke-width="0.9" />
<line x1="52.6" y1="273.44" x2="54.8" y2="273.44" stroke="#444" stroke-width="0.9" />
<line x1="207.4" y1="420.4" x2="207.4" y2="422.6" stroke="#444" stroke-width="0.9" />
<line x1="52.6" y1="269.48" x2="54.8" y2="269.48" stroke="#444" stroke-width="0.9" />
<line x1="210.66" y1="420.4" x2="210.66" y2="422.6" stroke="#444" stroke-width="0.9" />
<line x1="52.6" y1="266.25" x2="54.8" y2="266.25" stroke="#444" stroke-width="0.9" />
<line x1="213.42" y1="420.4" x2="213.42" y2="422.6" stroke="#444" stroke-width="0.9" />
<line x1="52.6" y1="263.52" x2="54.8" y2="263.52" stroke="#444" stroke-width="0.9" />
<line x1="215.81" y1="420.4" x2="215.81" y2="422.6" stroke="#444" stroke-width="0.9" />
<line x1="52.6" y1="261.15" x2="54.8" y2="261.15" stroke="#444" stroke-width="0.9" />
<line x1="217.91" y1="420.4" x2="217.91" y2="422.6" stroke="#444" stroke-width="0.9" />
<line x1="52.6" y1="259.07" x2="54.8" y2="259.07" stroke="#444" stroke-width="0.9" />
<line x1="219.8" y1="420.4" x2="219.8" y2="424.4" stroke="#333" stroke-width="1" />
<line x1="50.8" y1="257.2" x2="54.8" y2="257.2" stroke="#333" stroke-width="1" />
<text x="220.3" y="433.4" font-family='"Liberation Sans", sans-serif' font-size="7" text-anchor="middle" fill="#222" stroke="#222" stroke-width="0.3">10000</text>
<text x="48.8" y="259.7" font-family='"Liberation Sans", sans-serif' font-size="7" text-anchor="end" fill="#222" stroke="#222" stroke-width="0.3">10000</text>
<text x="55.6" y="249.8" font-family='"Liberation Sans", sans-serif' font-size="20" font-weight="bold" fill="#000" >R2 gated</text>
<rect x="55.6" y="256.2" width="16" height="12.5" fill="#fff"/>
<rect x="55.6" y="407.6" width="16" height="12.1" fill="#fff"/>
<text x="58.2" y="267.9" font-family='"Liberation Serif", serif' font-size="13.5" fill="#111" >41</text>
<text x="206.5" y="268" font-family='"Liberation Serif", serif' font-size="13.5" fill="#111" >4</text>
<text x="58.8" y="418.2" font-family='"Liberation Serif", serif' font-size="13.5" fill="#111" >52</text>
<text x="206.4" y="416.1" font-family='"Liberation Serif", serif' font-size="13.5" fill="#111" >3</text>
<path d="M293 368h1v1h-1zM283 365h1v1h-1zM290 352h1v1h-1zM311 356h1v1h-1zM292 363h1v1h-1zM304 354h1v1h-1zM298 344h1v1h-1zM289 350h1v1h-1zM279 338h1v1h-1zM276 352h1v1h-1zM291 351h1v1h-1zM293 340h1v1h-1zM292 357h1v1h-1zM300 345h1v1h-1zM289 332h1v1h-1zM287 330h1v1h-1zM278 367h1v1h-1zM270 363h1v1h-1zM296 351h1v1h-1zM297 360h1v1h-1zM303 352h1v1h-1zM287 348h1v1h-1zM283 354h1v1h-1zM285 366h1v1h-1zM274 342h1v1h-1zM283 331h1v1h-1zM312 328h1v1h-1zM290 349h1v1h-1zM309 333h1v1h-1zM303 346h1v1h-1zM291 347h1v1h-1zM299 342h1v1h-1zM292 358h1v1h-1zM311 328h1v1h-1zM308 365h1v1h-1zM288 358h1v1h-1zM288 373h1v1h-1zM295 352h1v1h-1zM290 352h1v1h-1zM291 345h1v1h-1zM313 333h1v1h-1zM291 359h1v1h-1zM290 353h1v1h-1zM296 365h1v1h-1zM288 350h1v1h-1zM312 360h1v1h-1zM283 380h1v1h-1zM300 348h1v1h-1zM281 358h1v1h-1zM284 343h1v1h-1zM280 349h1v1h-1zM304 350h1v1h-1zM278 362h1v1h-1zM293 364h1v1h-1zM305 353h1v1h-1zM291 354h1v1h-1zM281 362h1v1h-1zM306 356h1v1h-1zM290 352h1v1h-1zM285 346h1v1h-1zM288 345h1v1h-1zM288 337h1v1h-1zM296 355h1v1h-1zM281 329h1v1h-1zM292 367h1v1h-1zM285 349h1v1h-1zM287 362h1v1h-1zM283 365h1v1h-1zM289 365h1v1h-1zM293 352h1v1h-1zM278 347h1v1h-1zM290 362h1v1h-1zM295 347h1v1h-1zM297 365h1v1h-1zM291 350h1v1h-1zM289 363h1v1h-1zM298 344h1v1h-1zM296 349h1v1h-1zM285 368h1v1h-1zM301 347h1v1h-1zM293 360h1v1h-1zM286 353h1v1h-1zM299 335h1v1h-1zM296 363h1v1h-1zM298 340h1v1h-1zM296 345h1v1h-1zM298 361h1v1h-1zM295 346h1v1h-1zM287 364h1v1h-1zM284 360h1v1h-1zM298 351h1v1h-1zM316 355h1v1h-1zM314 332h1v1h-1zM270 365h1v1h-1zM299 351h1v1h-1zM292 334h1v1h-1zM286 343h1v1h-1zM290 364h1v1h-1zM293 359h1v1h-1zM286 350h1v1h-1zM294 351h1v1h-1zM305 345h1v1h-1zM311 344h1v1h-1zM303 346h1v1h-1zM309 356h1v1h-1zM296 363h1v1h-1zM286 343h1v1h-1zM272 368h1v1h-1zM286 348h1v1h-1zM292 376h1v1h-1zM275 357h1v1h-1zM289 360h1v1h-1zM275 350h1v1h-1zM301 372h1v1h-1zM308 345h1v1h-1zM293 353h1v1h-1zM279 339h1v1h-1zM300 357h1v1h-1zM291 368h1v1h-1zM282 360h1v1h-1zM293 354h1v1h-1zM297 356h1v1h-1zM295 357h1v1h-1zM312 351h1v1h-1zM303 361h1v1h-1zM289 363h1v1h-1zM284 367h1v1h-1zM284 349h1v1h-1zM296 364h1v1h-1zM302 364h1v1h-1zM290 344h1v1h-1zM298 358h1v1h-1zM283 365h1v1h-1zM294 344h1v1h-1zM297 340h1v1h-1zM284 359h1v1h-1zM277 355h1v1h-1zM279 363h1v1h-1zM285 357h1v1h-1zM277 351h1v1h-1zM302 360h1v1h-1zM274 365h1v1h-1zM301 350h1v1h-1zM307 343h1v1h-1zM292 367h1v1h-1zM306 369h1v1h-1zM282 335h1v1h-1zM296 339h1v1h-1zM291 340h1v1h-1zM303 363h1v1h-1zM298 355h1v1h-1zM293 351h1v1h-1zM296 357h1v1h-1zM297 350h1v1h-1zM311 358h1v1h-1zM306 369h1v1h-1zM284 336h1v1h-1zM305 350h1v1h-1zM293 352h1v1h-1zM294 341h1v1h-1zM291 349h1v1h-1zM292 329h1v1h-1zM301 358h1v1h-1zM275 346h1v1h-1zM293 361h1v1h-1zM293 370h1v1h-1zM293 343h1v1h-1zM286 363h1v1h-1zM286 364h1v1h-1zM303 361h1v1h-1zM303 353h1v1h-1zM292 348h1v1h-1zM286 337h1v1h-1zM287 343h1v1h-1zM278 356h1v1h-1zM297 351h1v1h-1zM306 365h1v1h-1zM303 348h1v1h-1zM278 361h1v1h-1zM296 362h1v1h-1zM297 368h1v1h-1zM290 362h1v1h-1zM284 329h1v1h-1zM288 371h1v1h-1zM276 366h1v1h-1zM286 350h1v1h-1zM293 357h1v1h-1zM283 356h1v1h-1zM297 364h1v1h-1zM285 372h1v1h-1zM312 381h1v1h-1zM279 356h1v1h-1zM274 359h1v1h-1zM298 342h1v1h-1zM277 357h1v1h-1zM299 346h1v1h-1zM290 327h1v1h-1zM285 356h1v1h-1zM294 372h1v1h-1zM281 330h1v1h-1zM297 348h1v1h-1zM295 362h1v1h-1zM299 370h1v1h-1zM306 336h1v1h-1zM292 377h1v1h-1zM288 365h1v1h-1zM292 350h1v1h-1zM308 366h1v1h-1zM290 364h1v1h-1zM279 347h1v1h-1zM302 355h1v1h-1zM282 359h1v1h-1zM296 369h1v1h-1zM302 351h1v1h-1zM288 353h1v1h-1zM290 371h1v1h-1zM308 369h1v1h-1zM296 352h1v1h-1zM302 351h1v1h-1zM295 336h1v1h-1zM288 370h1v1h-1zM282 338h1v1h-1zM291 373h1v1h-1zM307 351h1v1h-1zM288 353h1v1h-1zM283 355h1v1h-1zM289 338h1v1h-1zM287 352h1v1h-1zM284 342h1v1h-1zM302 375h1v1h-1zM290 350h1v1h-1zM298 352h1v1h-1zM285 370h1v1h-1zM282 346h1v1h-1zM286 345h1v1h-1zM290 361h1v1h-1zM307 362h1v1h-1zM293 341h1v1h-1zM292 344h1v1h-1zM292 365h1v1h-1zM295 352h1v1h-1zM285 354h1v1h-1zM294 344h1v1h-1zM287 364h1v1h-1zM276 350h1v1h-1zM281 372h1v1h-1zM299 360h1v1h-1zM296 358h1v1h-1zM295 337h1v1h-1zM295 361h1v1h-1zM278 364h1v1h-1zM299 338h1v1h-1zM288 351h1v1h-1zM287 359h1v1h-1zM280 352h1v1h-1zM295 362h1v1h-1zM293 352h1v1h-1zM299 333h1v1h-1zM302 351h1v1h-1zM280 350h1v1h-1zM274 332h1v1h-1zM289 346h1v1h-1zM300 345h1v1h-1zM280 344h1v1h-1zM310 355h1v1h-1zM286 344h1v1h-1zM282 353h1v1h-1zM297 367h1v1h-1zM304 357h1v1h-1zM286 345h1v1h-1zM269 343h1v1h-1zM297 351h1v1h-1zM296 340h1v1h-1zM301 358h1v1h-1zM293 359h1v1h-1zM270 348h1v1h-1zM284 374h1v1h-1zM291 349h1v1h-1zM301 343h1v1h-1zM307 347h1v1h-1zM292 344h1v1h-1zM301 331h1v1h-1zM299 345h1v1h-1zM293 342h1v1h-1zM295 357h1v1h-1zM298 358h1v1h-1zM299 365h1v1h-1zM289 342h1v1h-1zM280 362h1v1h-1zM289 366h1v1h-1zM293 343h1v1h-1zM302 376h1v1h-1zM291 344h1v1h-1zM284 364h1v1h-1zM287 350h1v1h-1zM299 355h1v1h-1zM294 349h1v1h-1zM286 356h1v1h-1zM294 361h1v1h-1zM288 358h1v1h-1zM297 355h1v1h-1zM298 366h1v1h-1zM294 355h1v1h-1zM283 358h1v1h-1zM292 351h1v1h-1zM284 361h1v1h-1zM318 359h1v1h-1zM293 359h1v1h-1zM287 356h1v1h-1zM286 347h1v1h-1zM295 357h1v1h-1zM291 346h1v1h-1zM295 343h1v1h-1zM300 351h1v1h-1zM293 363h1v1h-1zM298 340h1v1h-1zM290 359h1v1h-1zM282 328h1v1h-1zM292 354h1v1h-1zM297 355h1v1h-1zM294 357h1v1h-1zM306 360h1v1h-1zM298 350h1v1h-1zM304 352h1v1h-1zM300 331h1v1h-1zM295 353h1v1h-1zM288 369h1v1h-1zM297 353h1v1h-1zM287 375h1v1h-1zM300 362h1v1h-1zM285 369h1v1h-1zM298 352h1v1h-1zM291 337h1v1h-1zM299 343h1v1h-1zM301 350h1v1h-1zM286 359h1v1h-1zM295 342h1v1h-1zM292 361h1v1h-1zM290 340h1v1h-1zM290 344h1v1h-1zM287 355h1v1h-1zM292 352h1v1h-1zM276 358h1v1h-1zM291 350h1v1h-1zM294 376h1v1h-1zM280 337h1v1h-1zM300 346h1v1h-1zM305 344h1v1h-1zM288 364h1v1h-1zM302 359h1v1h-1zM297 353h1v1h-1zM288 352h1v1h-1zM305 362h1v1h-1zM293 358h1v1h-1zM301 367h1v1h-1zM291 354h1v1h-1zM296 383h1v1h-1zM295 368h1v1h-1zM277 364h1v1h-1zM279 343h1v1h-1zM286 353h1v1h-1zM294 359h1v1h-1zM295 350h1v1h-1zM318 359h1v1h-1zM299 377h1v1h-1zM302 361h1v1h-1zM296 375h1v1h-1zM282 344h1v1h-1zM294 332h1v1h-1zM285 367h1v1h-1zM288 356h1v1h-1zM299 342h1v1h-1zM295 348h1v1h-1zM282 352h1v1h-1zM292 350h1v1h-1zM286 365h1v1h-1zM304 361h1v1h-1zM292 343h1v1h-1zM284 342h1v1h-1zM295 364h1v1h-1zM302 354h1v1h-1zM289 356h1v1h-1zM294 361h1v1h-1zM307 347h1v1h-1zM313 332h1v1h-1zM275 338h1v1h-1zM282 352h1v1h-1zM313 347h1v1h-1zM303 351h1v1h-1zM294 343h1v1h-1zM315 354h1v1h-1zM286 379h1v1h-1zM294 359h1v1h-1zM291 345h1v1h-1zM278 353h1v1h-1zM309 359h1v1h-1zM291 366h1v1h-1zM283 369h1v1h-1zM292 345h1v1h-1zM299 360h1v1h-1zM289 357h1v1h-1zM302 370h1v1h-1zM284 326h1v1h-1zM313 352h1v1h-1zM288 359h1v1h-1zM288 366h1v1h-1zM280 352h1v1h-1zM280 371h1v1h-1zM290 366h1v1h-1zM306 341h1v1h-1zM290 362h1v1h-1zM293 353h1v1h-1zM301 364h1v1h-1zM287 353h1v1h-1zM299 357h1v1h-1zM294 342h1v1h-1zM310 352h1v1h-1zM295 354h1v1h-1zM293 356h1v1h-1zM284 359h1v1h-1zM304 359h1v1h-1zM300 360h1v1h-1zM293 374h1v1h-1zM286 359h1v1h-1zM303 358h1v1h-1zM282 343h1v1h-1zM308 344h1v1h-1zM293 360h1v1h-1zM293 335h1v1h-1zM274 353h1v1h-1zM285 352h1v1h-1zM293 356h1v1h-1zM279 336h1v1h-1zM302 348h1v1h-1zM281 333h1v1h-1zM298 341h1v1h-1zM282 361h1v1h-1zM296 361h1v1h-1zM280 323h1v1h-1zM283 351h1v1h-1zM286 364h1v1h-1zM296 343h1v1h-1zM298 353h1v1h-1zM288 367h1v1h-1zM276 366h1v1h-1zM303 332h1v1h-1zM291 353h1v1h-1zM281 348h1v1h-1zM284 355h1v1h-1zM287 331h1v1h-1zM304 364h1v1h-1zM284 364h1v1h-1zM313 337h1v1h-1zM288 349h1v1h-1zM298 351h1v1h-1zM279 368h1v1h-1zM289 362h1v1h-1zM315 346h1v1h-1zM288 365h1v1h-1zM291 360h1v1h-1zM292 385h1v1h-1zM299 358h1v1h-1zM294 359h1v1h-1zM276 352h1v1h-1zM300 341h1v1h-1zM293 353h1v1h-1zM287 382h1v1h-1zM300 358h1v1h-1zM285 355h1v1h-1zM290 354h1v1h-1zM295 382h1v1h-1zM306 373h1v1h-1zM306 386h1v1h-1zM286 340h1v1h-1zM295 357h1v1h-1zM293 348h1v1h-1zM299 374h1v1h-1zM295 352h1v1h-1zM304 351h1v1h-1zM289 358h1v1h-1zM270 375h1v1h-1zM291 360h1v1h-1zM296 359h1v1h-1zM279 374h1v1h-1zM298 358h1v1h-1zM324 341h1v1h-1zM300 353h1v1h-1zM278 376h1v1h-1zM277 356h1v1h-1zM292 357h1v1h-1zM283 370h1v1h-1zM295 341h1v1h-1zM280 358h1v1h-1zM281 359h1v1h-1zM296 348h1v1h-1zM273 340h1v1h-1zM296 349h1v1h-1zM311 350h1v1h-1zM296 362h1v1h-1zM293 358h1v1h-1zM303 353h1v1h-1zM296 351h1v1h-1zM313 356h1v1h-1zM301 322h1v1h-1zM288 342h1v1h-1zM293 350h1v1h-1zM282 352h1v1h-1zM301 366h1v1h-1zM287 366h1v1h-1zM286 361h1v1h-1zM284 366h1v1h-1zM316 351h1v1h-1zM305 339h1v1h-1zM286 384h1v1h-1zM292 360h1v1h-1zM276 354h1v1h-1zM285 368h1v1h-1zM287 383h1v1h-1zM282 358h1v1h-1zM273 350h1v1h-1zM305 353h1v1h-1zM280 360h1v1h-1zM302 359h1v1h-1zM302 339h1v1h-1zM311 362h1v1h-1zM271 375h1v1h-1zM288 360h1v1h-1zM273 348h1v1h-1zM274 364h1v1h-1zM290 344h1v1h-1zM289 367h1v1h-1zM285 361h1v1h-1zM281 336h1v1h-1zM288 351h1v1h-1zM294 365h1v1h-1zM288 351h1v1h-1zM300 359h1v1h-1zM292 357h1v1h-1zM271 349h1v1h-1zM277 351h1v1h-1zM302 336h1v1h-1zM302 348h1v1h-1zM290 349h1v1h-1zM300 347h1v1h-1zM272 358h1v1h-1zM291 361h1v1h-1zM299 341h1v1h-1zM295 356h1v1h-1zM292 356h1v1h-1zM296 348h1v1h-1zM291 365h1v1h-1zM282 354h1v1h-1zM282 343h1v1h-1zM288 356h1v1h-1zM308 352h1v1h-1zM302 360h1v1h-1zM293 320h1v1h-1zM294 355h1v1h-1zM282 356h1v1h-1zM307 342h1v1h-1zM287 364h1v1h-1zM274 343h1v1h-1zM295 365h1v1h-1zM305 363h1v1h-1zM316 359h1v1h-1zM280 352h1v1h-1zM299 359h1v1h-1zM273 359h1v1h-1zM285 352h1v1h-1zM307 353h1v1h-1zM286 353h1v1h-1zM286 377h1v1h-1zM301 365h1v1h-1zM286 347h1v1h-1zM295 331h1v1h-1zM303 340h1v1h-1zM294 358h1v1h-1zM285 358h1v1h-1zM299 375h1v1h-1zM296 374h1v1h-1zM297 352h1v1h-1zM301 349h1v1h-1zM294 361h1v1h-1zM304 358h1v1h-1zM278 369h1v1h-1zM294 351h1v1h-1zM284 361h1v1h-1zM296 362h1v1h-1zM291 371h1v1h-1zM290 359h1v1h-1zM294 366h1v1h-1zM286 351h1v1h-1zM290 347h1v1h-1zM286 341h1v1h-1zM300 371h1v1h-1zM283 363h1v1h-1zM281 346h1v1h-1zM289 356h1v1h-1zM297 333h1v1h-1zM279 355h1v1h-1zM290 378h1v1h-1zM290 347h1v1h-1zM305 325h1v1h-1zM274 384h1v1h-1zM286 355h1v1h-1zM291 345h1v1h-1zM291 340h1v1h-1zM302 363h1v1h-1zM299 344h1v1h-1zM273 349h1v1h-1zM281 359h1v1h-1zM276 344h1v1h-1zM294 359h1v1h-1zM293 341h1v1h-1zM286 376h1v1h-1zM302 345h1v1h-1zM311 353h1v1h-1zM292 345h1v1h-1zM308 356h1v1h-1zM292 344h1v1h-1zM280 356h1v1h-1zM293 372h1v1h-1zM283 350h1v1h-1zM302 363h1v1h-1zM286 371h1v1h-1zM297 364h1v1h-1zM296 365h1v1h-1zM288 352h1v1h-1zM303 359h1v1h-1zM296 367h1v1h-1zM295 359h1v1h-1zM270 349h1v1h-1zM301 345h1v1h-1zM290 357h1v1h-1zM291 364h1v1h-1zM297 353h1v1h-1zM303 350h1v1h-1zM285 358h1v1h-1zM299 353h1v1h-1zM282 349h1v1h-1zM295 362h1v1h-1zM310 353h1v1h-1zM290 331h1v1h-1zM305 364h1v1h-1zM293 347h1v1h-1zM266 362h1v1h-1zM285 371h1v1h-1zM300 369h1v1h-1zM291 368h1v1h-1zM278 370h1v1h-1zM292 341h1v1h-1zM288 344h1v1h-1zM295 347h1v1h-1zM280 351h1v1h-1zM290 357h1v1h-1zM299 368h1v1h-1zM297 372h1v1h-1zM268 354h1v1h-1zM302 340h1v1h-1zM290 357h1v1h-1zM277 348h1v1h-1zM298 351h1v1h-1zM308 380h1v1h-1zM292 342h1v1h-1zM292 348h1v1h-1zM278 350h1v1h-1zM288 351h1v1h-1zM302 366h1v1h-1zM297 351h1v1h-1zM297 355h1v1h-1zM295 344h1v1h-1zM287 349h1v1h-1zM292 354h1v1h-1zM289 371h1v1h-1zM294 357h1v1h-1zM284 353h1v1h-1zM297 354h1v1h-1zM296 344h1v1h-1zM296 343h1v1h-1zM288 346h1v1h-1zM294 366h1v1h-1zM295 345h1v1h-1zM294 366h1v1h-1zM300 360h1v1h-1zM281 348h1v1h-1zM286 349h1v1h-1zM295 355h1v1h-1zM289 361h1v1h-1zM285 351h1v1h-1zM294 340h1v1h-1zM284 339h1v1h-1zM282 353h1v1h-1zM291 358h1v1h-1zM296 342h1v1h-1zM311 369h1v1h-1zM280 347h1v1h-1zM288 357h1v1h-1zM299 354h1v1h-1zM267 386h1v1h-1zM301 363h1v1h-1zM285 356h1v1h-1zM302 349h1v1h-1zM304 355h1v1h-1zM308 355h1v1h-1zM307 337h1v1h-1zM307 359h1v1h-1zM289 366h1v1h-1zM290 363h1v1h-1zM302 366h1v1h-1zM314 369h1v1h-1zM317 362h1v1h-1zM294 359h1v1h-1zM292 341h1v1h-1zM294 341h1v1h-1zM290 351h1v1h-1zM287 343h1v1h-1zM294 354h1v1h-1zM306 361h1v1h-1zM302 349h1v1h-1zM289 341h1v1h-1zM284 362h1v1h-1zM291 353h1v1h-1zM287 371h1v1h-1zM292 367h1v1h-1zM292 365h1v1h-1zM283 340h1v1h-1zM303 351h1v1h-1zM295 364h1v1h-1zM299 357h1v1h-1zM281 347h1v1h-1zM293 361h1v1h-1zM298 358h1v1h-1zM285 354h1v1h-1zM302 345h1v1h-1zM287 364h1v1h-1zM308 359h1v1h-1zM293 344h1v1h-1zM291 346h1v1h-1zM294 362h1v1h-1zM297 369h1v1h-1zM282 341h1v1h-1zM306 366h1v1h-1zM283 356h1v1h-1zM282 354h1v1h-1zM296 365h1v1h-1zM283 341h1v1h-1zM298 351h1v1h-1zM306 342h1v1h-1zM286 325h1v1h-1zM304 369h1v1h-1zM297 351h1v1h-1zM272 340h1v1h-1zM287 375h1v1h-1zM301 348h1v1h-1zM297 361h1v1h-1zM298 344h1v1h-1zM288 365h1v1h-1zM299 351h1v1h-1zM317 358h1v1h-1zM288 364h1v1h-1zM301 353h1v1h-1zM310 366h1v1h-1zM293 362h1v1h-1zM299 351h1v1h-1zM300 349h1v1h-1zM290 362h1v1h-1zM280 351h1v1h-1zM283 362h1v1h-1zM287 375h1v1h-1zM308 347h1v1h-1zM294 351h1v1h-1zM292 362h1v1h-1zM307 378h1v1h-1zM311 341h1v1h-1zM288 353h1v1h-1zM289 356h1v1h-1zM299 350h1v1h-1zM287 380h1v1h-1zM299 378h1v1h-1zM287 370h1v1h-1zM309 369h1v1h-1zM285 361h1v1h-1zM285 342h1v1h-1zM292 360h1v1h-1zM291 353h1v1h-1zM299 347h1v1h-1zM297 363h1v1h-1zM299 361h1v1h-1zM283 351h1v1h-1zM288 362h1v1h-1zM275 356h1v1h-1zM277 362h1v1h-1zM287 355h1v1h-1zM302 373h1v1h-1zM283 356h1v1h-1zM273 352h1v1h-1zM286 362h1v1h-1zM292 356h1v1h-1zM282 351h1v1h-1zM282 355h1v1h-1zM277 358h1v1h-1zM304 383h1v1h-1zM308 369h1v1h-1zM301 372h1v1h-1zM292 359h1v1h-1zM274 349h1v1h-1zM304 336h1v1h-1zM296 354h1v1h-1zM289 358h1v1h-1zM293 342h1v1h-1zM292 335h1v1h-1zM308 354h1v1h-1zM301 345h1v1h-1zM311 366h1v1h-1zM296 357h1v1h-1zM296 347h1v1h-1zM291 352h1v1h-1zM296 371h1v1h-1zM304 358h1v1h-1zM299 352h1v1h-1zM288 337h1v1h-1zM280 342h1v1h-1zM292 353h1v1h-1zM297 367h1v1h-1zM299 353h1v1h-1zM288 352h1v1h-1zM299 345h1v1h-1zM278 352h1v1h-1zM303 368h1v1h-1zM299 334h1v1h-1zM291 362h1v1h-1zM303 375h1v1h-1zM283 359h1v1h-1zM277 352h1v1h-1zM289 364h1v1h-1zM294 336h1v1h-1zM291 359h1v1h-1zM307 347h1v1h-1zM284 348h1v1h-1zM303 352h1v1h-1zM293 359h1v1h-1zM284 367h1v1h-1zM277 375h1v1h-1zM286 345h1v1h-1zM285 342h1v1h-1zM284 346h1v1h-1zM281 353h1v1h-1zM296 348h1v1h-1zM294 345h1v1h-1zM295 351h1v1h-1zM282 356h1v1h-1zM291 347h1v1h-1zM292 360h1v1h-1zM280 349h1v1h-1zM299 355h1v1h-1zM300 381h1v1h-1zM280 358h1v1h-1zM289 370h1v1h-1zM298 339h1v1h-1zM303 355h1v1h-1zM289 355h1v1h-1zM295 345h1v1h-1zM289 369h1v1h-1zM282 348h1v1h-1zM300 344h1v1h-1zM290 358h1v1h-1zM284 351h1v1h-1zM284 352h1v1h-1zM295 355h1v1h-1zM295 359h1v1h-1zM300 343h1v1h-1zM294 372h1v1h-1zM290 352h1v1h-1zM293 347h1v1h-1zM298 354h1v1h-1zM291 363h1v1h-1zM304 339h1v1h-1zM288 352h1v1h-1zM278 362h1v1h-1zM314 363h1v1h-1zM305 333h1v1h-1zM288 340h1v1h-1zM300 353h1v1h-1zM291 360h1v1h-1zM300 372h1v1h-1zM306 365h1v1h-1zM276 368h1v1h-1zM293 338h1v1h-1zM294 352h1v1h-1zM292 365h1v1h-1zM279 362h1v1h-1zM304 342h1v1h-1zM306 347h1v1h-1zM285 365h1v1h-1zM292 334h1v1h-1zM286 362h1v1h-1zM287 349h1v1h-1zM293 354h1v1h-1zM286 344h1v1h-1zM297 368h1v1h-1zM267 359h1v1h-1zM302 345h1v1h-1zM307 338h1v1h-1zM302 372h1v1h-1zM308 325h1v1h-1zM293 344h1v1h-1zM296 370h1v1h-1zM297 372h1v1h-1zM276 345h1v1h-1zM287 362h1v1h-1zM305 345h1v1h-1zM283 364h1v1h-1zM279 361h1v1h-1zM284 354h1v1h-1zM313 352h1v1h-1zM293 346h1v1h-1zM298 371h1v1h-1zM299 340h1v1h-1zM296 372h1v1h-1zM283 353h1v1h-1zM283 348h1v1h-1zM283 340h1v1h-1zM297 354h1v1h-1zM271 343h1v1h-1zM285 342h1v1h-1zM294 352h1v1h-1zM296 340h1v1h-1zM285 350h1v1h-1zM289 351h1v1h-1zM285 353h1v1h-1zM309 346h1v1h-1zM276 358h1v1h-1zM283 363h1v1h-1zM303 373h1v1h-1zM294 336h1v1h-1zM309 365h1v1h-1zM305 356h1v1h-1zM289 355h1v1h-1zM274 365h1v1h-1zM286 348h1v1h-1zM296 345h1v1h-1zM301 348h1v1h-1zM316 368h1v1h-1zM299 358h1v1h-1zM293 349h1v1h-1zM273 349h1v1h-1zM285 349h1v1h-1zM293 334h1v1h-1zM280 347h1v1h-1zM288 365h1v1h-1zM319 353h1v1h-1zM299 355h1v1h-1zM295 374h1v1h-1zM294 361h1v1h-1zM293 348h1v1h-1zM303 353h1v1h-1zM307 342h1v1h-1zM297 373h1v1h-1zM286 358h1v1h-1zM307 359h1v1h-1zM285 351h1v1h-1zM296 348h1v1h-1zM288 356h1v1h-1zM280 373h1v1h-1zM287 354h1v1h-1zM294 370h1v1h-1zM289 377h1v1h-1zM311 363h1v1h-1zM279 340h1v1h-1zM290 358h1v1h-1zM299 368h1v1h-1zM297 355h1v1h-1zM297 332h1v1h-1zM304 338h1v1h-1zM273 347h1v1h-1zM288 341h1v1h-1zM291 356h1v1h-1zM299 359h1v1h-1zM288 356h1v1h-1zM305 352h1v1h-1zM291 331h1v1h-1zM296 377h1v1h-1zM300 352h1v1h-1zM305 368h1v1h-1zM306 342h1v1h-1zM281 363h1v1h-1zM298 360h1v1h-1zM278 363h1v1h-1zM312 368h1v1h-1zM318 360h1v1h-1zM294 375h1v1h-1zM303 330h1v1h-1zM277 358h1v1h-1zM288 375h1v1h-1zM309 369h1v1h-1zM290 352h1v1h-1zM301 351h1v1h-1zM300 358h1v1h-1zM301 356h1v1h-1zM285 323h1v1h-1zM279 339h1v1h-1zM299 339h1v1h-1zM287 360h1v1h-1zM300 366h1v1h-1zM297 372h1v1h-1zM287 368h1v1h-1zM279 350h1v1h-1zM297 362h1v1h-1zM290 347h1v1h-1zM280 329h1v1h-1zM273 373h1v1h-1zM274 337h1v1h-1zM276 351h1v1h-1zM290 348h1v1h-1zM279 353h1v1h-1zM278 358h1v1h-1zM307 344h1v1h-1zM295 349h1v1h-1zM288 340h1v1h-1zM293 354h1v1h-1zM305 381h1v1h-1zM282 367h1v1h-1zM284 348h1v1h-1zM281 360h1v1h-1zM305 353h1v1h-1zM295 345h1v1h-1zM289 340h1v1h-1zM292 332h1v1h-1zM315 368h1v1h-1zM287 349h1v1h-1zM288 356h1v1h-1zM295 375h1v1h-1zM288 333h1v1h-1zM295 359h1v1h-1zM284 363h1v1h-1zM290 346h1v1h-1zM291 340h1v1h-1zM288 373h1v1h-1zM304 361h1v1h-1zM294 358h1v1h-1zM280 356h1v1h-1zM285 348h1v1h-1zM308 346h1v1h-1zM293 355h1v1h-1zM302 352h1v1h-1zM297 359h1v1h-1zM291 348h1v1h-1zM282 366h1v1h-1zM284 367h1v1h-1zM309 348h1v1h-1zM283 343h1v1h-1zM287 369h1v1h-1zM285 343h1v1h-1zM276 356h1v1h-1zM297 371h1v1h-1zM295 354h1v1h-1zM292 387h1v1h-1zM309 365h1v1h-1zM289 352h1v1h-1zM292 354h1v1h-1zM297 347h1v1h-1zM311 344h1v1h-1zM299 363h1v1h-1zM302 370h1v1h-1zM296 357h1v1h-1zM307 369h1v1h-1zM293 364h1v1h-1zM281 359h1v1h-1zM272 368h1v1h-1zM286 365h1v1h-1zM297 348h1v1h-1zM301 373h1v1h-1zM284 376h1v1h-1zM297 345h1v1h-1zM290 359h1v1h-1zM300 346h1v1h-1zM289 360h1v1h-1zM296 377h1v1h-1zM301 365h1v1h-1zM284 345h1v1h-1zM282 354h1v1h-1zM299 374h1v1h-1zM303 346h1v1h-1zM292 379h1v1h-1zM294 361h1v1h-1zM279 340h1v1h-1zM288 352h1v1h-1zM298 354h1v1h-1zM276 382h1v1h-1zM297 337h1v1h-1zM310 364h1v1h-1zM291 355h1v1h-1zM298 330h1v1h-1zM303 358h1v1h-1zM300 349h1v1h-1zM287 373h1v1h-1zM305 337h1v1h-1zM291 348h1v1h-1zM287 341h1v1h-1zM280 356h1v1h-1zM290 361h1v1h-1zM301 349h1v1h-1zM314 373h1v1h-1zM278 353h1v1h-1zM289 360h1v1h-1zM283 373h1v1h-1zM289 378h1v1h-1zM285 377h1v1h-1zM297 365h1v1h-1zM296 359h1v1h-1zM283 353h1v1h-1zM286 353h1v1h-1zM289 364h1v1h-1zM296 352h1v1h-1zM276 365h1v1h-1zM286 351h1v1h-1zM297 354h1v1h-1zM294 356h1v1h-1zM274 363h1v1h-1zM291 363h1v1h-1zM294 350h1v1h-1zM307 356h1v1h-1zM303 362h1v1h-1zM301 366h1v1h-1zM299 345h1v1h-1zM290 370h1v1h-1zM291 351h1v1h-1zM293 365h1v1h-1zM285 354h1v1h-1zM288 347h1v1h-1zM300 349h1v1h-1zM293 359h1v1h-1zM297 360h1v1h-1zM300 347h1v1h-1zM269 364h1v1h-1zM309 351h1v1h-1zM293 364h1v1h-1zM285 354h1v1h-1zM289 361h1v1h-1zM293 373h1v1h-1zM284 347h1v1h-1zM279 357h1v1h-1zM292 352h1v1h-1zM299 344h1v1h-1zM279 378h1v1h-1zM293 344h1v1h-1zM303 356h1v1h-1zM283 358h1v1h-1zM303 363h1v1h-1zM292 373h1v1h-1zM284 353h1v1h-1zM298 344h1v1h-1zM299 359h1v1h-1zM303 358h1v1h-1zM312 340h1v1h-1zM289 349h1v1h-1zM293 362h1v1h-1zM283 366h1v1h-1zM304 356h1v1h-1zM279 362h1v1h-1zM297 345h1v1h-1zM286 349h1v1h-1zM279 359h1v1h-1zM304 359h1v1h-1zM286 354h1v1h-1zM293 375h1v1h-1zM289 360h1v1h-1zM290 368h1v1h-1zM285 361h1v1h-1zM289 361h1v1h-1zM279 354h1v1h-1zM304 362h1v1h-1zM283 383h1v1h-1zM297 352h1v1h-1zM289 345h1v1h-1zM308 369h1v1h-1zM307 344h1v1h-1zM274 331h1v1h-1zM278 349h1v1h-1zM281 337h1v1h-1zM298 347h1v1h-1zM296 368h1v1h-1zM285 349h1v1h-1zM305 338h1v1h-1zM288 342h1v1h-1zM290 348h1v1h-1zM294 349h1v1h-1zM304 346h1v1h-1zM291 362h1v1h-1zM283 347h1v1h-1zM291 350h1v1h-1zM300 346h1v1h-1zM277 361h1v1h-1zM284 347h1v1h-1zM290 366h1v1h-1zM300 356h1v1h-1zM295 350h1v1h-1zM309 365h1v1h-1zM284 364h1v1h-1zM279 345h1v1h-1zM282 397h1v1h-1zM320 368h1v1h-1zM285 392h1v1h-1zM285 397h1v1h-1zM279 386h1v1h-1zM281 400h1v1h-1zM294 355h1v1h-1zM294 322h1v1h-1zM293 380h1v1h-1zM325 347h1v1h-1zM309 391h1v1h-1zM302 361h1v1h-1zM295 352h1v1h-1zM296 345h1v1h-1zM285 369h1v1h-1zM280 343h1v1h-1zM291 373h1v1h-1zM302 375h1v1h-1zM316 367h1v1h-1zM311 348h1v1h-1zM302 381h1v1h-1zM319 356h1v1h-1zM318 366h1v1h-1zM287 336h1v1h-1zM305 357h1v1h-1zM304 371h1v1h-1zM304 369h1v1h-1zM283 359h1v1h-1zM293 376h1v1h-1zM282 385h1v1h-1zM302 374h1v1h-1zM321 388h1v1h-1zM279 347h1v1h-1zM293 366h1v1h-1zM303 358h1v1h-1zM283 354h1v1h-1zM292 351h1v1h-1zM291 382h1v1h-1zM290 347h1v1h-1zM300 382h1v1h-1zM280 360h1v1h-1zM270 347h1v1h-1zM276 341h1v1h-1zM283 404h1v1h-1zM309 359h1v1h-1zM298 369h1v1h-1zM294 329h1v1h-1zM290 345h1v1h-1zM286 365h1v1h-1zM298 393h1v1h-1zM304 345h1v1h-1zM286 379h1v1h-1zM289 324h1v1h-1zM303 354h1v1h-1zM292 333h1v1h-1zM276 390h1v1h-1zM285 376h1v1h-1zM315 368h1v1h-1zM293 362h1v1h-1zM304 374h1v1h-1zM298 397h1v1h-1zM299 391h1v1h-1zM280 362h1v1h-1zM302 351h1v1h-1zM272 365h1v1h-1zM285 374h1v1h-1zM315 358h1v1h-1zM277 361h1v1h-1zM284 357h1v1h-1zM308 378h1v1h-1zM298 362h1v1h-1zM306 365h1v1h-1zM316 367h1v1h-1zM291 381h1v1h-1zM322 333h1v1h-1zM299 344h1v1h-1zM269 359h1v1h-1zM304 335h1v1h-1zM286 402h1v1h-1zM310 360h1v1h-1zM302 368h1v1h-1zM284 351h1v1h-1zM310 354h1v1h-1zM290 357h1v1h-1zM271 363h1v1h-1zM319 347h1v1h-1zM291 390h1v1h-1zM299 366h1v1h-1zM301 373h1v1h-1zM291 351h1v1h-1zM286 333h1v1h-1zM294 362h1v1h-1zM283 336h1v1h-1zM284 331h1v1h-1zM300 344h1v1h-1zM304 350h1v1h-1zM301 377h1v1h-1zM304 360h1v1h-1zM283 337h1v1h-1zM276 372h1v1h-1zM301 373h1v1h-1zM302 387h1v1h-1zM287 366h1v1h-1zM288 361h1v1h-1zM290 370h1v1h-1zM285 369h1v1h-1zM305 361h1v1h-1zM300 349h1v1h-1zM280 400h1v1h-1zM290 390h1v1h-1zM291 362h1v1h-1zM301 353h1v1h-1zM300 378h1v1h-1zM293 356h1v1h-1zM301 358h1v1h-1zM284 340h1v1h-1zM293 390h1v1h-1zM285 357h1v1h-1zM273 362h1v1h-1zM304 363h1v1h-1zM300 388h1v1h-1zM279 355h1v1h-1zM301 361h1v1h-1zM277 366h1v1h-1zM297 387h1v1h-1zM280 373h1v1h-1zM298 312h1v1h-1zM302 365h1v1h-1zM269 401h1v1h-1zM298 372h1v1h-1zM325 387h1v1h-1zM278 367h1v1h-1zM316 390h1v1h-1zM314 366h1v1h-1zM308 355h1v1h-1zM289 379h1v1h-1zM290 378h1v1h-1zM290 372h1v1h-1zM321 378h1v1h-1zM307 339h1v1h-1zM283 384h1v1h-1zM269 359h1v1h-1zM287 389h1v1h-1zM267 356h1v1h-1zM292 369h1v1h-1zM269 390h1v1h-1zM301 391h1v1h-1zM300 379h1v1h-1zM288 361h1v1h-1zM275 375h1v1h-1zM275 388h1v1h-1zM299 355h1v1h-1zM294 336h1v1h-1zM277 353h1v1h-1zM272 355h1v1h-1zM288 353h1v1h-1zM280 343h1v1h-1zM286 390h1v1h-1zM275 357h1v1h-1zM301 393h1v1h-1zM305 383h1v1h-1zM272 376h1v1h-1zM318 325h1v1h-1zM296 409h1v1h-1zM276 371h1v1h-1zM319 377h1v1h-1zM294 383h1v1h-1zM289 381h1v1h-1zM290 383h1v1h-1zM280 364h1v1h-1zM294 323h1v1h-1zM305 360h1v1h-1zM283 339h1v1h-1zM290 349h1v1h-1zM301 397h1v1h-1zM285 353h1v1h-1zM290 361h1v1h-1zM299 328h1v1h-1zM299 366h1v1h-1zM284 337h1v1h-1zM305 388h1v1h-1zM296 380h1v1h-1zM304 370h1v1h-1zM303 347h1v1h-1zM303 319h1v1h-1zM308 398h1v1h-1zM309 351h1v1h-1zM288 378h1v1h-1zM280 374h1v1h-1zM291 396h1v1h-1zM285 356h1v1h-1zM300 387h1v1h-1zM287 340h1v1h-1zM274 336h1v1h-1zM293 347h1v1h-1zM292 339h1v1h-1zM288 377h1v1h-1zM277 389h1v1h-1zM293 351h1v1h-1zM287 366h1v1h-1zM280 356h1v1h-1zM296 330h1v1h-1zM327 383h1v1h-1zM310 411h1v1h-1zM302 366h1v1h-1zM290 378h1v1h-1zM312 350h1v1h-1zM317 360h1v1h-1zM277 393h1v1h-1zM285 381h1v1h-1zM273 381h1v1h-1zM285 390h1v1h-1zM270 354h1v1h-1zM278 371h1v1h-1zM278 360h1v1h-1zM292 359h1v1h-1zM294 372h1v1h-1zM269 387h1v1h-1zM276 352h1v1h-1zM316 354h1v1h-1zM290 380h1v1h-1zM283 364h1v1h-1zM288 363h1v1h-1zM275 387h1v1h-1zM292 378h1v1h-1zM292 355h1v1h-1zM308 352h1v1h-1zM306 352h1v1h-1zM282 369h1v1h-1zM325 384h1v1h-1zM294 375h1v1h-1zM308 358h1v1h-1zM265 347h1v1h-1zM291 353h1v1h-1zM288 395h1v1h-1zM288 355h1v1h-1zM293 390h1v1h-1zM316 380h1v1h-1zM288 358h1v1h-1zM276 355h1v1h-1zM305 378h1v1h-1zM297 347h1v1h-1zM291 354h1v1h-1zM313 367h1v1h-1zM291 366h1v1h-1zM292 368h1v1h-1zM284 372h1v1h-1zM293 384h1v1h-1zM300 380h1v1h-1zM285 367h1v1h-1zM286 321h1v1h-1zM308 385h1v1h-1zM294 412h1v1h-1zM270 368h1v1h-1zM294 358h1v1h-1zM313 388h1v1h-1zM299 349h1v1h-1zM296 368h1v1h-1zM299 340h1v1h-1zM278 388h1v1h-1zM293 365h1v1h-1zM291 315h1v1h-1zM312 339h1v1h-1zM275 377h1v1h-1zM311 390h1v1h-1zM285 351h1v1h-1zM301 371h1v1h-1zM267 392h1v1h-1zM297 381h1v1h-1zM293 383h1v1h-1zM296 350h1v1h-1zM283 393h1v1h-1zM265 380h1v1h-1zM284 334h1v1h-1zM280 376h1v1h-1zM310 359h1v1h-1zM287 368h1v1h-1zM305 347h1v1h-1zM285 374h1v1h-1zM271 373h1v1h-1zM291 382h1v1h-1zM276 366h1v1h-1zM298 368h1v1h-1zM277 389h1v1h-1zM291 370h1v1h-1zM293 380h1v1h-1zM293 354h1v1h-1zM304 366h1v1h-1zM294 371h1v1h-1zM276 369h1v1h-1zM297 340h1v1h-1zM288 366h1v1h-1zM302 361h1v1h-1zM293 379h1v1h-1zM275 353h1v1h-1zM288 381h1v1h-1zM311 369h1v1h-1zM291 358h1v1h-1zM294 399h1v1h-1zM291 358h1v1h-1zM315 365h1v1h-1zM290 351h1v1h-1zM307 363h1v1h-1zM266 327h1v1h-1zM297 357h1v1h-1zM299 377h1v1h-1zM314 394h1v1h-1zM277 362h1v1h-1zM281 384h1v1h-1zM272 379h1v1h-1zM268 387h1v1h-1zM308 336h1v1h-1zM292 356h1v1h-1zM269 385h1v1h-1zM281 387h1v1h-1zM299 402h1v1h-1zM286 383h1v1h-1zM295 360h1v1h-1zM307 368h1v1h-1zM286 371h1v1h-1zM274 388h1v1h-1zM316 339h1v1h-1zM294 360h1v1h-1zM282 383h1v1h-1zM317 373h1v1h-1zM288 400h1v1h-1zM288 354h1v1h-1zM284 385h1v1h-1zM293 370h1v1h-1zM284 374h1v1h-1zM292 401h1v1h-1zM292 348h1v1h-1zM316 373h1v1h-1zM292 376h1v1h-1zM293 326h1v1h-1zM292 391h1v1h-1zM305 353h1v1h-1zM288 377h1v1h-1zM322 374h1v1h-1zM296 356h1v1h-1zM287 358h1v1h-1zM292 349h1v1h-1zM287 345h1v1h-1zM308 380h1v1h-1zM290 363h1v1h-1zM303 371h1v1h-1zM286 316h1v1h-1zM266 380h1v1h-1zM290 353h1v1h-1zM267 380h1v1h-1zM276 370h1v1h-1zM291 357h1v1h-1zM276 373h1v1h-1zM273 355h1v1h-1zM290 389h1v1h-1zM286 370h1v1h-1zM301 321h1v1h-1zM279 360h1v1h-1zM282 383h1v1h-1zM285 379h1v1h-1zM305 362h1v1h-1zM297 395h1v1h-1zM306 368h1v1h-1zM268 354h1v1h-1zM291 373h1v1h-1zM295 367h1v1h-1zM278 379h1v1h-1zM306 366h1v1h-1zM293 383h1v1h-1zM287 375h1v1h-1zM306 354h1v1h-1zM291 352h1v1h-1zM277 331h1v1h-1zM297 415h1v1h-1zM288 397h1v1h-1zM307 360h1v1h-1zM305 360h1v1h-1zM289 364h1v1h-1zM303 387h1v1h-1zM290 373h1v1h-1zM297 352h1v1h-1zM304 357h1v1h-1zM298 386h1v1h-1zM307 331h1v1h-1zM283 362h1v1h-1zM282 365h1v1h-1zM291 369h1v1h-1zM325 373h1v1h-1zM294 353h1v1h-1zM289 364h1v1h-1zM302 344h1v1h-1zM290 348h1v1h-1zM269 381h1v1h-1zM290 374h1v1h-1zM316 396h1v1h-1zM292 374h1v1h-1zM286 363h1v1h-1zM271 382h1v1h-1zM294 387h1v1h-1zM318 352h1v1h-1zM295 364h1v1h-1zM310 363h1v1h-1zM316 412h1v1h-1zM322 406h1v1h-1zM298 369h1v1h-1zM274 372h1v1h-1zM270 350h1v1h-1zM310 387h1v1h-1zM278 410h1v1h-1zM277 347h1v1h-1zM313 399h1v1h-1zM290 380h1v1h-1zM271 383h1v1h-1zM286 387h1v1h-1zM284 359h1v1h-1zM303 381h1v1h-1zM288 340h1v1h-1zM297 395h1v1h-1zM304 342h1v1h-1zM294 373h1v1h-1zM314 365h1v1h-1zM289 398h1v1h-1zM275 355h1v1h-1zM279 389h1v1h-1zM282 380h1v1h-1zM282 395h1v1h-1zM300 355h1v1h-1zM302 374h1v1h-1zM293 350h1v1h-1zM319 370h1v1h-1zM288 370h1v1h-1zM292 345h1v1h-1zM308 338h1v1h-1zM305 332h1v1h-1zM273 391h1v1h-1zM272 368h1v1h-1zM297 394h1v1h-1zM317 384h1v1h-1zM300 390h1v1h-1zM307 338h1v1h-1zM302 352h1v1h-1zM329 391h1v1h-1zM283 403h1v1h-1zM280 378h1v1h-1zM276 361h1v1h-1zM296 343h1v1h-1zM301 388h1v1h-1zM315 388h1v1h-1zM298 384h1v1h-1zM282 358h1v1h-1zM312 347h1v1h-1zM285 385h1v1h-1zM291 345h1v1h-1zM284 354h1v1h-1zM275 357h1v1h-1zM303 357h1v1h-1zM296 355h1v1h-1zM290 381h1v1h-1zM298 364h1v1h-1zM289 388h1v1h-1zM287 340h1v1h-1zM303 381h1v1h-1zM291 357h1v1h-1zM311 392h1v1h-1zM298 368h1v1h-1zM303 401h1v1h-1zM284 384h1v1h-1zM301 371h1v1h-1zM276 383h1v1h-1zM303 383h1v1h-1zM288 365h1v1h-1zM290 373h1v1h-1zM294 366h1v1h-1zM303 390h1v1h-1zM295 392h1v1h-1zM269 416h1v1h-1zM281 360h1v1h-1zM299 387h1v1h-1zM296 338h1v1h-1zM288 345h1v1h-1zM305 360h1v1h-1zM296 347h1v1h-1zM299 336h1v1h-1zM289 386h1v1h-1zM293 349h1v1h-1zM282 387h1v1h-1zM302 374h1v1h-1zM303 366h1v1h-1zM293 366h1v1h-1zM287 389h1v1h-1zM280 410h1v1h-1zM304 363h1v1h-1zM313 400h1v1h-1zM297 345h1v1h-1zM294 368h1v1h-1zM285 341h1v1h-1zM280 371h1v1h-1zM290 386h1v1h-1zM276 380h1v1h-1zM282 376h1v1h-1zM296 395h1v1h-1zM301 363h1v1h-1zM295 340h1v1h-1zM293 378h1v1h-1zM297 358h1v1h-1zM297 373h1v1h-1zM298 350h1v1h-1zM304 368h1v1h-1zM277 365h1v1h-1zM309 397h1v1h-1zM289 353h1v1h-1zM288 381h1v1h-1zM312 371h1v1h-1zM289 395h1v1h-1zM299 353h1v1h-1zM290 385h1v1h-1zM288 368h1v1h-1zM283 378h1v1h-1zM313 391h1v1h-1zM287 347h1v1h-1zM313 381h1v1h-1zM271 394h1v1h-1zM286 356h1v1h-1zM293 342h1v1h-1zM277 394h1v1h-1zM289 377h1v1h-1zM311 375h1v1h-1zM291 379h1v1h-1zM316 377h1v1h-1zM287 404h1v1h-1zM313 346h1v1h-1zM298 412h1v1h-1zM273 342h1v1h-1zM303 358h1v1h-1zM271 396h1v1h-1zM291 376h1v1h-1zM310 373h1v1h-1zM281 411h1v1h-1zM307 369h1v1h-1zM288 342h1v1h-1zM303 344h1v1h-1zM318 332h1v1h-1zM305 348h1v1h-1zM279 381h1v1h-1zM295 382h1v1h-1zM278 365h1v1h-1zM288 373h1v1h-1zM305 365h1v1h-1zM280 370h1v1h-1zM270 356h1v1h-1zM310 358h1v1h-1zM305 361h1v1h-1zM280 370h1v1h-1zM300 365h1v1h-1zM296 400h1v1h-1zM293 374h1v1h-1zM282 383h1v1h-1zM283 371h1v1h-1zM286 380h1v1h-1zM300 388h1v1h-1zM294 380h1v1h-1zM319 350h1v1h-1zM280 383h1v1h-1zM295 370h1v1h-1zM306 377h1v1h-1zM293 365h1v1h-1zM283 360h1v1h-1zM293 332h1v1h-1zM311 345h1v1h-1zM310 382h1v1h-1zM281 362h1v1h-1zM297 388h1v1h-1zM280 377h1v1h-1zM302 364h1v1h-1zM297 359h1v1h-1zM287 348h1v1h-1zM280 381h1v1h-1zM299 377h1v1h-1zM285 374h1v1h-1zM305 343h1v1h-1zM278 346h1v1h-1zM294 370h1v1h-1zM318 386h1v1h-1zM286 384h1v1h-1zM276 338h1v1h-1zM278 377h1v1h-1zM286 379h1v1h-1zM318 345h1v1h-1zM285 372h1v1h-1zM303 352h1v1h-1zM292 348h1v1h-1zM313 383h1v1h-1zM318 395h1v1h-1zM299 383h1v1h-1zM302 368h1v1h-1zM289 361h1v1h-1zM296 372h1v1h-1zM309 369h1v1h-1zM296 399h1v1h-1zM285 347h1v1h-1zM326 346h1v1h-1zM284 398h1v1h-1zM289 356h1v1h-1zM293 363h1v1h-1zM278 331h1v1h-1zM280 344h1v1h-1zM285 351h1v1h-1zM303 379h1v1h-1zM283 400h1v1h-1zM319 333h1v1h-1zM278 402h1v1h-1zM295 365h1v1h-1zM287 365h1v1h-1zM306 377h1v1h-1zM290 356h1v1h-1zM286 387h1v1h-1zM286 365h1v1h-1zM294 370h1v1h-1zM302 397h1v1h-1zM276 337h1v1h-1zM294 361h1v1h-1zM280 399h1v1h-1zM276 338h1v1h-1zM319 375h1v1h-1zM273 388h1v1h-1zM281 359h1v1h-1zM289 367h1v1h-1zM319 352h1v1h-1zM280 345h1v1h-1zM291 347h1v1h-1zM293 395h1v1h-1zM321 364h1v1h-1zM295 357h1v1h-1zM288 382h1v1h-1zM279 350h1v1h-1zM285 373h1v1h-1zM310 352h1v1h-1zM289 355h1v1h-1zM296 368h1v1h-1zM302 369h1v1h-1zM311 365h1v1h-1zM294 376h1v1h-1zM295 368h1v1h-1zM301 380h1v1h-1zM298 379h1v1h-1zM287 360h1v1h-1zM308 392h1v1h-1zM289 394h1v1h-1zM288 396h1v1h-1zM304 368h1v1h-1zM300 356h1v1h-1zM286 358h1v1h-1zM304 380h1v1h-1zM289 369h1v1h-1zM278 364h1v1h-1zM278 392h1v1h-1zM303 355h1v1h-1zM284 398h1v1h-1zM293 345h1v1h-1zM283 356h1v1h-1zM290 343h1v1h-1zM300 355h1v1h-1zM318 383h1v1h-1zM271 350h1v1h-1zM292 335h1v1h-1zM275 397h1v1h-1zM282 354h1v1h-1zM296 375h1v1h-1zM294 384h1v1h-1zM283 391h1v1h-1zM310 361h1v1h-1zM291 365h1v1h-1zM287 345h1v1h-1zM295 350h1v1h-1zM282 350h1v1h-1zM295 348h1v1h-1zM305 333h1v1h-1zM276 363h1v1h-1zM288 345h1v1h-1zM325 359h1v1h-1zM271 368h1v1h-1zM316 393h1v1h-1zM290 365h1v1h-1zM319 370h1v1h-1zM296 342h1v1h-1zM284 375h1v1h-1zM290 363h1v1h-1zM294 375h1v1h-1zM310 340h1v1h-1zM306 358h1v1h-1zM290 374h1v1h-1zM292 385h1v1h-1zM283 379h1v1h-1zM289 330h1v1h-1zM274 392h1v1h-1zM290 382h1v1h-1zM294 360h1v1h-1zM332 395h1v1h-1zM278 371h1v1h-1zM297 328h1v1h-1zM275 392h1v1h-1zM313 396h1v1h-1zM281 377h1v1h-1zM298 368h1v1h-1zM287 373h1v1h-1zM267 313h1v1h-1zM287 398h1v1h-1zM276 354h1v1h-1zM295 346h1v1h-1zM296 358h1v1h-1zM285 346h1v1h-1zM296 380h1v1h-1zM311 359h1v1h-1zM276 368h1v1h-1zM304 346h1v1h-1zM298 412h1v1h-1zM307 341h1v1h-1zM287 340h1v1h-1zM275 414h1v1h-1zM291 356h1v1h-1zM298 349h1v1h-1zM319 382h1v1h-1zM295 387h1v1h-1zM307 380h1v1h-1zM267 359h1v1h-1zM320 356h1v1h-1zM286 351h1v1h-1zM302 362h1v1h-1zM285 390h1v1h-1zM280 386h1v1h-1zM300 377h1v1h-1zM307 370h1v1h-1zM294 402h1v1h-1zM292 380h1v1h-1zM291 355h1v1h-1zM302 348h1v1h-1zM306 391h1v1h-1zM305 367h1v1h-1zM276 359h1v1h-1zM332 350h1v1h-1zM305 375h1v1h-1zM298 349h1v1h-1zM274 366h1v1h-1zM296 368h1v1h-1zM304 356h1v1h-1zM276 376h1v1h-1zM293 327h1v1h-1zM310 381h1v1h-1zM310 368h1v1h-1zM299 348h1v1h-1zM274 395h1v1h-1zM282 328h1v1h-1zM281 363h1v1h-1zM287 347h1v1h-1zM300 368h1v1h-1zM312 361h1v1h-1zM315 374h1v1h-1zM293 362h1v1h-1zM301 367h1v1h-1zM270 366h1v1h-1zM280 369h1v1h-1zM273 371h1v1h-1zM320 356h1v1h-1zM318 365h1v1h-1zM280 370h1v1h-1zM319 345h1v1h-1zM285 399h1v1h-1zM290 373h1v1h-1zM267 360h1v1h-1zM306 339h1v1h-1zM283 407h1v1h-1zM307 379h1v1h-1zM304 377h1v1h-1zM312 345h1v1h-1zM310 366h1v1h-1zM284 366h1v1h-1zM278 399h1v1h-1zM284 400h1v1h-1zM306 413h1v1h-1zM297 373h1v1h-1zM271 353h1v1h-1zM289 349h1v1h-1zM290 355h1v1h-1zM287 381h1v1h-1zM293 373h1v1h-1zM296 391h1v1h-1zM283 357h1v1h-1zM283 357h1v1h-1zM293 365h1v1h-1zM297 327h1v1h-1zM275 355h1v1h-1zM300 366h1v1h-1zM306 380h1v1h-1zM290 344h1v1h-1zM278 369h1v1h-1zM311 379h1v1h-1zM315 388h1v1h-1zM291 401h1v1h-1zM284 392h1v1h-1zM276 371h1v1h-1zM282 367h1v1h-1zM304 361h1v1h-1zM298 378h1v1h-1zM287 327h1v1h-1zM297 407h1v1h-1zM294 354h1v1h-1zM305 378h1v1h-1zM278 378h1v1h-1zM291 354h1v1h-1zM292 385h1v1h-1zM300 385h1v1h-1zM283 359h1v1h-1zM307 391h1v1h-1zM316 387h1v1h-1zM285 359h1v1h-1zM319 370h1v1h-1zM316 372h1v1h-1zM272 361h1v1h-1zM299 397h1v1h-1zM292 393h1v1h-1zM311 362h1v1h-1zM298 379h1v1h-1zM270 387h1v1h-1zM297 349h1v1h-1zM281 358h1v1h-1zM280 368h1v1h-1zM305 361h1v1h-1zM285 392h1v1h-1zM294 377h1v1h-1zM268 380h1v1h-1zM285 379h1v1h-1zM288 393h1v1h-1zM290 391h1v1h-1zM289 367h1v1h-1zM281 399h1v1h-1zM298 398h1v1h-1zM307 378h1v1h-1zM275 380h1v1h-1zM300 368h1v1h-1zM267 392h1v1h-1zM317 385h1v1h-1zM292 381h1v1h-1zM278 364h1v1h-1zM325 366h1v1h-1zM291 353h1v1h-1zM294 388h1v1h-1zM288 380h1v1h-1zM296 382h1v1h-1zM290 376h1v1h-1zM280 411h1v1h-1zM303 345h1v1h-1zM324 356h1v1h-1zM296 371h1v1h-1zM284 388h1v1h-1zM296 367h1v1h-1zM285 335h1v1h-1zM291 400h1v1h-1zM297 361h1v1h-1zM284 349h1v1h-1zM294 357h1v1h-1zM291 365h1v1h-1zM307 372h1v1h-1zM284 384h1v1h-1zM278 379h1v1h-1zM274 398h1v1h-1zM309 405h1v1h-1zM303 404h1v1h-1zM276 379h1v1h-1zM295 402h1v1h-1zM297 400h1v1h-1zM276 333h1v1h-1zM318 365h1v1h-1zM305 398h1v1h-1zM313 388h1v1h-1zM299 363h1v1h-1zM317 376h1v1h-1zM280 391h1v1h-1zM307 326h1v1h-1zM266 363h1v1h-1zM313 350h1v1h-1zM271 398h1v1h-1zM266 387h1v1h-1zM281 382h1v1h-1zM299 369h1v1h-1zM306 358h1v1h-1zM291 346h1v1h-1zM290 345h1v1h-1zM300 380h1v1h-1zM287 359h1v1h-1zM297 365h1v1h-1zM266 352h1v1h-1zM292 357h1v1h-1zM310 386h1v1h-1zM287 372h1v1h-1zM307 387h1v1h-1zM304 370h1v1h-1zM302 362h1v1h-1zM294 364h1v1h-1zM294 373h1v1h-1zM290 343h1v1h-1zM295 333h1v1h-1zM291 359h1v1h-1zM289 369h1v1h-1zM296 350h1v1h-1zM312 366h1v1h-1zM271 393h1v1h-1zM298 357h1v1h-1zM323 363h1v1h-1zM284 368h1v1h-1zM300 359h1v1h-1zM281 356h1v1h-1zM300 353h1v1h-1zM273 393h1v1h-1zM285 300h1v1h-1zM298 374h1v1h-1zM285 348h1v1h-1zM305 354h1v1h-1zM308 374h1v1h-1zM293 402h1v1h-1zM303 332h1v1h-1zM306 383h1v1h-1zM305 417h1v1h-1zM304 390h1v1h-1zM291 355h1v1h-1zM286 363h1v1h-1zM303 373h1v1h-1zM306 377h1v1h-1zM279 329h1v1h-1zM291 389h1v1h-1zM288 352h1v1h-1zM288 385h1v1h-1zM299 352h1v1h-1zM293 357h1v1h-1zM288 382h1v1h-1zM294 379h1v1h-1zM272 389h1v1h-1zM269 317h1v1h-1zM288 382h1v1h-1zM293 390h1v1h-1zM311 392h1v1h-1zM289 370h1v1h-1zM278 367h1v1h-1zM297 383h1v1h-1zM268 308h1v1h-1zM284 359h1v1h-1zM305 371h1v1h-1zM293 387h1v1h-1zM282 372h1v1h-1zM309 405h1v1h-1zM314 358h1v1h-1zM309 357h1v1h-1zM292 347h1v1h-1zM278 336h1v1h-1zM286 335h1v1h-1zM283 356h1v1h-1zM302 329h1v1h-1zM293 379h1v1h-1zM303 368h1v1h-1zM296 379h1v1h-1zM299 382h1v1h-1zM310 410h1v1h-1zM295 369h1v1h-1zM305 359h1v1h-1zM292 351h1v1h-1zM296 368h1v1h-1zM296 365h1v1h-1zM282 373h1v1h-1zM284 353h1v1h-1zM296 355h1v1h-1zM320 379h1v1h-1zM289 354h1v1h-1zM294 356h1v1h-1zM270 362h1v1h-1zM295 373h1v1h-1zM297 357h1v1h-1zM294 346h1v1h-1zM302 403h1v1h-1zM285 378h1v1h-1zM326 334h1v1h-1zM274 412h1v1h-1zM312 389h1v1h-1zM283 360h1v1h-1zM283 378h1v1h-1zM286 350h1v1h-1zM274 380h1v1h-1zM289 374h1v1h-1zM293 383h1v1h-1zM300 362h1v1h-1zM304 363h1v1h-1zM298 397h1v1h-1zM305 354h1v1h-1zM292 377h1v1h-1zM314 369h1v1h-1zM292 351h1v1h-1zM269 373h1v1h-1zM286 340h1v1h-1zM302 361h1v1h-1zM312 363h1v1h-1zM284 394h1v1h-1zM288 386h1v1h-1zM304 337h1v1h-1zM272 348h1v1h-1zM302 353h1v1h-1zM322 388h1v1h-1zM307 375h1v1h-1zM306 382h1v1h-1zM293 363h1v1h-1zM278 368h1v1h-1zM278 332h1v1h-1zM290 362h1v1h-1zM283 384h1v1h-1zM307 400h1v1h-1zM284 381h1v1h-1zM296 390h1v1h-1zM295 359h1v1h-1zM281 368h1v1h-1zM306 375h1v1h-1zM280 348h1v1h-1zM314 367h1v1h-1zM313 354h1v1h-1zM281 330h1v1h-1zM308 344h1v1h-1zM287 381h1v1h-1zM295 364h1v1h-1zM272 391h1v1h-1zM288 389h1v1h-1zM281 390h1v1h-1zM295 362h1v1h-1zM269 388h1v1h-1zM290 390h1v1h-1zM306 401h1v1h-1zM267 372h1v1h-1zM288 354h1v1h-1zM296 362h1v1h-1zM314 352h1v1h-1zM293 392h1v1h-1zM283 385h1v1h-1zM307 361h1v1h-1zM289 365h1v1h-1zM307 375h1v1h-1zM266 350h1v1h-1zM291 371h1v1h-1zM293 340h1v1h-1zM296 380h1v1h-1zM285 350h1v1h-1zM281 360h1v1h-1zM285 375h1v1h-1zM291 364h1v1h-1zM287 366h1v1h-1zM307 393h1v1h-1zM303 350h1v1h-1zM314 361h1v1h-1zM274 361h1v1h-1zM299 368h1v1h-1zM292 349h1v1h-1zM303 364h1v1h-1zM291 380h1v1h-1zM308 357h1v1h-1zM292 374h1v1h-1zM290 366h1v1h-1zM298 359h1v1h-1zM295 330h1v1h-1zM288 392h1v1h-1zM287 348h1v1h-1zM268 388h1v1h-1zM292 392h1v1h-1zM311 369h1v1h-1zM306 364h1v1h-1zM291 351h1v1h-1zM282 381h1v1h-1zM302 356h1v1h-1zM309 374h1v1h-1zM276 355h1v1h-1zM281 371h1v1h-1zM290 353h1v1h-1zM292 379h1v1h-1zM301 372h1v1h-1zM286 350h1v1h-1zM283 371h1v1h-1zM291 396h1v1h-1zM300 364h1v1h-1zM279 323h1v1h-1zM303 398h1v1h-1zM300 376h1v1h-1zM293 368h1v1h-1zM293 350h1v1h-1zM278 391h1v1h-1zM292 405h1v1h-1zM308 415h1v1h-1zM304 351h1v1h-1zM317 353h1v1h-1zM304 363h1v1h-1zM282 376h1v1h-1zM276 376h1v1h-1zM300 354h1v1h-1zM282 362h1v1h-1zM288 370h1v1h-1zM274 361h1v1h-1zM269 347h1v1h-1zM281 366h1v1h-1zM306 362h1v1h-1zM298 389h1v1h-1zM289 353h1v1h-1zM293 375h1v1h-1zM280 361h1v1h-1zM295 357h1v1h-1zM286 361h1v1h-1zM295 376h1v1h-1zM279 343h1v1h-1zM268 382h1v1h-1zM301 331h1v1h-1zM283 351h1v1h-1zM271 385h1v1h-1zM290 381h1v1h-1zM325 367h1v1h-1zM278 338h1v1h-1zM315 378h1v1h-1zM283 359h1v1h-1zM289 396h1v1h-1zM312 351h1v1h-1zM310 374h1v1h-1zM287 379h1v1h-1zM310 376h1v1h-1zM291 385h1v1h-1zM290 392h1v1h-1zM278 342h1v1h-1zM298 356h1v1h-1zM296 362h1v1h-1zM270 375h1v1h-1zM303 357h1v1h-1zM283 341h1v1h-1zM315 377h1v1h-1zM296 359h1v1h-1zM286 386h1v1h-1zM325 349h1v1h-1zM298 385h1v1h-1zM296 372h1v1h-1zM300 411h1v1h-1zM300 360h1v1h-1zM278 349h1v1h-1zM267 379h1v1h-1zM302 376h1v1h-1zM316 395h1v1h-1zM297 348h1v1h-1zM316 387h1v1h-1zM298 330h1v1h-1zM312 358h1v1h-1zM267 369h1v1h-1zM310 395h1v1h-1zM287 387h1v1h-1zM294 366h1v1h-1zM279 397h1v1h-1zM268 391h1v1h-1zM290 354h1v1h-1zM279 368h1v1h-1zM281 342h1v1h-1zM287 367h1v1h-1zM298 358h1v1h-1zM275 341h1v1h-1zM288 369h1v1h-1zM286 365h1v1h-1zM297 379h1v1h-1zM301 389h1v1h-1zM293 347h1v1h-1zM298 365h1v1h-1zM287 382h1v1h-1zM272 361h1v1h-1zM290 387h1v1h-1zM283 379h1v1h-1zM314 378h1v1h-1zM307 371h1v1h-1zM295 387h1v1h-1zM285 335h1v1h-1zM306 348h1v1h-1zM292 370h1v1h-1zM310 399h1v1h-1zM282 380h1v1h-1zM285 381h1v1h-1zM296 382h1v1h-1zM277 371h1v1h-1zM299 371h1v1h-1zM308 371h1v1h-1zM275 336h1v1h-1zM277 383h1v1h-1zM296 345h1v1h-1zM285 365h1v1h-1zM283 340h1v1h-1zM286 394h1v1h-1zM294 376h1v1h-1zM284 388h1v1h-1zM284 377h1v1h-1zM314 361h1v1h-1zM291 375h1v1h-1zM286 326h1v1h-1zM288 339h1v1h-1zM314 362h1v1h-1zM304 382h1v1h-1zM278 383h1v1h-1zM303 390h1v1h-1zM289 353h1v1h-1zM283 355h1v1h-1zM285 349h1v1h-1zM308 362h1v1h-1zM298 369h1v1h-1zM290 360h1v1h-1zM294 345h1v1h-1zM284 384h1v1h-1zM302 348h1v1h-1zM279 378h1v1h-1zM279 358h1v1h-1zM289 349h1v1h-1zM291 377h1v1h-1zM284 371h1v1h-1zM295 379h1v1h-1zM273 400h1v1h-1zM281 366h1v1h-1zM277 371h1v1h-1zM317 379h1v1h-1zM285 357h1v1h-1zM299 366h1v1h-1zM296 377h1v1h-1zM297 376h1v1h-1zM299 361h1v1h-1zM285 368h1v1h-1zM290 375h1v1h-1zM285 379h1v1h-1zM286 310h1v1h-1zM298 387h1v1h-1zM311 379h1v1h-1zM279 380h1v1h-1zM286 340h1v1h-1zM273 390h1v1h-1zM284 361h1v1h-1zM296 379h1v1h-1zM303 332h1v1h-1zM302 389h1v1h-1zM297 371h1v1h-1zM285 346h1v1h-1zM279 376h1v1h-1zM279 373h1v1h-1zM285 411h1v1h-1zM309 378h1v1h-1zM298 384h1v1h-1zM300 370h1v1h-1zM290 364h1v1h-1zM276 381h1v1h-1zM287 364h1v1h-1zM282 375h1v1h-1zM302 332h1v1h-1zM272 349h1v1h-1zM286 328h1v1h-1zM304 393h1v1h-1zM282 342h1v1h-1zM300 359h1v1h-1zM306 384h1v1h-1zM299 417h1v1h-1zM306 356h1v1h-1zM299 343h1v1h-1zM308 355h1v1h-1zM292 377h1v1h-1zM296 340h1v1h-1zM299 357h1v1h-1zM316 351h1v1h-1zM291 365h1v1h-1zM294 349h1v1h-1zM301 380h1v1h-1zM304 362h1v1h-1zM289 350h1v1h-1zM284 388h1v1h-1zM271 360h1v1h-1zM287 358h1v1h-1zM310 343h1v1h-1zM285 367h1v1h-1zM266 379h1v1h-1zM291 384h1v1h-1zM284 338h1v1h-1zM299 351h1v1h-1zM291 354h1v1h-1zM313 376h1v1h-1zM295 406h1v1h-1zM287 383h1v1h-1zM294 364h1v1h-1zM305 364h1v1h-1zM305 372h1v1h-1zM300 378h1v1h-1zM275 367h1v1h-1zM297 375h1v1h-1zM292 368h1v1h-1zM298 360h1v1h-1zM312 370h1v1h-1zM289 376h1v1h-1zM284 370h1v1h-1zM307 378h1v1h-1zM293 385h1v1h-1zM278 352h1v1h-1zM287 387h1v1h-1zM290 404h1v1h-1zM317 352h1v1h-1zM274 384h1v1h-1zM286 400h1v1h-1zM301 364h1v1h-1zM331 398h1v1h-1zM270 353h1v1h-1zM307 339h1v1h-1zM301 376h1v1h-1zM273 396h1v1h-1zM291 354h1v1h-1zM309 394h1v1h-1zM295 365h1v1h-1zM289 376h1v1h-1zM290 369h1v1h-1zM286 375h1v1h-1zM327 385h1v1h-1zM311 403h1v1h-1zM291 350h1v1h-1zM283 380h1v1h-1zM290 392h1v1h-1zM305 386h1v1h-1zM283 368h1v1h-1zM304 363h1v1h-1zM277 346h1v1h-1zM291 343h1v1h-1zM278 373h1v1h-1zM292 361h1v1h-1zM268 353h1v1h-1zM277 374h1v1h-1zM284 337h1v1h-1zM284 390h1v1h-1zM300 343h1v1h-1zM281 390h1v1h-1zM312 377h1v1h-1zM293 371h1v1h-1zM285 385h1v1h-1zM288 353h1v1h-1zM296 331h1v1h-1zM333 379h1v1h-1zM302 373h1v1h-1zM314 384h1v1h-1zM303 363h1v1h-1zM294 353h1v1h-1zM304 352h1v1h-1zM288 364h1v1h-1zM272 388h1v1h-1zM302 371h1v1h-1zM290 366h1v1h-1zM303 396h1v1h-1zM299 388h1v1h-1zM308 359h1v1h-1zM291 361h1v1h-1zM276 364h1v1h-1zM277 370h1v1h-1zM310 378h1v1h-1zM280 392h1v1h-1zM291 409h1v1h-1zM267 376h1v1h-1zM281 365h1v1h-1zM282 374h1v1h-1zM279 364h1v1h-1zM309 363h1v1h-1zM269 353h1v1h-1zM283 353h1v1h-1zM267 367h1v1h-1zM306 375h1v1h-1zM308 380h1v1h-1zM307 371h1v1h-1zM301 380h1v1h-1zM303 365h1v1h-1zM275 392h1v1h-1zM295 381h1v1h-1zM276 380h1v1h-1zM295 382h1v1h-1zM303 373h1v1h-1zM278 384h1v1h-1zM288 390h1v1h-1zM295 352h1v1h-1zM288 336h1v1h-1zM313 353h1v1h-1zM280 347h1v1h-1zM271 395h1v1h-1zM297 384h1v1h-1zM304 384h1v1h-1zM309 352h1v1h-1zM321 371h1v1h-1zM301 372h1v1h-1zM290 368h1v1h-1zM298 340h1v1h-1zM312 361h1v1h-1zM283 373h1v1h-1zM284 392h1v1h-1zM297 357h1v1h-1zM272 363h1v1h-1zM295 397h1v1h-1zM290 385h1v1h-1zM302 412h1v1h-1zM304 372h1v1h-1zM280 353h1v1h-1zM295 390h1v1h-1zM275 372h1v1h-1zM285 371h1v1h-1zM288 351h1v1h-1zM316 365h1v1h-1zM319 369h1v1h-1zM289 346h1v1h-1zM304 403h1v1h-1zM310 377h1v1h-1zM300 370h1v1h-1zM334 389h1v1h-1zM301 344h1v1h-1zM320 388h1v1h-1zM300 371h1v1h-1zM321 388h1v1h-1zM297 385h1v1h-1zM298 383h1v1h-1zM290 377h1v1h-1zM312 395h1v1h-1zM325 356h1v1h-1zM318 344h1v1h-1zM285 380h1v1h-1zM315 364h1v1h-1zM313 360h1v1h-1zM304 374h1v1h-1zM310 364h1v1h-1zM296 385h1v1h-1zM314 336h1v1h-1zM326 361h1v1h-1zM307 396h1v1h-1zM302 368h1v1h-1zM322 370h1v1h-1zM274 371h1v1h-1zM315 393h1v1h-1zM340 361h1v1h-1zM291 385h1v1h-1zM306 375h1v1h-1zM336 362h1v1h-1zM320 372h1v1h-1zM287 370h1v1h-1zM329 355h1v1h-1zM332 385h1v1h-1zM307 384h1v1h-1zM306 377h1v1h-1zM307 393h1v1h-1zM301 385h1v1h-1zM295 379h1v1h-1zM317 386h1v1h-1zM310 380h1v1h-1zM282 373h1v1h-1zM312 409h1v1h-1zM301 390h1v1h-1zM314 362h1v1h-1zM280 378h1v1h-1zM325 384h1v1h-1zM306 394h1v1h-1zM291 370h1v1h-1zM303 411h1v1h-1zM335 370h1v1h-1zM292 361h1v1h-1zM330 384h1v1h-1zM300 382h1v1h-1zM306 364h1v1h-1zM317 373h1v1h-1zM310 394h1v1h-1zM316 383h1v1h-1zM307 367h1v1h-1zM326 395h1v1h-1zM324 361h1v1h-1zM303 369h1v1h-1zM332 363h1v1h-1zM318 360h1v1h-1zM314 394h1v1h-1zM297 391h1v1h-1zM317 385h1v1h-1zM304 375h1v1h-1zM321 393h1v1h-1zM287 387h1v1h-1zM329 375h1v1h-1zM302 365h1v1h-1zM301 369h1v1h-1zM323 365h1v1h-1zM312 393h1v1h-1zM313 374h1v1h-1zM335 376h1v1h-1zM300 377h1v1h-1zM311 391h1v1h-1zM309 357h1v1h-1zM298 378h1v1h-1zM305 381h1v1h-1zM296 394h1v1h-1zM345 381h1v1h-1zM327 379h1v1h-1zM307 395h1v1h-1zM310 398h1v1h-1zM340 386h1v1h-1zM336 363h1v1h-1zM309 370h1v1h-1zM299 364h1v1h-1zM316 362h1v1h-1zM314 365h1v1h-1zM319 379h1v1h-1zM324 377h1v1h-1zM317 384h1v1h-1zM336 370h1v1h-1zM307 379h1v1h-1zM312 376h1v1h-1zM311 362h1v1h-1zM310 380h1v1h-1zM296 352h1v1h-1zM284 387h1v1h-1zM316 390h1v1h-1zM303 382h1v1h-1zM328 376h1v1h-1zM331 378h1v1h-1zM319 389h1v1h-1zM317 365h1v1h-1zM309 407h1v1h-1zM309 414h1v1h-1zM317 379h1v1h-1zM331 377h1v1h-1zM288 369h1v1h-1zM303 406h1v1h-1zM306 407h1v1h-1zM282 378h1v1h-1zM336 371h1v1h-1zM321 391h1v1h-1zM324 369h1v1h-1zM315 394h1v1h-1zM315 382h1v1h-1zM310 376h1v1h-1zM301 385h1v1h-1zM315 364h1v1h-1zM293 385h1v1h-1zM319 392h1v1h-1zM316 392h1v1h-1zM323 344h1v1h-1zM335 370h1v1h-1zM326 382h1v1h-1zM302 388h1v1h-1zM291 383h1v1h-1zM330 378h1v1h-1zM333 386h1v1h-1zM330 368h1v1h-1zM318 336h1v1h-1zM321 371h1v1h-1zM299 366h1v1h-1zM297 376h1v1h-1zM324 379h1v1h-1zM340 383h1v1h-1zM313 373h1v1h-1zM293 354h1v1h-1zM297 361h1v1h-1zM298 379h1v1h-1zM308 383h1v1h-1zM308 387h1v1h-1zM299 384h1v1h-1zM313 392h1v1h-1zM317 365h1v1h-1zM329 383h1v1h-1zM298 400h1v1h-1zM305 389h1v1h-1zM292 376h1v1h-1zM315 381h1v1h-1zM312 366h1v1h-1zM335 367h1v1h-1zM306 376h1v1h-1zM311 380h1v1h-1zM296 368h1v1h-1zM310 364h1v1h-1zM335 360h1v1h-1zM305 361h1v1h-1zM326 370h1v1h-1zM341 378h1v1h-1zM298 291h1v1h-1zM342 305h1v1h-1zM330 318h1v1h-1zM335 330h1v1h-1zM350 395h1v1h-1zM348 410h1v1h-1zM343 405h1v1h-1zM322 345h1v1h-1zM338 355h1v1h-1zM344 365h1v1h-1zM315 330h1v1h-1z" fill="#000" fill-opacity="0.76"/>
<rect x="264.8" y="255.4" width="165.8" height="165" fill="none" stroke="#7a7a7a" stroke-width="1.2"/>
<line x1="305.8" y1="255.4" x2="305.8" y2="420.4" stroke="#333" stroke-width="1.1" />
<line x1="264.8" y1="363.9" x2="430.6" y2="363.9" stroke="#333" stroke-width="1.1" />
<line x1="264.8" y1="420.4" x2="264.8" y2="424.4" stroke="#333" stroke-width="1" />
<line x1="260.8" y1="420.4" x2="264.8" y2="420.4" stroke="#333" stroke-width="1" />
<text x="265.3" y="433.4" font-family='"Liberation Sans", sans-serif' font-size="7" text-anchor="middle" fill="#222" stroke="#222" stroke-width="0.3">1</text>
<text x="258.8" y="422.9" font-family='"Liberation Sans", sans-serif' font-size="7" text-anchor="end" fill="#222" stroke="#222" stroke-width="0.3">1</text>
<line x1="277.2" y1="420.4" x2="277.2" y2="422.6" stroke="#444" stroke-width="0.9" />
<line x1="262.6" y1="408.12" x2="264.8" y2="408.12" stroke="#444" stroke-width="0.9" />
<line x1="284.46" y1="420.4" x2="284.46" y2="422.6" stroke="#444" stroke-width="0.9" />
<line x1="262.6" y1="400.93" x2="264.8" y2="400.93" stroke="#444" stroke-width="0.9" />
<line x1="289.6" y1="420.4" x2="289.6" y2="422.6" stroke="#444" stroke-width="0.9" />
<line x1="262.6" y1="395.84" x2="264.8" y2="395.84" stroke="#444" stroke-width="0.9" />
<line x1="293.6" y1="420.4" x2="293.6" y2="422.6" stroke="#444" stroke-width="0.9" />
<line x1="262.6" y1="391.88" x2="264.8" y2="391.88" stroke="#444" stroke-width="0.9" />
<line x1="296.86" y1="420.4" x2="296.86" y2="422.6" stroke="#444" stroke-width="0.9" />
<line x1="262.6" y1="388.65" x2="264.8" y2="388.65" stroke="#444" stroke-width="0.9" />
<line x1="299.62" y1="420.4" x2="299.62" y2="422.6" stroke="#444" stroke-width="0.9" />
<line x1="262.6" y1="385.92" x2="264.8" y2="385.92" stroke="#444" stroke-width="0.9" />
<line x1="302.01" y1="420.4" x2="302.01" y2="422.6" stroke="#444" stroke-width="0.9" />
<line x1="262.6" y1="383.55" x2="264.8" y2="383.55" stroke="#444" stroke-width="0.9" />
<line x1="304.11" y1="420.4" x2="304.11" y2="422.6" stroke="#444" stroke-width="0.9" />
<line x1="262.6" y1="381.47" x2="264.8" y2="381.47" stroke="#444" stroke-width="0.9" />
<line x1="306" y1="420.4" x2="306" y2="424.4" stroke="#333" stroke-width="1" />
<line x1="260.8" y1="379.6" x2="264.8" y2="379.6" stroke="#333" stroke-width="1" />
<text x="306.5" y="433.4" font-family='"Liberation Sans", sans-serif' font-size="7" text-anchor="middle" fill="#222" stroke="#222" stroke-width="0.3">10</text>
<text x="258.8" y="382.1" font-family='"Liberation Sans", sans-serif' font-size="7" text-anchor="end" fill="#222" stroke="#222" stroke-width="0.3">10</text>
<line x1="318.4" y1="420.4" x2="318.4" y2="422.6" stroke="#444" stroke-width="0.9" />
<line x1="262.6" y1="367.32" x2="264.8" y2="367.32" stroke="#444" stroke-width="0.9" />
<line x1="325.66" y1="420.4" x2="325.66" y2="422.6" stroke="#444" stroke-width="0.9" />
<line x1="262.6" y1="360.13" x2="264.8" y2="360.13" stroke="#444" stroke-width="0.9" />
<line x1="330.8" y1="420.4" x2="330.8" y2="422.6" stroke="#444" stroke-width="0.9" />
<line x1="262.6" y1="355.04" x2="264.8" y2="355.04" stroke="#444" stroke-width="0.9" />
<line x1="334.8" y1="420.4" x2="334.8" y2="422.6" stroke="#444" stroke-width="0.9" />
<line x1="262.6" y1="351.08" x2="264.8" y2="351.08" stroke="#444" stroke-width="0.9" />
<line x1="338.06" y1="420.4" x2="338.06" y2="422.6" stroke="#444" stroke-width="0.9" />
<line x1="262.6" y1="347.85" x2="264.8" y2="347.85" stroke="#444" stroke-width="0.9" />
<line x1="340.82" y1="420.4" x2="340.82" y2="422.6" stroke="#444" stroke-width="0.9" />
<line x1="262.6" y1="345.12" x2="264.8" y2="345.12" stroke="#444" stroke-width="0.9" />
<line x1="343.21" y1="420.4" x2="343.21" y2="422.6" stroke="#444" stroke-width="0.9" />
<line x1="262.6" y1="342.75" x2="264.8" y2="342.75" stroke="#444" stroke-width="0.9" />
<line x1="345.31" y1="420.4" x2="345.31" y2="422.6" stroke="#444" stroke-width="0.9" />
<line x1="262.6" y1="340.67" x2="264.8" y2="340.67" stroke="#444" stroke-width="0.9" />
<line x1="347.2" y1="420.4" x2="347.2" y2="424.4" stroke="#333" stroke-width="1" />
<line x1="260.8" y1="338.8" x2="264.8" y2="338.8" stroke="#333" stroke-width="1" />
<text x="347.7" y="433.4" font-family='"Liberation Sans", sans-serif' font-size="7" text-anchor="middle" fill="#222" stroke="#222" stroke-width="0.3">100</text>
<text x="258.8" y="341.3" font-family='"Liberation Sans", sans-serif' font-size="7" text-anchor="end" fill="#222" stroke="#222" stroke-width="0.3">100</text>
<line x1="359.6" y1="420.4" x2="359.6" y2="422.6" stroke="#444" stroke-width="0.9" />
<line x1="262.6" y1="326.52" x2="264.8" y2="326.52" stroke="#444" stroke-width="0.9" />
<line x1="366.86" y1="420.4" x2="366.86" y2="422.6" stroke="#444" stroke-width="0.9" />
<line x1="262.6" y1="319.33" x2="264.8" y2="319.33" stroke="#444" stroke-width="0.9" />
<line x1="372" y1="420.4" x2="372" y2="422.6" stroke="#444" stroke-width="0.9" />
<line x1="262.6" y1="314.24" x2="264.8" y2="314.24" stroke="#444" stroke-width="0.9" />
<line x1="376" y1="420.4" x2="376" y2="422.6" stroke="#444" stroke-width="0.9" />
<line x1="262.6" y1="310.28" x2="264.8" y2="310.28" stroke="#444" stroke-width="0.9" />
<line x1="379.26" y1="420.4" x2="379.26" y2="422.6" stroke="#444" stroke-width="0.9" />
<line x1="262.6" y1="307.05" x2="264.8" y2="307.05" stroke="#444" stroke-width="0.9" />
<line x1="382.02" y1="420.4" x2="382.02" y2="422.6" stroke="#444" stroke-width="0.9" />
<line x1="262.6" y1="304.32" x2="264.8" y2="304.32" stroke="#444" stroke-width="0.9" />
<line x1="384.41" y1="420.4" x2="384.41" y2="422.6" stroke="#444" stroke-width="0.9" />
<line x1="262.6" y1="301.95" x2="264.8" y2="301.95" stroke="#444" stroke-width="0.9" />
<line x1="386.51" y1="420.4" x2="386.51" y2="422.6" stroke="#444" stroke-width="0.9" />
<line x1="262.6" y1="299.87" x2="264.8" y2="299.87" stroke="#444" stroke-width="0.9" />
<line x1="388.4" y1="420.4" x2="388.4" y2="424.4" stroke="#333" stroke-width="1" />
<line x1="260.8" y1="298" x2="264.8" y2="298" stroke="#333" stroke-width="1" />
<text x="388.9" y="433.4" font-family='"Liberation Sans", sans-serif' font-size="7" text-anchor="middle" fill="#222" stroke="#222" stroke-width="0.3">1000</text>
<text x="258.8" y="300.5" font-family='"Liberation Sans", sans-serif' font-size="7" text-anchor="end" fill="#222" stroke="#222" stroke-width="0.3">1000</text>
<line x1="400.8" y1="420.4" x2="400.8" y2="422.6" stroke="#444" stroke-width="0.9" />
<line x1="262.6" y1="285.72" x2="264.8" y2="285.72" stroke="#444" stroke-width="0.9" />
<line x1="408.06" y1="420.4" x2="408.06" y2="422.6" stroke="#444" stroke-width="0.9" />
<line x1="262.6" y1="278.53" x2="264.8" y2="278.53" stroke="#444" stroke-width="0.9" />
<line x1="413.2" y1="420.4" x2="413.2" y2="422.6" stroke="#444" stroke-width="0.9" />
<line x1="262.6" y1="273.44" x2="264.8" y2="273.44" stroke="#444" stroke-width="0.9" />
<line x1="417.2" y1="420.4" x2="417.2" y2="422.6" stroke="#444" stroke-width="0.9" />
<line x1="262.6" y1="269.48" x2="264.8" y2="269.48" stroke="#444" stroke-width="0.9" />
<line x1="420.46" y1="420.4" x2="420.46" y2="422.6" stroke="#444" stroke-width="0.9" />
<line x1="262.6" y1="266.25" x2="264.8" y2="266.25" stroke="#444" stroke-width="0.9" />
<line x1="423.22" y1="420.4" x2="423.22" y2="422.6" stroke="#444" stroke-width="0.9" />
<line x1="262.6" y1="263.52" x2="264.8" y2="263.52" stroke="#444" stroke-width="0.9" />
<line x1="425.61" y1="420.4" x2="425.61" y2="422.6" stroke="#444" stroke-width="0.9" />
<line x1="262.6" y1="261.15" x2="264.8" y2="261.15" stroke="#444" stroke-width="0.9" />
<line x1="427.71" y1="420.4" x2="427.71" y2="422.6" stroke="#444" stroke-width="0.9" />
<line x1="262.6" y1="259.07" x2="264.8" y2="259.07" stroke="#444" stroke-width="0.9" />
<line x1="429.6" y1="420.4" x2="429.6" y2="424.4" stroke="#333" stroke-width="1" />
<line x1="260.8" y1="257.2" x2="264.8" y2="257.2" stroke="#333" stroke-width="1" />
<text x="430.1" y="433.4" font-family='"Liberation Sans", sans-serif' font-size="7" text-anchor="middle" fill="#222" stroke="#222" stroke-width="0.3">10000</text>
<text x="258.8" y="259.7" font-family='"Liberation Sans", sans-serif' font-size="7" text-anchor="end" fill="#222" stroke="#222" stroke-width="0.3">10000</text>
<text x="264.9" y="249.6" font-family='"Liberation Sans", sans-serif' font-size="20" font-weight="bold" fill="#000" >R3 gated</text>
<rect x="265.6" y="256.2" width="16" height="12.5" fill="#fff"/>
<rect x="265.6" y="407.6" width="16" height="12.1" fill="#fff"/>
<text x="267.7" y="267.6" font-family='"Liberation Serif", serif' font-size="13.5" fill="#111" >54</text>
<text x="416.1" y="268.2" font-family='"Liberation Serif", serif' font-size="13.5" fill="#111" >8</text>
<text x="267.2" y="418.4" font-family='"Liberation Serif", serif' font-size="13.5" fill="#111" >33</text>
<text x="414.7" y="417.2" font-family='"Liberation Serif", serif' font-size="13.5" fill="#111" >5</text>
<line x1="235.6" y1="46" x2="235.6" y2="128.7" stroke="#000" stroke-width="1" />
<polygon points="232.6,47 238.6,47 235.6,40" fill="#000"/>
<text transform="translate(241.9,159.8) rotate(-90) scale(1.074,1)" font-family='"Liberation Serif", serif' font-size="21" text-anchor="middle" fill="#000">Mac-1</text>
<text x="272.6" y="219" font-family='"Liberation Serif", serif' font-size="22.2" fill="#000" >CD4</text>
<line x1="320.8" y1="211.7" x2="405" y2="211.7" stroke="#000" stroke-width="1" />
<polygon points="404,208.7 404,214.7 411,211.7" fill="#000"/>
<line x1="22.4" y1="256" x2="22.4" y2="448.8" stroke="#333" stroke-width="1.1" />
<polygon points="19.4,257 25.4,257 22.4,249.6" fill="#000"/>
<line x1="22.4" y1="448.8" x2="421" y2="448.8" stroke="#333" stroke-width="1.1" />
<polygon points="421,445.8 421,451.8 428,448.8" fill="#000"/>
<text transform="translate(19.6,352.7) rotate(-90) scale(1.074,1)" font-family='"Liberation Serif", serif' font-size="21" text-anchor="middle" fill="#000">Mac-1</text>
<text x="200.6" y="465.7" font-family='"Liberation Serif", serif' font-size="21.9" fill="#000" >CD4</text>
<rect x="71.3" y="500.5" width="336.9" height="203.1" fill="none" stroke="#000" stroke-width="1.4"/>
<line x1="67.6" y1="703.6" x2="71.3" y2="703.6" stroke="#000" stroke-width="1.3" />
<text x="62.5" y="707.7" font-family='"Liberation Sans", sans-serif' font-size="11.4" text-anchor="end" fill="#222" >0</text>
<line x1="67.6" y1="669.75" x2="71.3" y2="669.75" stroke="#000" stroke-width="1.3" />
<text x="62.5" y="673.85" font-family='"Liberation Sans", sans-serif' font-size="11.4" text-anchor="end" fill="#222" >10</text>
<line x1="67.6" y1="635.9" x2="71.3" y2="635.9" stroke="#000" stroke-width="1.3" />
<text x="62.5" y="640" font-family='"Liberation Sans", sans-serif' font-size="11.4" text-anchor="end" fill="#222" >20</text>
<line x1="67.6" y1="602.05" x2="71.3" y2="602.05" stroke="#000" stroke-width="1.3" />
<text x="62.5" y="606.15" font-family='"Liberation Sans", sans-serif' font-size="11.4" text-anchor="end" fill="#222" >30</text>
<line x1="67.6" y1="568.2" x2="71.3" y2="568.2" stroke="#000" stroke-width="1.3" />
<text x="62.5" y="572.3" font-family='"Liberation Sans", sans-serif' font-size="11.4" text-anchor="end" fill="#222" >40</text>
<line x1="67.6" y1="534.35" x2="71.3" y2="534.35" stroke="#000" stroke-width="1.3" />
<text x="62.5" y="538.45" font-family='"Liberation Sans", sans-serif' font-size="11.4" text-anchor="end" fill="#222" >50</text>
<line x1="67.6" y1="500.5" x2="71.3" y2="500.5" stroke="#000" stroke-width="1.3" />
<text x="62.5" y="504.6" font-family='"Liberation Sans", sans-serif' font-size="11.4" text-anchor="end" fill="#222" >60</text>
<line x1="71.5" y1="703.6" x2="71.5" y2="708.6" stroke="#000" stroke-width="1.3" />
<text x="71.5" y="724.6" font-family='"Liberation Sans", sans-serif' font-size="11.4" text-anchor="middle" fill="#222" >4</text>
<line x1="167.5" y1="703.6" x2="167.5" y2="708.6" stroke="#000" stroke-width="1.3" />
<text x="167.5" y="724.6" font-family='"Liberation Sans", sans-serif' font-size="11.4" text-anchor="middle" fill="#222" >8</text>
<line x1="263.5" y1="703.6" x2="263.5" y2="708.6" stroke="#000" stroke-width="1.3" />
<text x="263.5" y="724.6" font-family='"Liberation Sans", sans-serif' font-size="11.4" text-anchor="middle" fill="#222" >12</text>
<line x1="359.5" y1="703.6" x2="359.5" y2="708.6" stroke="#000" stroke-width="1.3" />
<text x="359.5" y="724.6" font-family='"Liberation Sans", sans-serif' font-size="11.4" text-anchor="middle" fill="#222" >16</text>
<polyline points="71.5,585.12 167.5,615.59 263.5,652.83 407.5,662.98" fill="none" stroke="#111" stroke-width="1.1" stroke-dasharray="2,1.8"/>
<polyline points="71.5,602.05 167.5,649.44 263.5,656.21 407.5,652.83" fill="none" stroke="#111" stroke-width="1.1" stroke-dasharray="2,1.8"/>
<polyline points="71.5,639.29 167.5,676.52 263.5,683.29 407.5,686" fill="none" stroke="#111" stroke-width="1.1" stroke-dasharray="2,1.8"/>
<polyline points="71.5,649.44 167.5,689.38 263.5,692.77 407.5,703.6" fill="none" stroke="#111" stroke-width="1.1" stroke-dasharray="2,1.8"/>
<polyline points="71.5,669.75 167.5,693.45 263.5,697.85 407.5,703.6" fill="none" stroke="#111" stroke-width="1.1" stroke-dasharray="2,1.8"/>
<polyline points="71.5,558.05 167.5,524.2 263.5,544.5 407.5,534.35" fill="none" stroke="#111" stroke-width="1.15"/>
<polyline points="71.5,571.59 167.5,534.35 263.5,500.5 407.5,517.43" fill="none" stroke="#111" stroke-width="1.15"/>
<polyline points="71.5,605.44 167.5,568.2 263.5,571.59 407.5,561.43" fill="none" stroke="#111" stroke-width="1.15"/>
<polyline points="71.5,618.98 167.5,581.74 263.5,564.82 407.5,574.97" fill="none" stroke="#111" stroke-width="1.15"/>
<polyline points="71.5,659.6 167.5,635.9 263.5,612.21 407.5,605.44" fill="none" stroke="#111" stroke-width="1.15"/>
<circle cx="71.5" cy="558.05" r="2.7" fill="#000"/>
<circle cx="167.5" cy="524.2" r="2.7" fill="#000"/>
<circle cx="263.5" cy="544.5" r="2.7" fill="#000"/>
<circle cx="407.5" cy="534.35" r="2.7" fill="#000"/>
<circle cx="71.5" cy="571.59" r="2.7" fill="#000"/>
<circle cx="167.5" cy="534.35" r="2.7" fill="#000"/>
<circle cx="263.5" cy="500.5" r="2.7" fill="#000"/>
<circle cx="407.5" cy="517.43" r="2.7" fill="#000"/>
<circle cx="71.5" cy="605.44" r="2.7" fill="#000"/>
<circle cx="167.5" cy="568.2" r="2.7" fill="#000"/>
<circle cx="263.5" cy="571.59" r="2.7" fill="#000"/>
<circle cx="407.5" cy="561.43" r="2.7" fill="#000"/>
<circle cx="71.5" cy="618.98" r="2.7" fill="#000"/>
<circle cx="167.5" cy="581.74" r="2.7" fill="#000"/>
<circle cx="263.5" cy="564.82" r="2.7" fill="#000"/>
<circle cx="407.5" cy="574.97" r="2.7" fill="#000"/>
<circle cx="71.5" cy="659.6" r="2.7" fill="#000"/>
<circle cx="167.5" cy="635.9" r="2.7" fill="#000"/>
<circle cx="263.5" cy="612.21" r="2.7" fill="#000"/>
<circle cx="407.5" cy="605.44" r="2.7" fill="#000"/>
<circle cx="71.5" cy="585.12" r="2.35" fill="#fff" stroke="#000" stroke-width="1"/>
<circle cx="167.5" cy="615.59" r="2.35" fill="#fff" stroke="#000" stroke-width="1"/>
<circle cx="263.5" cy="652.83" r="2.35" fill="#fff" stroke="#000" stroke-width="1"/>
<circle cx="407.5" cy="662.98" r="2.35" fill="#fff" stroke="#000" stroke-width="1"/>
<circle cx="71.5" cy="602.05" r="2.35" fill="#fff" stroke="#000" stroke-width="1"/>
<circle cx="167.5" cy="649.44" r="2.35" fill="#fff" stroke="#000" stroke-width="1"/>
<circle cx="263.5" cy="656.21" r="2.35" fill="#fff" stroke="#000" stroke-width="1"/>
<circle cx="407.5" cy="652.83" r="2.35" fill="#fff" stroke="#000" stroke-width="1"/>
<circle cx="71.5" cy="639.29" r="2.35" fill="#fff" stroke="#000" stroke-width="1"/>
<circle cx="167.5" cy="676.52" r="2.35" fill="#fff" stroke="#000" stroke-width="1"/>
<circle cx="263.5" cy="683.29" r="2.35" fill="#fff" stroke="#000" stroke-width="1"/>
<circle cx="407.5" cy="686" r="2.35" fill="#fff" stroke="#000" stroke-width="1"/>
<circle cx="71.5" cy="649.44" r="2.35" fill="#fff" stroke="#000" stroke-width="1"/>
<circle cx="167.5" cy="689.38" r="2.35" fill="#fff" stroke="#000" stroke-width="1"/>
<circle cx="263.5" cy="692.77" r="2.35" fill="#fff" stroke="#000" stroke-width="1"/>
<circle cx="407.5" cy="703.6" r="2.35" fill="#fff" stroke="#000" stroke-width="1"/>
<circle cx="71.5" cy="669.75" r="2.35" fill="#fff" stroke="#000" stroke-width="1"/>
<circle cx="167.5" cy="693.45" r="2.35" fill="#fff" stroke="#000" stroke-width="1"/>
<circle cx="263.5" cy="697.85" r="2.35" fill="#fff" stroke="#000" stroke-width="1"/>
<circle cx="407.5" cy="703.6" r="2.35" fill="#fff" stroke="#000" stroke-width="1"/>
<text x="118" y="748.5" font-family='"Liberation Serif", serif' font-size="21.7" fill="#000" >Weeks after transplantation</text>
<text transform="translate(39,614) rotate(-90) scale(1.0,1)" font-family='"Liberation Serif", serif' font-size="20.25" text-anchor="middle" fill="#000">% CD45.2 PB chimerism</text>
<circle cx="424.4" cy="580.5" r="4.2" fill="#000"/>
<circle cx="424.4" cy="603.4" r="3.7" fill="#fff" stroke="#000" stroke-width="1"/>
<g transform="translate(433.0,584.3) scale(0.877,1)"><text x="0" y="0" font-family='"Liberation Sans", sans-serif' font-size="17.7" fill="#111">SP Mac-1<tspan font-size="12" dx="1" dy="-5.3">neg</tspan></text></g>
<g transform="translate(433.0,607.0) scale(0.877,1)"><text x="0" y="0" font-family='"Liberation Sans", sans-serif' font-size="17.7" fill="#111">SP Mac-1<tspan font-size="12" dx="1" dy="-5.3">low</tspan></text></g>
</svg>
</body></html>
